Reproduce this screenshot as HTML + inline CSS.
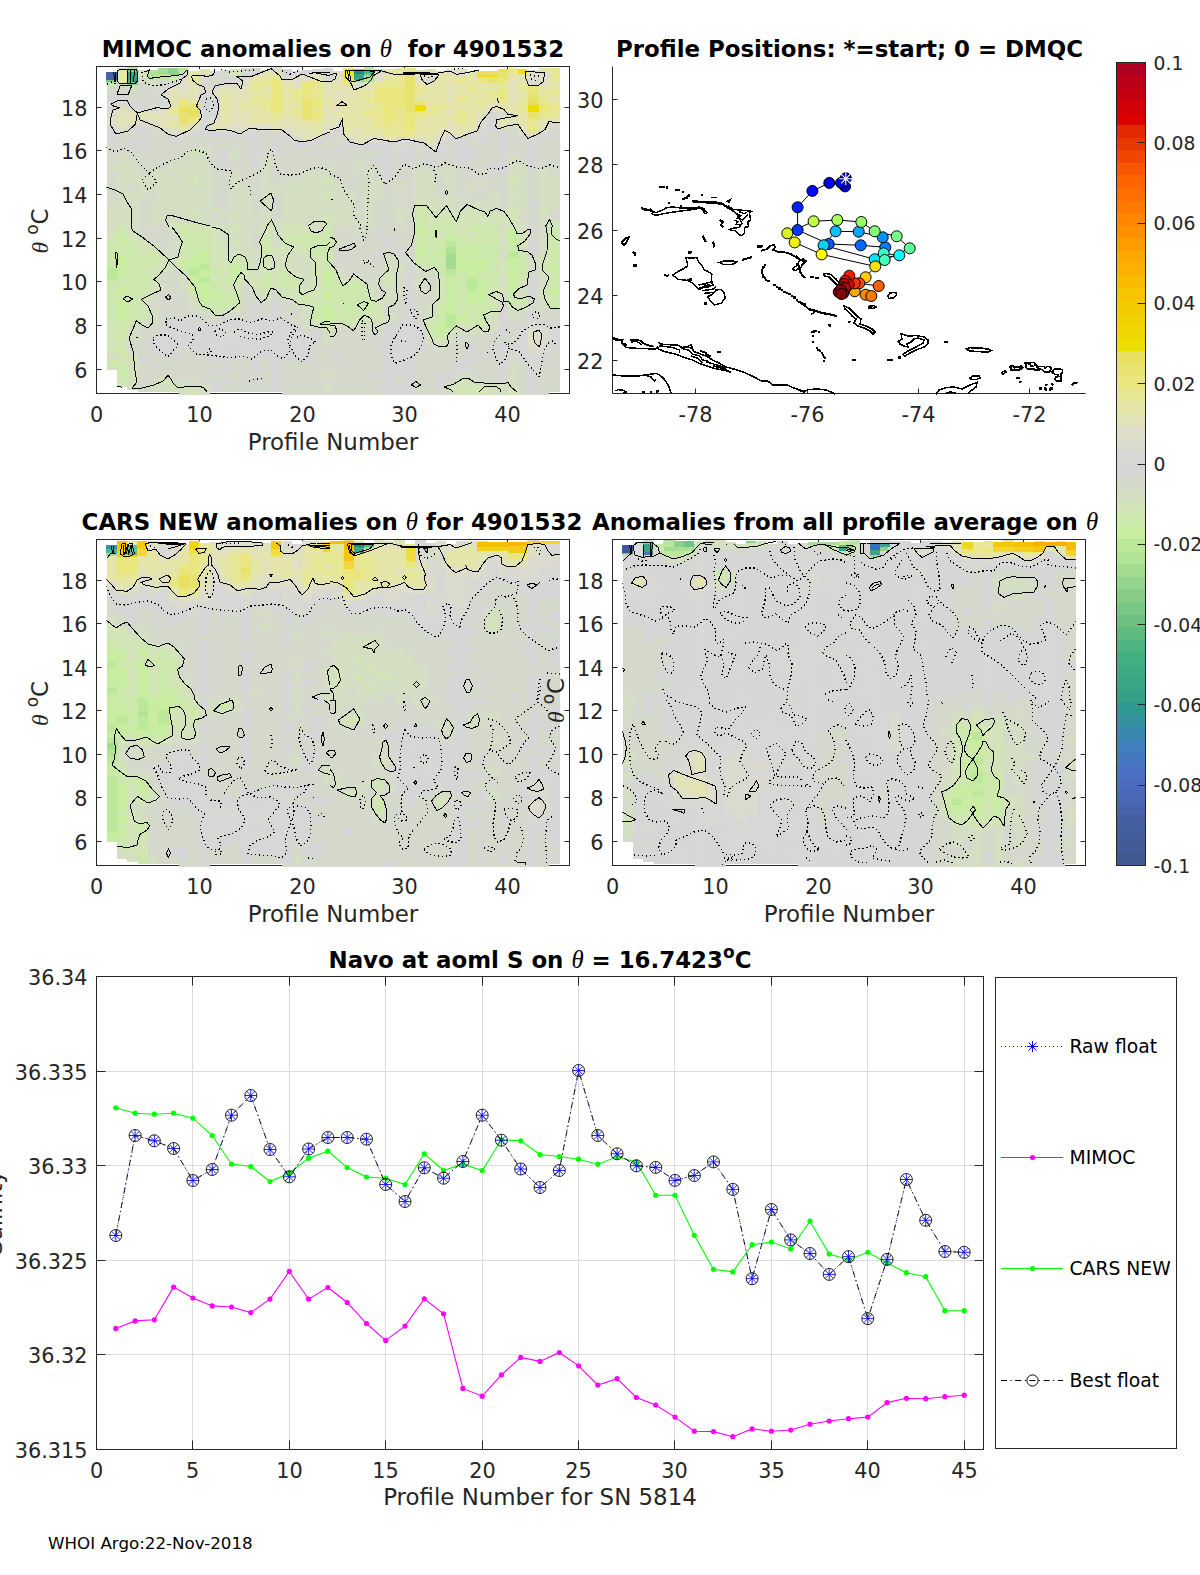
<!DOCTYPE html>
<html><head><meta charset="utf-8"><title>MIMOC anomalies 4901532</title>
<style>
html,body{margin:0;padding:0;background:#fff;}
body{width:1200px;height:1575px;overflow:hidden;}
svg{display:block;}
text{font-family:"DejaVu Sans","Liberation Sans",sans-serif;fill:#262626;}
.b{font-weight:bold;fill:#000;}
.th{font-family:"Liberation Serif","DejaVu Serif",serif;font-style:italic;font-weight:normal;}
</style></head><body>
<svg width="1200" height="1575" viewBox="0 0 1200 1575">
<rect width="1200" height="1575" fill="#fff"/>
<g shape-rendering="crispEdges">
<rect x="1116.5" y="62.500" width="29.0" height="13.147" fill="#ae0020"/>
<rect x="1116.5" y="75.047" width="29.0" height="13.147" fill="#b90018"/>
<rect x="1116.5" y="87.594" width="29.0" height="13.147" fill="#c40010"/>
<rect x="1116.5" y="100.141" width="29.0" height="13.147" fill="#cf0008"/>
<rect x="1116.5" y="112.688" width="29.0" height="13.147" fill="#da0000"/>
<rect x="1116.5" y="125.234" width="29.0" height="13.147" fill="#e22a00"/>
<rect x="1116.5" y="137.781" width="29.0" height="13.147" fill="#e93800"/>
<rect x="1116.5" y="150.328" width="29.0" height="13.147" fill="#f04700"/>
<rect x="1116.5" y="162.875" width="29.0" height="13.147" fill="#f85600"/>
<rect x="1116.5" y="175.422" width="29.0" height="13.147" fill="#ff6400"/>
<rect x="1116.5" y="187.969" width="29.0" height="13.147" fill="#ff6f00"/>
<rect x="1116.5" y="200.516" width="29.0" height="13.147" fill="#ff7b00"/>
<rect x="1116.5" y="213.062" width="29.0" height="13.147" fill="#ff8600"/>
<rect x="1116.5" y="225.609" width="29.0" height="13.147" fill="#ff9100"/>
<rect x="1116.5" y="238.156" width="29.0" height="13.147" fill="#ff9d00"/>
<rect x="1116.5" y="250.703" width="29.0" height="13.147" fill="#ffa800"/>
<rect x="1116.5" y="263.250" width="29.0" height="13.147" fill="#fcb100"/>
<rect x="1116.5" y="275.797" width="29.0" height="13.147" fill="#f9bb00"/>
<rect x="1116.5" y="288.344" width="29.0" height="13.147" fill="#f6c400"/>
<rect x="1116.5" y="300.891" width="29.0" height="13.147" fill="#f4cb00"/>
<rect x="1116.5" y="313.438" width="29.0" height="13.147" fill="#f1d200"/>
<rect x="1116.5" y="325.984" width="29.0" height="13.147" fill="#eed800"/>
<rect x="1116.5" y="338.531" width="29.0" height="13.147" fill="#ecdf00"/>
<rect x="1116.5" y="351.078" width="29.0" height="13.147" fill="#e8e060"/>
<rect x="1116.5" y="363.625" width="29.0" height="13.147" fill="#e8e36e"/>
<rect x="1116.5" y="376.172" width="29.0" height="13.147" fill="#e8e67c"/>
<rect x="1116.5" y="388.719" width="29.0" height="13.147" fill="#e6e693"/>
<rect x="1116.5" y="401.266" width="29.0" height="13.147" fill="#e5e5aa"/>
<rect x="1116.5" y="413.812" width="29.0" height="13.147" fill="#e2e2b9"/>
<rect x="1116.5" y="426.359" width="29.0" height="13.147" fill="#dfdec8"/>
<rect x="1116.5" y="438.906" width="29.0" height="13.147" fill="#dbdace"/>
<rect x="1116.5" y="451.453" width="29.0" height="13.147" fill="#d7d7d5"/>
<rect x="1116.5" y="464.000" width="29.0" height="13.147" fill="#d6d6d6"/>
<rect x="1116.5" y="476.547" width="29.0" height="13.147" fill="#d4d9cc"/>
<rect x="1116.5" y="489.094" width="29.0" height="13.147" fill="#d3dec2"/>
<rect x="1116.5" y="501.641" width="29.0" height="13.147" fill="#d2e4b8"/>
<rect x="1116.5" y="514.188" width="29.0" height="13.147" fill="#cde8ac"/>
<rect x="1116.5" y="526.734" width="29.0" height="13.147" fill="#c8eca0"/>
<rect x="1116.5" y="539.281" width="29.0" height="13.147" fill="#bce89a"/>
<rect x="1116.5" y="551.828" width="29.0" height="13.147" fill="#b0e494"/>
<rect x="1116.5" y="564.375" width="29.0" height="13.147" fill="#a3dc90"/>
<rect x="1116.5" y="576.922" width="29.0" height="13.147" fill="#95d48c"/>
<rect x="1116.5" y="589.469" width="29.0" height="13.147" fill="#88cc88"/>
<rect x="1116.5" y="602.016" width="29.0" height="13.147" fill="#7ac684"/>
<rect x="1116.5" y="614.562" width="29.0" height="13.147" fill="#6cc080"/>
<rect x="1116.5" y="627.109" width="29.0" height="13.147" fill="#5dbb80"/>
<rect x="1116.5" y="639.656" width="29.0" height="13.147" fill="#4fb580"/>
<rect x="1116.5" y="652.203" width="29.0" height="13.147" fill="#40b080"/>
<rect x="1116.5" y="664.750" width="29.0" height="13.147" fill="#3cab83"/>
<rect x="1116.5" y="677.297" width="29.0" height="13.147" fill="#38a585"/>
<rect x="1116.5" y="689.844" width="29.0" height="13.147" fill="#34a088"/>
<rect x="1116.5" y="702.391" width="29.0" height="13.147" fill="#2f9890"/>
<rect x="1116.5" y="714.938" width="29.0" height="13.147" fill="#35909f"/>
<rect x="1116.5" y="727.484" width="29.0" height="13.147" fill="#3a88ad"/>
<rect x="1116.5" y="740.031" width="29.0" height="13.147" fill="#4080bc"/>
<rect x="1116.5" y="752.578" width="29.0" height="13.147" fill="#4678c0"/>
<rect x="1116.5" y="765.125" width="29.0" height="13.147" fill="#4c70c4"/>
<rect x="1116.5" y="777.672" width="29.0" height="13.147" fill="#4c6cc0"/>
<rect x="1116.5" y="790.219" width="29.0" height="13.147" fill="#4968b6"/>
<rect x="1116.5" y="802.766" width="29.0" height="13.147" fill="#4764ac"/>
<rect x="1116.5" y="815.312" width="29.0" height="13.147" fill="#4460a2"/>
<rect x="1116.5" y="827.859" width="29.0" height="13.147" fill="#435e9c"/>
<rect x="1116.5" y="840.406" width="29.0" height="13.147" fill="#415c96"/>
<rect x="1116.5" y="852.953" width="29.0" height="13.147" fill="#405a90"/>
</g>
<rect x="1116.5" y="62.5" width="29.0" height="803.0" fill="none" stroke="#262626" stroke-width="1"/>
<text x="1153.60" y="69.50" font-size="18.75" text-anchor="start">0.1</text>
<line x1="1137.50" y1="142.50" x2="1145.50" y2="142.50" stroke="#262626" stroke-width="1"/>
<text x="1153.60" y="149.80" font-size="18.75" text-anchor="start">0.08</text>
<line x1="1137.50" y1="223.50" x2="1145.50" y2="223.50" stroke="#262626" stroke-width="1"/>
<text x="1153.60" y="230.10" font-size="18.75" text-anchor="start">0.06</text>
<line x1="1137.50" y1="303.50" x2="1145.50" y2="303.50" stroke="#262626" stroke-width="1"/>
<text x="1153.60" y="310.40" font-size="18.75" text-anchor="start">0.04</text>
<line x1="1137.50" y1="383.50" x2="1145.50" y2="383.50" stroke="#262626" stroke-width="1"/>
<text x="1153.60" y="390.70" font-size="18.75" text-anchor="start">0.02</text>
<line x1="1137.50" y1="464.50" x2="1145.50" y2="464.50" stroke="#262626" stroke-width="1"/>
<text x="1153.60" y="471.00" font-size="18.75" text-anchor="start">0</text>
<line x1="1137.50" y1="544.50" x2="1145.50" y2="544.50" stroke="#262626" stroke-width="1"/>
<text x="1153.60" y="551.30" font-size="18.75" text-anchor="start">-0.02</text>
<line x1="1137.50" y1="624.50" x2="1145.50" y2="624.50" stroke="#262626" stroke-width="1"/>
<text x="1153.60" y="631.60" font-size="18.75" text-anchor="start">-0.04</text>
<line x1="1137.50" y1="704.50" x2="1145.50" y2="704.50" stroke="#262626" stroke-width="1"/>
<text x="1153.60" y="711.90" font-size="18.75" text-anchor="start">-0.06</text>
<line x1="1137.50" y1="785.50" x2="1145.50" y2="785.50" stroke="#262626" stroke-width="1"/>
<text x="1153.60" y="792.20" font-size="18.75" text-anchor="start">-0.08</text>
<text x="1153.60" y="872.50" font-size="18.75" text-anchor="start">-0.1</text>
<rect x="96.5" y="66.5" width="473.0" height="327.0" fill="none" stroke="#262626" stroke-width="1"/>
<text x="96.50" y="421.50" font-size="20.8" text-anchor="middle">0</text>
<line x1="199.50" y1="393.50" x2="199.50" y2="388.50" stroke="#262626" stroke-width="1"/>
<line x1="199.50" y1="66.50" x2="199.50" y2="71.50" stroke="#262626" stroke-width="1"/>
<text x="199.50" y="421.50" font-size="20.8" text-anchor="middle">10</text>
<line x1="302.50" y1="393.50" x2="302.50" y2="388.50" stroke="#262626" stroke-width="1"/>
<line x1="302.50" y1="66.50" x2="302.50" y2="71.50" stroke="#262626" stroke-width="1"/>
<text x="302.50" y="421.50" font-size="20.8" text-anchor="middle">20</text>
<line x1="404.50" y1="393.50" x2="404.50" y2="388.50" stroke="#262626" stroke-width="1"/>
<line x1="404.50" y1="66.50" x2="404.50" y2="71.50" stroke="#262626" stroke-width="1"/>
<text x="404.50" y="421.50" font-size="20.8" text-anchor="middle">30</text>
<line x1="507.50" y1="393.50" x2="507.50" y2="388.50" stroke="#262626" stroke-width="1"/>
<line x1="507.50" y1="66.50" x2="507.50" y2="71.50" stroke="#262626" stroke-width="1"/>
<text x="507.50" y="421.50" font-size="20.8" text-anchor="middle">40</text>
<line x1="96.50" y1="369.50" x2="101.50" y2="369.50" stroke="#262626" stroke-width="1"/>
<line x1="569.50" y1="369.50" x2="564.50" y2="369.50" stroke="#262626" stroke-width="1"/>
<text x="87.50" y="377.70" font-size="20.8" text-anchor="end">6</text>
<line x1="96.50" y1="325.50" x2="101.50" y2="325.50" stroke="#262626" stroke-width="1"/>
<line x1="569.50" y1="325.50" x2="564.50" y2="325.50" stroke="#262626" stroke-width="1"/>
<text x="87.50" y="333.70" font-size="20.8" text-anchor="end">8</text>
<line x1="96.50" y1="281.50" x2="101.50" y2="281.50" stroke="#262626" stroke-width="1"/>
<line x1="569.50" y1="281.50" x2="564.50" y2="281.50" stroke="#262626" stroke-width="1"/>
<text x="87.50" y="289.70" font-size="20.8" text-anchor="end">10</text>
<line x1="96.50" y1="238.50" x2="101.50" y2="238.50" stroke="#262626" stroke-width="1"/>
<line x1="569.50" y1="238.50" x2="564.50" y2="238.50" stroke="#262626" stroke-width="1"/>
<text x="87.50" y="246.70" font-size="20.8" text-anchor="end">12</text>
<line x1="96.50" y1="194.50" x2="101.50" y2="194.50" stroke="#262626" stroke-width="1"/>
<line x1="569.50" y1="194.50" x2="564.50" y2="194.50" stroke="#262626" stroke-width="1"/>
<text x="87.50" y="202.70" font-size="20.8" text-anchor="end">14</text>
<line x1="96.50" y1="150.50" x2="101.50" y2="150.50" stroke="#262626" stroke-width="1"/>
<line x1="569.50" y1="150.50" x2="564.50" y2="150.50" stroke="#262626" stroke-width="1"/>
<text x="87.50" y="158.70" font-size="20.8" text-anchor="end">16</text>
<line x1="96.50" y1="107.50" x2="101.50" y2="107.50" stroke="#262626" stroke-width="1"/>
<line x1="569.50" y1="107.50" x2="564.50" y2="107.50" stroke="#262626" stroke-width="1"/>
<text x="87.50" y="115.70" font-size="20.8" text-anchor="end">18</text>
<text x="333.00" y="450.30" font-size="22.9" text-anchor="middle">Profile Number</text>
<rect x="96.5" y="539.5" width="473.0" height="326.0" fill="none" stroke="#262626" stroke-width="1"/>
<text x="96.50" y="893.50" font-size="20.8" text-anchor="middle">0</text>
<line x1="199.50" y1="865.50" x2="199.50" y2="860.50" stroke="#262626" stroke-width="1"/>
<line x1="199.50" y1="539.50" x2="199.50" y2="544.50" stroke="#262626" stroke-width="1"/>
<text x="199.50" y="893.50" font-size="20.8" text-anchor="middle">10</text>
<line x1="302.50" y1="865.50" x2="302.50" y2="860.50" stroke="#262626" stroke-width="1"/>
<line x1="302.50" y1="539.50" x2="302.50" y2="544.50" stroke="#262626" stroke-width="1"/>
<text x="302.50" y="893.50" font-size="20.8" text-anchor="middle">20</text>
<line x1="404.50" y1="865.50" x2="404.50" y2="860.50" stroke="#262626" stroke-width="1"/>
<line x1="404.50" y1="539.50" x2="404.50" y2="544.50" stroke="#262626" stroke-width="1"/>
<text x="404.50" y="893.50" font-size="20.8" text-anchor="middle">30</text>
<line x1="507.50" y1="865.50" x2="507.50" y2="860.50" stroke="#262626" stroke-width="1"/>
<line x1="507.50" y1="539.50" x2="507.50" y2="544.50" stroke="#262626" stroke-width="1"/>
<text x="507.50" y="893.50" font-size="20.8" text-anchor="middle">40</text>
<line x1="96.50" y1="841.50" x2="101.50" y2="841.50" stroke="#262626" stroke-width="1"/>
<line x1="569.50" y1="841.50" x2="564.50" y2="841.50" stroke="#262626" stroke-width="1"/>
<text x="87.50" y="849.70" font-size="20.8" text-anchor="end">6</text>
<line x1="96.50" y1="797.50" x2="101.50" y2="797.50" stroke="#262626" stroke-width="1"/>
<line x1="569.50" y1="797.50" x2="564.50" y2="797.50" stroke="#262626" stroke-width="1"/>
<text x="87.50" y="805.70" font-size="20.8" text-anchor="end">8</text>
<line x1="96.50" y1="754.50" x2="101.50" y2="754.50" stroke="#262626" stroke-width="1"/>
<line x1="569.50" y1="754.50" x2="564.50" y2="754.50" stroke="#262626" stroke-width="1"/>
<text x="87.50" y="762.70" font-size="20.8" text-anchor="end">10</text>
<line x1="96.50" y1="710.50" x2="101.50" y2="710.50" stroke="#262626" stroke-width="1"/>
<line x1="569.50" y1="710.50" x2="564.50" y2="710.50" stroke="#262626" stroke-width="1"/>
<text x="87.50" y="718.70" font-size="20.8" text-anchor="end">12</text>
<line x1="96.50" y1="667.50" x2="101.50" y2="667.50" stroke="#262626" stroke-width="1"/>
<line x1="569.50" y1="667.50" x2="564.50" y2="667.50" stroke="#262626" stroke-width="1"/>
<text x="87.50" y="675.70" font-size="20.8" text-anchor="end">14</text>
<line x1="96.50" y1="623.50" x2="101.50" y2="623.50" stroke="#262626" stroke-width="1"/>
<line x1="569.50" y1="623.50" x2="564.50" y2="623.50" stroke="#262626" stroke-width="1"/>
<text x="87.50" y="631.70" font-size="20.8" text-anchor="end">16</text>
<line x1="96.50" y1="580.50" x2="101.50" y2="580.50" stroke="#262626" stroke-width="1"/>
<line x1="569.50" y1="580.50" x2="564.50" y2="580.50" stroke="#262626" stroke-width="1"/>
<text x="87.50" y="588.70" font-size="20.8" text-anchor="end">18</text>
<text x="333.00" y="922.30" font-size="22.9" text-anchor="middle">Profile Number</text>
<rect x="612.5" y="539.5" width="473.0" height="326.0" fill="none" stroke="#262626" stroke-width="1"/>
<text x="612.50" y="893.50" font-size="20.8" text-anchor="middle">0</text>
<line x1="715.50" y1="865.50" x2="715.50" y2="860.50" stroke="#262626" stroke-width="1"/>
<line x1="715.50" y1="539.50" x2="715.50" y2="544.50" stroke="#262626" stroke-width="1"/>
<text x="715.50" y="893.50" font-size="20.8" text-anchor="middle">10</text>
<line x1="818.50" y1="865.50" x2="818.50" y2="860.50" stroke="#262626" stroke-width="1"/>
<line x1="818.50" y1="539.50" x2="818.50" y2="544.50" stroke="#262626" stroke-width="1"/>
<text x="818.50" y="893.50" font-size="20.8" text-anchor="middle">20</text>
<line x1="920.50" y1="865.50" x2="920.50" y2="860.50" stroke="#262626" stroke-width="1"/>
<line x1="920.50" y1="539.50" x2="920.50" y2="544.50" stroke="#262626" stroke-width="1"/>
<text x="920.50" y="893.50" font-size="20.8" text-anchor="middle">30</text>
<line x1="1023.50" y1="865.50" x2="1023.50" y2="860.50" stroke="#262626" stroke-width="1"/>
<line x1="1023.50" y1="539.50" x2="1023.50" y2="544.50" stroke="#262626" stroke-width="1"/>
<text x="1023.50" y="893.50" font-size="20.8" text-anchor="middle">40</text>
<line x1="612.50" y1="841.50" x2="617.50" y2="841.50" stroke="#262626" stroke-width="1"/>
<line x1="1085.50" y1="841.50" x2="1080.50" y2="841.50" stroke="#262626" stroke-width="1"/>
<text x="603.50" y="849.70" font-size="20.8" text-anchor="end">6</text>
<line x1="612.50" y1="797.50" x2="617.50" y2="797.50" stroke="#262626" stroke-width="1"/>
<line x1="1085.50" y1="797.50" x2="1080.50" y2="797.50" stroke="#262626" stroke-width="1"/>
<text x="603.50" y="805.70" font-size="20.8" text-anchor="end">8</text>
<line x1="612.50" y1="754.50" x2="617.50" y2="754.50" stroke="#262626" stroke-width="1"/>
<line x1="1085.50" y1="754.50" x2="1080.50" y2="754.50" stroke="#262626" stroke-width="1"/>
<text x="603.50" y="762.70" font-size="20.8" text-anchor="end">10</text>
<line x1="612.50" y1="710.50" x2="617.50" y2="710.50" stroke="#262626" stroke-width="1"/>
<line x1="1085.50" y1="710.50" x2="1080.50" y2="710.50" stroke="#262626" stroke-width="1"/>
<text x="603.50" y="718.70" font-size="20.8" text-anchor="end">12</text>
<line x1="612.50" y1="667.50" x2="617.50" y2="667.50" stroke="#262626" stroke-width="1"/>
<line x1="1085.50" y1="667.50" x2="1080.50" y2="667.50" stroke="#262626" stroke-width="1"/>
<text x="603.50" y="675.70" font-size="20.8" text-anchor="end">14</text>
<line x1="612.50" y1="623.50" x2="617.50" y2="623.50" stroke="#262626" stroke-width="1"/>
<line x1="1085.50" y1="623.50" x2="1080.50" y2="623.50" stroke="#262626" stroke-width="1"/>
<text x="603.50" y="631.70" font-size="20.8" text-anchor="end">16</text>
<line x1="612.50" y1="580.50" x2="617.50" y2="580.50" stroke="#262626" stroke-width="1"/>
<line x1="1085.50" y1="580.50" x2="1080.50" y2="580.50" stroke="#262626" stroke-width="1"/>
<text x="603.50" y="588.70" font-size="20.8" text-anchor="end">18</text>
<text x="849.00" y="922.30" font-size="22.9" text-anchor="middle">Profile Number</text>
<text x="333" y="56.7" font-size="22.9" text-anchor="middle" class="b" xml:space="preserve">MIMOC anomalies on <tspan class="th" font-size="24.8">θ</tspan>  for 4901532</text>
<text x="849.5" y="56.7" font-size="22.9" text-anchor="middle" class="b">Profile Positions: *=start; 0 = DMQC</text>
<text x="332" y="529.7" font-size="22.9" text-anchor="middle" class="b">CARS NEW anomalies on <tspan class="th" font-size="24.8">θ</tspan> for 4901532</text>
<text x="845" y="529.7" font-size="22.9" text-anchor="middle" class="b">Anomalies from all profile average on <tspan class="th" font-size="24.8">θ</tspan></text>
<text x="540" y="967.5" font-size="22.9" text-anchor="middle" class="b">Navo at aoml S on <tspan class="th" font-size="24.8">θ</tspan> = 16.7423<tspan font-size="17" dy="-10">o</tspan><tspan dy="10">C</tspan></text>
<line x1="612.50" y1="66.50" x2="612.50" y2="393.50" stroke="#262626" stroke-width="1"/>
<line x1="612.50" y1="393.50" x2="1085.50" y2="393.50" stroke="#262626" stroke-width="1"/>
<line x1="695.50" y1="393.50" x2="695.50" y2="388.50" stroke="#262626" stroke-width="1"/>
<text x="695.50" y="421.50" font-size="20.8" text-anchor="middle">-78</text>
<line x1="807.50" y1="393.50" x2="807.50" y2="388.50" stroke="#262626" stroke-width="1"/>
<text x="807.50" y="421.50" font-size="20.8" text-anchor="middle">-76</text>
<line x1="918.50" y1="393.50" x2="918.50" y2="388.50" stroke="#262626" stroke-width="1"/>
<text x="918.50" y="421.50" font-size="20.8" text-anchor="middle">-74</text>
<line x1="1029.50" y1="393.50" x2="1029.50" y2="388.50" stroke="#262626" stroke-width="1"/>
<text x="1029.50" y="421.50" font-size="20.8" text-anchor="middle">-72</text>
<line x1="612.50" y1="360.50" x2="617.50" y2="360.50" stroke="#262626" stroke-width="1"/>
<text x="603.50" y="368.70" font-size="20.8" text-anchor="end">22</text>
<line x1="612.50" y1="295.50" x2="617.50" y2="295.50" stroke="#262626" stroke-width="1"/>
<text x="603.50" y="303.70" font-size="20.8" text-anchor="end">24</text>
<line x1="612.50" y1="230.50" x2="617.50" y2="230.50" stroke="#262626" stroke-width="1"/>
<text x="603.50" y="238.70" font-size="20.8" text-anchor="end">26</text>
<line x1="612.50" y1="164.50" x2="617.50" y2="164.50" stroke="#262626" stroke-width="1"/>
<text x="603.50" y="172.70" font-size="20.8" text-anchor="end">28</text>
<line x1="612.50" y1="99.50" x2="617.50" y2="99.50" stroke="#262626" stroke-width="1"/>
<text x="603.50" y="107.70" font-size="20.8" text-anchor="end">30</text>
<line x1="192.50" y1="976.50" x2="192.50" y2="1449.50" stroke="#dcdcdc" stroke-width="1"/>
<line x1="289.50" y1="976.50" x2="289.50" y2="1449.50" stroke="#dcdcdc" stroke-width="1"/>
<line x1="385.50" y1="976.50" x2="385.50" y2="1449.50" stroke="#dcdcdc" stroke-width="1"/>
<line x1="482.50" y1="976.50" x2="482.50" y2="1449.50" stroke="#dcdcdc" stroke-width="1"/>
<line x1="578.50" y1="976.50" x2="578.50" y2="1449.50" stroke="#dcdcdc" stroke-width="1"/>
<line x1="674.50" y1="976.50" x2="674.50" y2="1449.50" stroke="#dcdcdc" stroke-width="1"/>
<line x1="771.50" y1="976.50" x2="771.50" y2="1449.50" stroke="#dcdcdc" stroke-width="1"/>
<line x1="867.50" y1="976.50" x2="867.50" y2="1449.50" stroke="#dcdcdc" stroke-width="1"/>
<line x1="964.50" y1="976.50" x2="964.50" y2="1449.50" stroke="#dcdcdc" stroke-width="1"/>
<line x1="96.50" y1="1354.50" x2="983.50" y2="1354.50" stroke="#dcdcdc" stroke-width="1"/>
<line x1="96.50" y1="1260.50" x2="983.50" y2="1260.50" stroke="#dcdcdc" stroke-width="1"/>
<line x1="96.50" y1="1165.50" x2="983.50" y2="1165.50" stroke="#dcdcdc" stroke-width="1"/>
<line x1="96.50" y1="1071.50" x2="983.50" y2="1071.50" stroke="#dcdcdc" stroke-width="1"/>
<rect x="96.5" y="976.5" width="887.0" height="473.0" fill="none" stroke="#262626" stroke-width="1"/>
<text x="96.50" y="1477.50" font-size="20.8" text-anchor="middle">0</text>
<line x1="192.50" y1="1449.50" x2="192.50" y2="1440.50" stroke="#262626" stroke-width="1"/>
<line x1="192.50" y1="976.50" x2="192.50" y2="985.50" stroke="#262626" stroke-width="1"/>
<text x="192.50" y="1477.50" font-size="20.8" text-anchor="middle">5</text>
<line x1="289.50" y1="1449.50" x2="289.50" y2="1440.50" stroke="#262626" stroke-width="1"/>
<line x1="289.50" y1="976.50" x2="289.50" y2="985.50" stroke="#262626" stroke-width="1"/>
<text x="289.50" y="1477.50" font-size="20.8" text-anchor="middle">10</text>
<line x1="385.50" y1="1449.50" x2="385.50" y2="1440.50" stroke="#262626" stroke-width="1"/>
<line x1="385.50" y1="976.50" x2="385.50" y2="985.50" stroke="#262626" stroke-width="1"/>
<text x="385.50" y="1477.50" font-size="20.8" text-anchor="middle">15</text>
<line x1="482.50" y1="1449.50" x2="482.50" y2="1440.50" stroke="#262626" stroke-width="1"/>
<line x1="482.50" y1="976.50" x2="482.50" y2="985.50" stroke="#262626" stroke-width="1"/>
<text x="482.50" y="1477.50" font-size="20.8" text-anchor="middle">20</text>
<line x1="578.50" y1="1449.50" x2="578.50" y2="1440.50" stroke="#262626" stroke-width="1"/>
<line x1="578.50" y1="976.50" x2="578.50" y2="985.50" stroke="#262626" stroke-width="1"/>
<text x="578.50" y="1477.50" font-size="20.8" text-anchor="middle">25</text>
<line x1="674.50" y1="1449.50" x2="674.50" y2="1440.50" stroke="#262626" stroke-width="1"/>
<line x1="674.50" y1="976.50" x2="674.50" y2="985.50" stroke="#262626" stroke-width="1"/>
<text x="674.50" y="1477.50" font-size="20.8" text-anchor="middle">30</text>
<line x1="771.50" y1="1449.50" x2="771.50" y2="1440.50" stroke="#262626" stroke-width="1"/>
<line x1="771.50" y1="976.50" x2="771.50" y2="985.50" stroke="#262626" stroke-width="1"/>
<text x="771.50" y="1477.50" font-size="20.8" text-anchor="middle">35</text>
<line x1="867.50" y1="1449.50" x2="867.50" y2="1440.50" stroke="#262626" stroke-width="1"/>
<line x1="867.50" y1="976.50" x2="867.50" y2="985.50" stroke="#262626" stroke-width="1"/>
<text x="867.50" y="1477.50" font-size="20.8" text-anchor="middle">40</text>
<line x1="964.50" y1="1449.50" x2="964.50" y2="1440.50" stroke="#262626" stroke-width="1"/>
<line x1="964.50" y1="976.50" x2="964.50" y2="985.50" stroke="#262626" stroke-width="1"/>
<text x="964.50" y="1477.50" font-size="20.8" text-anchor="middle">45</text>
<text x="87.50" y="1457.50" font-size="20.8" text-anchor="end">36.315</text>
<line x1="96.50" y1="1354.50" x2="105.50" y2="1354.50" stroke="#262626" stroke-width="1"/>
<line x1="983.50" y1="1354.50" x2="974.50" y2="1354.50" stroke="#262626" stroke-width="1"/>
<text x="87.50" y="1362.50" font-size="20.8" text-anchor="end">36.32</text>
<line x1="96.50" y1="1260.50" x2="105.50" y2="1260.50" stroke="#262626" stroke-width="1"/>
<line x1="983.50" y1="1260.50" x2="974.50" y2="1260.50" stroke="#262626" stroke-width="1"/>
<text x="87.50" y="1268.50" font-size="20.8" text-anchor="end">36.325</text>
<line x1="96.50" y1="1165.50" x2="105.50" y2="1165.50" stroke="#262626" stroke-width="1"/>
<line x1="983.50" y1="1165.50" x2="974.50" y2="1165.50" stroke="#262626" stroke-width="1"/>
<text x="87.50" y="1173.50" font-size="20.8" text-anchor="end">36.33</text>
<line x1="96.50" y1="1071.50" x2="105.50" y2="1071.50" stroke="#262626" stroke-width="1"/>
<line x1="983.50" y1="1071.50" x2="974.50" y2="1071.50" stroke="#262626" stroke-width="1"/>
<text x="87.50" y="1079.50" font-size="20.8" text-anchor="end">36.335</text>
<text x="87.50" y="984.50" font-size="20.8" text-anchor="end">36.34</text>
<text x="540.00" y="1505.30" font-size="22.9" text-anchor="middle">Profile Number for SN 5814</text>
<g transform="translate(2,1212.5) rotate(-90)"><text x="0" y="0" font-size="22.9" text-anchor="middle">Salinity</text></g>
<text x="48.00" y="1549.00" font-size="16.7" text-anchor="start" style="fill:#000">WHOI Argo:22-Nov-2018</text>
<polyline fill="none" stroke="#ff00ff" stroke-width="1.1" points="115.8,1328.4 135.1,1320.9 154.3,1319.8 173.6,1287.1 192.9,1298.0 212.2,1305.9 231.5,1307.0 250.8,1312.6 270.0,1299.1 289.3,1271.4 308.6,1299.1 327.9,1287.5 347.2,1302.5 366.5,1323.5 385.7,1340.4 405.0,1326.1 424.3,1298.8 443.6,1313.8 462.9,1388.4 482.2,1396.2 501.4,1374.9 520.7,1357.4 540.0,1361.4 559.3,1352.5 578.6,1365.8 597.8,1385.0 617.1,1378.7 636.4,1397.5 655.7,1405.0 675.0,1417.1 694.3,1431.2 713.5,1431.6 732.8,1436.7 752.1,1428.9 771.4,1431.2 790.7,1430.0 810.0,1424.2 829.2,1421.0 848.5,1418.7 867.8,1417.1 887.1,1402.6 906.4,1398.3 925.7,1398.7 944.9,1396.7 964.2,1395.2"/>
<g fill="#ff00ff"><circle cx="115.8" cy="1328.4" r="2.6"/><circle cx="135.1" cy="1320.9" r="2.6"/><circle cx="154.3" cy="1319.8" r="2.6"/><circle cx="173.6" cy="1287.1" r="2.6"/><circle cx="192.9" cy="1298.0" r="2.6"/><circle cx="212.2" cy="1305.9" r="2.6"/><circle cx="231.5" cy="1307.0" r="2.6"/><circle cx="250.8" cy="1312.6" r="2.6"/><circle cx="270.0" cy="1299.1" r="2.6"/><circle cx="289.3" cy="1271.4" r="2.6"/><circle cx="308.6" cy="1299.1" r="2.6"/><circle cx="327.9" cy="1287.5" r="2.6"/><circle cx="347.2" cy="1302.5" r="2.6"/><circle cx="366.5" cy="1323.5" r="2.6"/><circle cx="385.7" cy="1340.4" r="2.6"/><circle cx="405.0" cy="1326.1" r="2.6"/><circle cx="424.3" cy="1298.8" r="2.6"/><circle cx="443.6" cy="1313.8" r="2.6"/><circle cx="462.9" cy="1388.4" r="2.6"/><circle cx="482.2" cy="1396.2" r="2.6"/><circle cx="501.4" cy="1374.9" r="2.6"/><circle cx="520.7" cy="1357.4" r="2.6"/><circle cx="540.0" cy="1361.4" r="2.6"/><circle cx="559.3" cy="1352.5" r="2.6"/><circle cx="578.6" cy="1365.8" r="2.6"/><circle cx="597.8" cy="1385.0" r="2.6"/><circle cx="617.1" cy="1378.7" r="2.6"/><circle cx="636.4" cy="1397.5" r="2.6"/><circle cx="655.7" cy="1405.0" r="2.6"/><circle cx="675.0" cy="1417.1" r="2.6"/><circle cx="694.3" cy="1431.2" r="2.6"/><circle cx="713.5" cy="1431.6" r="2.6"/><circle cx="732.8" cy="1436.7" r="2.6"/><circle cx="752.1" cy="1428.9" r="2.6"/><circle cx="771.4" cy="1431.2" r="2.6"/><circle cx="790.7" cy="1430.0" r="2.6"/><circle cx="810.0" cy="1424.2" r="2.6"/><circle cx="829.2" cy="1421.0" r="2.6"/><circle cx="848.5" cy="1418.7" r="2.6"/><circle cx="867.8" cy="1417.1" r="2.6"/><circle cx="887.1" cy="1402.6" r="2.6"/><circle cx="906.4" cy="1398.3" r="2.6"/><circle cx="925.7" cy="1398.7" r="2.6"/><circle cx="944.9" cy="1396.7" r="2.6"/><circle cx="964.2" cy="1395.2" r="2.6"/></g>
<polyline fill="none" stroke="#00ff00" stroke-width="1.1" points="115.8,1107.8 135.1,1113.2 154.3,1114.2 173.6,1113.2 192.9,1118.2 212.2,1135.5 231.5,1164.0 250.8,1166.5 270.0,1181.5 289.3,1173.2 308.6,1158.2 327.9,1151.2 347.2,1167.5 366.5,1177.0 385.7,1178.2 405.0,1184.5 424.3,1153.8 443.6,1170.5 462.9,1164.2 482.2,1170.5 501.4,1139.8 520.7,1140.8 540.0,1154.5 559.3,1156.5 578.6,1159.2 597.8,1164.2 617.1,1156.8 636.4,1162.0 655.7,1195.3 675.0,1195.3 694.3,1235.3 713.5,1269.3 732.8,1271.9 752.1,1244.7 771.4,1242.1 790.7,1248.9 810.0,1221.2 829.2,1254.0 848.5,1259.7 867.8,1252.3 887.1,1263.1 906.4,1272.7 925.7,1276.7 944.9,1310.7 964.2,1310.7"/>
<g fill="#00ff00"><circle cx="115.8" cy="1107.8" r="2.6"/><circle cx="135.1" cy="1113.2" r="2.6"/><circle cx="154.3" cy="1114.2" r="2.6"/><circle cx="173.6" cy="1113.2" r="2.6"/><circle cx="192.9" cy="1118.2" r="2.6"/><circle cx="212.2" cy="1135.5" r="2.6"/><circle cx="231.5" cy="1164.0" r="2.6"/><circle cx="250.8" cy="1166.5" r="2.6"/><circle cx="270.0" cy="1181.5" r="2.6"/><circle cx="289.3" cy="1173.2" r="2.6"/><circle cx="308.6" cy="1158.2" r="2.6"/><circle cx="327.9" cy="1151.2" r="2.6"/><circle cx="347.2" cy="1167.5" r="2.6"/><circle cx="366.5" cy="1177.0" r="2.6"/><circle cx="385.7" cy="1178.2" r="2.6"/><circle cx="405.0" cy="1184.5" r="2.6"/><circle cx="424.3" cy="1153.8" r="2.6"/><circle cx="443.6" cy="1170.5" r="2.6"/><circle cx="462.9" cy="1164.2" r="2.6"/><circle cx="482.2" cy="1170.5" r="2.6"/><circle cx="501.4" cy="1139.8" r="2.6"/><circle cx="520.7" cy="1140.8" r="2.6"/><circle cx="540.0" cy="1154.5" r="2.6"/><circle cx="559.3" cy="1156.5" r="2.6"/><circle cx="578.6" cy="1159.2" r="2.6"/><circle cx="597.8" cy="1164.2" r="2.6"/><circle cx="617.1" cy="1156.8" r="2.6"/><circle cx="636.4" cy="1162.0" r="2.6"/><circle cx="655.7" cy="1195.3" r="2.6"/><circle cx="675.0" cy="1195.3" r="2.6"/><circle cx="694.3" cy="1235.3" r="2.6"/><circle cx="713.5" cy="1269.3" r="2.6"/><circle cx="732.8" cy="1271.9" r="2.6"/><circle cx="752.1" cy="1244.7" r="2.6"/><circle cx="771.4" cy="1242.1" r="2.6"/><circle cx="790.7" cy="1248.9" r="2.6"/><circle cx="810.0" cy="1221.2" r="2.6"/><circle cx="829.2" cy="1254.0" r="2.6"/><circle cx="848.5" cy="1259.7" r="2.6"/><circle cx="867.8" cy="1252.3" r="2.6"/><circle cx="887.1" cy="1263.1" r="2.6"/><circle cx="906.4" cy="1272.7" r="2.6"/><circle cx="925.7" cy="1276.7" r="2.6"/><circle cx="944.9" cy="1310.7" r="2.6"/><circle cx="964.2" cy="1310.7" r="2.6"/></g>
<polyline fill="none" stroke="#0000ff" stroke-width="0.9" points="115.8,1235.5 135.1,1135.5 154.3,1140.8 173.6,1148.5 192.9,1180.5 212.2,1169.5 231.5,1115.2 250.8,1095.5 270.0,1149.5 289.3,1176.8 308.6,1149.0 327.9,1137.5 347.2,1137.5 366.5,1139.2 385.7,1184.5 405.0,1201.5 424.3,1167.8 443.6,1178.2 462.9,1161.5 482.2,1115.2 501.4,1140.2 520.7,1169.0 540.0,1187.5 559.3,1170.5 578.6,1070.5 597.8,1135.5 617.1,1153.8 636.4,1165.8 655.7,1167.4 675.0,1180.4 694.3,1175.5 713.5,1161.9 732.8,1189.4 752.1,1278.7 771.4,1209.5 790.7,1239.9 810.0,1253.5 829.2,1274.4 848.5,1256.6 867.8,1318.6 887.1,1259.4 906.4,1179.5 925.7,1220.3 944.9,1251.5 964.2,1252.3" stroke-dasharray="1 3"/>
<polyline fill="none" stroke="#000" stroke-width="0.9" points="115.8,1235.5 135.1,1135.5 154.3,1140.8 173.6,1148.5 192.9,1180.5 212.2,1169.5 231.5,1115.2 250.8,1095.5 270.0,1149.5 289.3,1176.8 308.6,1149.0 327.9,1137.5 347.2,1137.5 366.5,1139.2 385.7,1184.5 405.0,1201.5 424.3,1167.8 443.6,1178.2 462.9,1161.5 482.2,1115.2 501.4,1140.2 520.7,1169.0 540.0,1187.5 559.3,1170.5 578.6,1070.5 597.8,1135.5 617.1,1153.8 636.4,1165.8 655.7,1167.4 675.0,1180.4 694.3,1175.5 713.5,1161.9 732.8,1189.4 752.1,1278.7 771.4,1209.5 790.7,1239.9 810.0,1253.5 829.2,1274.4 848.5,1256.6 867.8,1318.6 887.1,1259.4 906.4,1179.5 925.7,1220.3 944.9,1251.5 964.2,1252.3" stroke-dasharray="6 3.5 1.2 3.5"/>
<path d="M109.78 1235.50L121.78 1235.50M111.54 1231.26L120.03 1239.74M115.78 1229.50L115.78 1241.50M120.03 1231.26L111.54 1239.74" stroke="#0000ff" stroke-width="0.85" fill="none"/>
<circle cx="115.8" cy="1235.5" r="6.0" fill="none" stroke="#000" stroke-width="0.85"/>
<path d="M129.07 1135.50L141.07 1135.50M130.82 1131.26L139.31 1139.74M135.07 1129.50L135.07 1141.50M139.31 1131.26L130.82 1139.74" stroke="#0000ff" stroke-width="0.85" fill="none"/>
<circle cx="135.1" cy="1135.5" r="6.0" fill="none" stroke="#000" stroke-width="0.85"/>
<path d="M148.35 1140.75L160.35 1140.75M150.11 1136.51L158.59 1144.99M154.35 1134.75L154.35 1146.75M158.59 1136.51L150.11 1144.99" stroke="#0000ff" stroke-width="0.85" fill="none"/>
<circle cx="154.3" cy="1140.8" r="6.0" fill="none" stroke="#000" stroke-width="0.85"/>
<path d="M167.63 1148.50L179.63 1148.50M169.39 1144.26L177.87 1152.74M173.63 1142.50L173.63 1154.50M177.87 1144.26L169.39 1152.74" stroke="#0000ff" stroke-width="0.85" fill="none"/>
<circle cx="173.6" cy="1148.5" r="6.0" fill="none" stroke="#000" stroke-width="0.85"/>
<path d="M186.91 1180.50L198.91 1180.50M188.67 1176.26L197.16 1184.74M192.91 1174.50L192.91 1186.50M197.16 1176.26L188.67 1184.74" stroke="#0000ff" stroke-width="0.85" fill="none"/>
<circle cx="192.9" cy="1180.5" r="6.0" fill="none" stroke="#000" stroke-width="0.85"/>
<path d="M206.20 1169.50L218.20 1169.50M207.95 1165.26L216.44 1173.74M212.20 1163.50L212.20 1175.50M216.44 1165.26L207.95 1173.74" stroke="#0000ff" stroke-width="0.85" fill="none"/>
<circle cx="212.2" cy="1169.5" r="6.0" fill="none" stroke="#000" stroke-width="0.85"/>
<path d="M225.48 1115.25L237.48 1115.25M227.24 1111.01L235.72 1119.49M231.48 1109.25L231.48 1121.25M235.72 1111.01L227.24 1119.49" stroke="#0000ff" stroke-width="0.85" fill="none"/>
<circle cx="231.5" cy="1115.2" r="6.0" fill="none" stroke="#000" stroke-width="0.85"/>
<path d="M244.76 1095.50L256.76 1095.50M246.52 1091.26L255.00 1099.74M250.76 1089.50L250.76 1101.50M255.00 1091.26L246.52 1099.74" stroke="#0000ff" stroke-width="0.85" fill="none"/>
<circle cx="250.8" cy="1095.5" r="6.0" fill="none" stroke="#000" stroke-width="0.85"/>
<path d="M264.04 1149.50L276.04 1149.50M265.80 1145.26L274.29 1153.74M270.04 1143.50L270.04 1155.50M274.29 1145.26L265.80 1153.74" stroke="#0000ff" stroke-width="0.85" fill="none"/>
<circle cx="270.0" cy="1149.5" r="6.0" fill="none" stroke="#000" stroke-width="0.85"/>
<path d="M283.33 1176.75L295.33 1176.75M285.08 1172.51L293.57 1180.99M289.33 1170.75L289.33 1182.75M293.57 1172.51L285.08 1180.99" stroke="#0000ff" stroke-width="0.85" fill="none"/>
<circle cx="289.3" cy="1176.8" r="6.0" fill="none" stroke="#000" stroke-width="0.85"/>
<path d="M302.61 1149.00L314.61 1149.00M304.37 1144.76L312.85 1153.24M308.61 1143.00L308.61 1155.00M312.85 1144.76L304.37 1153.24" stroke="#0000ff" stroke-width="0.85" fill="none"/>
<circle cx="308.6" cy="1149.0" r="6.0" fill="none" stroke="#000" stroke-width="0.85"/>
<path d="M321.89 1137.50L333.89 1137.50M323.65 1133.26L332.13 1141.74M327.89 1131.50L327.89 1143.50M332.13 1133.26L323.65 1141.74" stroke="#0000ff" stroke-width="0.85" fill="none"/>
<circle cx="327.9" cy="1137.5" r="6.0" fill="none" stroke="#000" stroke-width="0.85"/>
<path d="M341.17 1137.50L353.17 1137.50M342.93 1133.26L351.42 1141.74M347.17 1131.50L347.17 1143.50M351.42 1133.26L342.93 1141.74" stroke="#0000ff" stroke-width="0.85" fill="none"/>
<circle cx="347.2" cy="1137.5" r="6.0" fill="none" stroke="#000" stroke-width="0.85"/>
<path d="M360.46 1139.25L372.46 1139.25M362.21 1135.01L370.70 1143.49M366.46 1133.25L366.46 1145.25M370.70 1135.01L362.21 1143.49" stroke="#0000ff" stroke-width="0.85" fill="none"/>
<circle cx="366.5" cy="1139.2" r="6.0" fill="none" stroke="#000" stroke-width="0.85"/>
<path d="M379.74 1184.50L391.74 1184.50M381.50 1180.26L389.98 1188.74M385.74 1178.50L385.74 1190.50M389.98 1180.26L381.50 1188.74" stroke="#0000ff" stroke-width="0.85" fill="none"/>
<circle cx="385.7" cy="1184.5" r="6.0" fill="none" stroke="#000" stroke-width="0.85"/>
<path d="M399.02 1201.50L411.02 1201.50M400.78 1197.26L409.26 1205.74M405.02 1195.50L405.02 1207.50M409.26 1197.26L400.78 1205.74" stroke="#0000ff" stroke-width="0.85" fill="none"/>
<circle cx="405.0" cy="1201.5" r="6.0" fill="none" stroke="#000" stroke-width="0.85"/>
<path d="M418.30 1167.75L430.30 1167.75M420.06 1163.51L428.55 1171.99M424.30 1161.75L424.30 1173.75M428.55 1163.51L420.06 1171.99" stroke="#0000ff" stroke-width="0.85" fill="none"/>
<circle cx="424.3" cy="1167.8" r="6.0" fill="none" stroke="#000" stroke-width="0.85"/>
<path d="M437.59 1178.25L449.59 1178.25M439.34 1174.01L447.83 1182.49M443.59 1172.25L443.59 1184.25M447.83 1174.01L439.34 1182.49" stroke="#0000ff" stroke-width="0.85" fill="none"/>
<circle cx="443.6" cy="1178.2" r="6.0" fill="none" stroke="#000" stroke-width="0.85"/>
<path d="M456.87 1161.50L468.87 1161.50M458.63 1157.26L467.11 1165.74M462.87 1155.50L462.87 1167.50M467.11 1157.26L458.63 1165.74" stroke="#0000ff" stroke-width="0.85" fill="none"/>
<circle cx="462.9" cy="1161.5" r="6.0" fill="none" stroke="#000" stroke-width="0.85"/>
<path d="M476.15 1115.25L488.15 1115.25M477.91 1111.01L486.39 1119.49M482.15 1109.25L482.15 1121.25M486.39 1111.01L477.91 1119.49" stroke="#0000ff" stroke-width="0.85" fill="none"/>
<circle cx="482.2" cy="1115.2" r="6.0" fill="none" stroke="#000" stroke-width="0.85"/>
<path d="M495.43 1140.25L507.43 1140.25M497.19 1136.01L505.68 1144.49M501.43 1134.25L501.43 1146.25M505.68 1136.01L497.19 1144.49" stroke="#0000ff" stroke-width="0.85" fill="none"/>
<circle cx="501.4" cy="1140.2" r="6.0" fill="none" stroke="#000" stroke-width="0.85"/>
<path d="M514.72 1169.00L526.72 1169.00M516.47 1164.76L524.96 1173.24M520.72 1163.00L520.72 1175.00M524.96 1164.76L516.47 1173.24" stroke="#0000ff" stroke-width="0.85" fill="none"/>
<circle cx="520.7" cy="1169.0" r="6.0" fill="none" stroke="#000" stroke-width="0.85"/>
<path d="M534.00 1187.50L546.00 1187.50M535.76 1183.26L544.24 1191.74M540.00 1181.50L540.00 1193.50M544.24 1183.26L535.76 1191.74" stroke="#0000ff" stroke-width="0.85" fill="none"/>
<circle cx="540.0" cy="1187.5" r="6.0" fill="none" stroke="#000" stroke-width="0.85"/>
<path d="M553.28 1170.50L565.28 1170.50M555.04 1166.26L563.53 1174.74M559.28 1164.50L559.28 1176.50M563.53 1166.26L555.04 1174.74" stroke="#0000ff" stroke-width="0.85" fill="none"/>
<circle cx="559.3" cy="1170.5" r="6.0" fill="none" stroke="#000" stroke-width="0.85"/>
<path d="M572.57 1070.50L584.57 1070.50M574.32 1066.26L582.81 1074.74M578.57 1064.50L578.57 1076.50M582.81 1066.26L574.32 1074.74" stroke="#0000ff" stroke-width="0.85" fill="none"/>
<circle cx="578.6" cy="1070.5" r="6.0" fill="none" stroke="#000" stroke-width="0.85"/>
<path d="M591.85 1135.50L603.85 1135.50M593.61 1131.26L602.09 1139.74M597.85 1129.50L597.85 1141.50M602.09 1131.26L593.61 1139.74" stroke="#0000ff" stroke-width="0.85" fill="none"/>
<circle cx="597.8" cy="1135.5" r="6.0" fill="none" stroke="#000" stroke-width="0.85"/>
<path d="M611.13 1153.75L623.13 1153.75M612.89 1149.51L621.37 1157.99M617.13 1147.75L617.13 1159.75M621.37 1149.51L612.89 1157.99" stroke="#0000ff" stroke-width="0.85" fill="none"/>
<circle cx="617.1" cy="1153.8" r="6.0" fill="none" stroke="#000" stroke-width="0.85"/>
<path d="M630.41 1165.75L642.41 1165.75M632.17 1161.51L640.66 1169.99M636.41 1159.75L636.41 1171.75M640.66 1161.51L632.17 1169.99" stroke="#0000ff" stroke-width="0.85" fill="none"/>
<circle cx="636.4" cy="1165.8" r="6.0" fill="none" stroke="#000" stroke-width="0.85"/>
<path d="M649.70 1167.40L661.70 1167.40M651.45 1163.16L659.94 1171.64M655.70 1161.40L655.70 1173.40M659.94 1163.16L651.45 1171.64" stroke="#0000ff" stroke-width="0.85" fill="none"/>
<circle cx="655.7" cy="1167.4" r="6.0" fill="none" stroke="#000" stroke-width="0.85"/>
<path d="M668.98 1180.40L680.98 1180.40M670.74 1176.16L679.22 1184.64M674.98 1174.40L674.98 1186.40M679.22 1176.16L670.74 1184.64" stroke="#0000ff" stroke-width="0.85" fill="none"/>
<circle cx="675.0" cy="1180.4" r="6.0" fill="none" stroke="#000" stroke-width="0.85"/>
<path d="M688.26 1175.50L700.26 1175.50M690.02 1171.26L698.50 1179.74M694.26 1169.50L694.26 1181.50M698.50 1171.26L690.02 1179.74" stroke="#0000ff" stroke-width="0.85" fill="none"/>
<circle cx="694.3" cy="1175.5" r="6.0" fill="none" stroke="#000" stroke-width="0.85"/>
<path d="M707.54 1161.90L719.54 1161.90M709.30 1157.66L717.79 1166.14M713.54 1155.90L713.54 1167.90M717.79 1157.66L709.30 1166.14" stroke="#0000ff" stroke-width="0.85" fill="none"/>
<circle cx="713.5" cy="1161.9" r="6.0" fill="none" stroke="#000" stroke-width="0.85"/>
<path d="M726.83 1189.40L738.83 1189.40M728.58 1185.16L737.07 1193.64M732.83 1183.40L732.83 1195.40M737.07 1185.16L728.58 1193.64" stroke="#0000ff" stroke-width="0.85" fill="none"/>
<circle cx="732.8" cy="1189.4" r="6.0" fill="none" stroke="#000" stroke-width="0.85"/>
<path d="M746.11 1278.70L758.11 1278.70M747.87 1274.46L756.35 1282.94M752.11 1272.70L752.11 1284.70M756.35 1274.46L747.87 1282.94" stroke="#0000ff" stroke-width="0.85" fill="none"/>
<circle cx="752.1" cy="1278.7" r="6.0" fill="none" stroke="#000" stroke-width="0.85"/>
<path d="M765.39 1209.50L777.39 1209.50M767.15 1205.26L775.63 1213.74M771.39 1203.50L771.39 1215.50M775.63 1205.26L767.15 1213.74" stroke="#0000ff" stroke-width="0.85" fill="none"/>
<circle cx="771.4" cy="1209.5" r="6.0" fill="none" stroke="#000" stroke-width="0.85"/>
<path d="M784.67 1239.90L796.67 1239.90M786.43 1235.66L794.92 1244.14M790.67 1233.90L790.67 1245.90M794.92 1235.66L786.43 1244.14" stroke="#0000ff" stroke-width="0.85" fill="none"/>
<circle cx="790.7" cy="1239.9" r="6.0" fill="none" stroke="#000" stroke-width="0.85"/>
<path d="M803.96 1253.50L815.96 1253.50M805.71 1249.26L814.20 1257.74M809.96 1247.50L809.96 1259.50M814.20 1249.26L805.71 1257.74" stroke="#0000ff" stroke-width="0.85" fill="none"/>
<circle cx="810.0" cy="1253.5" r="6.0" fill="none" stroke="#000" stroke-width="0.85"/>
<path d="M823.24 1274.40L835.24 1274.40M825.00 1270.16L833.48 1278.64M829.24 1268.40L829.24 1280.40M833.48 1270.16L825.00 1278.64" stroke="#0000ff" stroke-width="0.85" fill="none"/>
<circle cx="829.2" cy="1274.4" r="6.0" fill="none" stroke="#000" stroke-width="0.85"/>
<path d="M842.52 1256.60L854.52 1256.60M844.28 1252.36L852.76 1260.84M848.52 1250.60L848.52 1262.60M852.76 1252.36L844.28 1260.84" stroke="#0000ff" stroke-width="0.85" fill="none"/>
<circle cx="848.5" cy="1256.6" r="6.0" fill="none" stroke="#000" stroke-width="0.85"/>
<path d="M861.80 1318.60L873.80 1318.60M863.56 1314.36L872.05 1322.84M867.80 1312.60L867.80 1324.60M872.05 1314.36L863.56 1322.84" stroke="#0000ff" stroke-width="0.85" fill="none"/>
<circle cx="867.8" cy="1318.6" r="6.0" fill="none" stroke="#000" stroke-width="0.85"/>
<path d="M881.09 1259.40L893.09 1259.40M882.84 1255.16L891.33 1263.64M887.09 1253.40L887.09 1265.40M891.33 1255.16L882.84 1263.64" stroke="#0000ff" stroke-width="0.85" fill="none"/>
<circle cx="887.1" cy="1259.4" r="6.0" fill="none" stroke="#000" stroke-width="0.85"/>
<path d="M900.37 1179.50L912.37 1179.50M902.13 1175.26L910.61 1183.74M906.37 1173.50L906.37 1185.50M910.61 1175.26L902.13 1183.74" stroke="#0000ff" stroke-width="0.85" fill="none"/>
<circle cx="906.4" cy="1179.5" r="6.0" fill="none" stroke="#000" stroke-width="0.85"/>
<path d="M919.65 1220.30L931.65 1220.30M921.41 1216.06L929.89 1224.54M925.65 1214.30L925.65 1226.30M929.89 1216.06L921.41 1224.54" stroke="#0000ff" stroke-width="0.85" fill="none"/>
<circle cx="925.7" cy="1220.3" r="6.0" fill="none" stroke="#000" stroke-width="0.85"/>
<path d="M938.93 1251.50L950.93 1251.50M940.69 1247.26L949.18 1255.74M944.93 1245.50L944.93 1257.50M949.18 1247.26L940.69 1255.74" stroke="#0000ff" stroke-width="0.85" fill="none"/>
<circle cx="944.9" cy="1251.5" r="6.0" fill="none" stroke="#000" stroke-width="0.85"/>
<path d="M958.22 1252.30L970.22 1252.30M959.97 1248.06L968.46 1256.54M964.22 1246.30L964.22 1258.30M968.46 1248.06L959.97 1256.54" stroke="#0000ff" stroke-width="0.85" fill="none"/>
<circle cx="964.2" cy="1252.3" r="6.0" fill="none" stroke="#000" stroke-width="0.85"/>
<rect x="995.5" y="977.5" width="181" height="471" fill="#fff" stroke="#262626" stroke-width="1"/>
<line x1="1001.00" y1="1046.50" x2="1063.00" y2="1046.50" stroke="#0000ff" stroke-width="1" stroke-dasharray="1 3"/>
<path d="M1026.90 1046.50L1038.10 1046.50M1028.54 1042.54L1036.46 1050.46M1032.50 1040.90L1032.50 1052.10M1036.46 1042.54L1028.54 1050.46" stroke="#0000ff" stroke-width="1" fill="none"/>
<line x1="1001.00" y1="1157.50" x2="1063.00" y2="1157.50" stroke="#ff00ff" stroke-width="1.1"/>
<circle cx="1032.5" cy="1157.5" r="2.6" fill="#ff00ff"/>
<line x1="1001.00" y1="1268.50" x2="1063.00" y2="1268.50" stroke="#00ff00" stroke-width="1.1"/>
<circle cx="1032.5" cy="1268.5" r="2.6" fill="#00ff00"/>
<line x1="1001.00" y1="1380.50" x2="1063.00" y2="1380.50" stroke="#000" stroke-width="1.1" stroke-dasharray="6 3.5 1.2 3.5"/>
<circle cx="1032.5" cy="1380.5" r="5.6" fill="none" stroke="#000"/>
<text x="1069.50" y="1053.30" font-size="18.75" text-anchor="start" style="fill:#000">Raw float</text>
<text x="1069.50" y="1164.30" font-size="18.75" text-anchor="start" style="fill:#000">MIMOC</text>
<text x="1069.50" y="1275.30" font-size="18.75" text-anchor="start" style="fill:#000">CARS NEW</text>
<text x="1069.50" y="1387.30" font-size="18.75" text-anchor="start" style="fill:#000">Best float</text>
<g shape-rendering="crispEdges">
<rect x="106.8" y="71.7" width="10.6" height="9.8" fill="#3cab83"/>
<rect x="106.8" y="81.2" width="10.6" height="5.9" fill="#d2e4b8"/>
<rect x="106.8" y="86.8" width="10.6" height="7.9" fill="#d4d9cc"/>
<rect x="106.8" y="94.4" width="10.6" height="7.9" fill="#d6d6d6"/>
<rect x="106.8" y="102.0" width="10.6" height="7.9" fill="#d7d7d5"/>
<rect x="106.8" y="109.6" width="10.6" height="7.9" fill="#dbdace"/>
<rect x="106.8" y="117.2" width="10.6" height="6.9" fill="#dfdec8"/>
<rect x="106.8" y="123.8" width="10.6" height="5.9" fill="#dbdace"/>
<rect x="106.8" y="129.4" width="10.6" height="13.5" fill="#d6d6d6"/>
<rect x="106.8" y="142.6" width="10.6" height="21.1" fill="#d4d9cc"/>
<rect x="106.8" y="163.4" width="10.6" height="7.9" fill="#d3dec2"/>
<rect x="106.8" y="170.9" width="10.6" height="31.3" fill="#d4d9cc"/>
<rect x="106.8" y="202.0" width="10.6" height="31.3" fill="#d3dec2"/>
<rect x="106.8" y="233.0" width="10.6" height="7.9" fill="#d2e4b8"/>
<rect x="106.8" y="240.6" width="10.6" height="27.7" fill="#cde8ac"/>
<rect x="106.8" y="268.0" width="10.6" height="13.5" fill="#bce89a"/>
<rect x="106.8" y="281.2" width="10.6" height="27.7" fill="#cde8ac"/>
<rect x="106.8" y="308.6" width="10.6" height="5.9" fill="#d2e4b8"/>
<rect x="106.8" y="314.2" width="10.6" height="7.9" fill="#cde8ac"/>
<rect x="106.8" y="321.8" width="10.6" height="31.3" fill="#d2e4b8"/>
<rect x="106.8" y="352.8" width="10.6" height="7.9" fill="#d3dec2"/>
<rect x="106.8" y="360.4" width="10.6" height="6.9" fill="#cde8ac"/>
<rect x="106.8" y="367.0" width="10.6" height="2.9" fill="#d3dec2"/>
<rect x="117.1" y="67.5" width="10.6" height="19.9" fill="#d6d6d6"/>
<rect x="117.1" y="87.1" width="10.6" height="5.9" fill="#d4d9cc"/>
<rect x="117.1" y="92.7" width="10.6" height="7.9" fill="#d6d6d6"/>
<rect x="117.1" y="100.3" width="10.6" height="6.9" fill="#dbdace"/>
<rect x="117.1" y="106.9" width="10.6" height="22.1" fill="#e2e2b9"/>
<rect x="117.1" y="128.7" width="10.6" height="6.9" fill="#dbdace"/>
<rect x="117.1" y="135.3" width="10.6" height="20.1" fill="#d4d9cc"/>
<rect x="117.1" y="155.1" width="10.6" height="68.9" fill="#d3dec2"/>
<rect x="117.1" y="223.7" width="10.6" height="5.9" fill="#d2e4b8"/>
<rect x="117.1" y="229.3" width="10.6" height="7.9" fill="#cde8ac"/>
<rect x="117.1" y="236.9" width="10.6" height="5.9" fill="#c8eca0"/>
<rect x="117.1" y="242.5" width="10.6" height="13.5" fill="#cde8ac"/>
<rect x="117.1" y="255.7" width="10.6" height="19.1" fill="#c8eca0"/>
<rect x="117.1" y="274.6" width="10.6" height="13.5" fill="#cde8ac"/>
<rect x="117.1" y="287.8" width="10.6" height="5.9" fill="#c8eca0"/>
<rect x="117.1" y="293.4" width="10.6" height="6.9" fill="#cde8ac"/>
<rect x="117.1" y="300.0" width="10.6" height="20.1" fill="#c8eca0"/>
<rect x="117.1" y="319.8" width="10.6" height="21.1" fill="#cde8ac"/>
<rect x="117.1" y="340.6" width="10.6" height="6.9" fill="#d2e4b8"/>
<rect x="117.1" y="347.2" width="10.6" height="7.9" fill="#cde8ac"/>
<rect x="117.1" y="354.7" width="10.6" height="7.9" fill="#d2e4b8"/>
<rect x="117.1" y="362.3" width="10.6" height="18.1" fill="#cde8ac"/>
<rect x="117.1" y="380.2" width="10.6" height="6.8" fill="#d2e4b8"/>
<rect x="127.3" y="67.3" width="10.6" height="3.7" fill="#bce89a"/>
<rect x="127.3" y="70.7" width="10.6" height="7.9" fill="#6cc080"/>
<rect x="127.3" y="78.2" width="10.6" height="6.9" fill="#88cc88"/>
<rect x="127.3" y="84.8" width="10.6" height="7.9" fill="#d3dec2"/>
<rect x="127.3" y="92.4" width="10.6" height="5.9" fill="#d4d9cc"/>
<rect x="127.3" y="98.0" width="10.6" height="7.9" fill="#d6d6d6"/>
<rect x="127.3" y="105.6" width="10.6" height="6.9" fill="#dbdace"/>
<rect x="127.3" y="112.2" width="10.6" height="13.5" fill="#e2e2b9"/>
<rect x="127.3" y="125.4" width="10.6" height="6.9" fill="#d7d7d5"/>
<rect x="127.3" y="132.0" width="10.6" height="7.9" fill="#d4d9cc"/>
<rect x="127.3" y="139.6" width="10.6" height="6.9" fill="#d6d6d6"/>
<rect x="127.3" y="146.2" width="10.6" height="12.5" fill="#d4d9cc"/>
<rect x="127.3" y="158.4" width="10.6" height="26.7" fill="#d3dec2"/>
<rect x="127.3" y="184.8" width="10.6" height="7.9" fill="#d4d9cc"/>
<rect x="127.3" y="192.4" width="10.6" height="40.9" fill="#d3dec2"/>
<rect x="127.3" y="233.0" width="10.6" height="6.9" fill="#d2e4b8"/>
<rect x="127.3" y="239.6" width="10.6" height="83.1" fill="#cde8ac"/>
<rect x="127.3" y="322.4" width="10.6" height="5.9" fill="#d2e4b8"/>
<rect x="127.3" y="328.1" width="10.6" height="13.5" fill="#d3dec2"/>
<rect x="127.3" y="341.3" width="10.6" height="7.9" fill="#d4d9cc"/>
<rect x="127.3" y="348.8" width="10.6" height="6.9" fill="#d3dec2"/>
<rect x="127.3" y="355.4" width="10.6" height="5.9" fill="#d2e4b8"/>
<rect x="127.3" y="361.1" width="10.6" height="6.9" fill="#d3dec2"/>
<rect x="127.3" y="367.7" width="10.6" height="13.5" fill="#d2e4b8"/>
<rect x="127.3" y="380.9" width="10.6" height="9.0" fill="#d3dec2"/>
<rect x="137.6" y="70.0" width="10.6" height="8.7" fill="#d2e4b8"/>
<rect x="137.6" y="78.4" width="10.6" height="27.7" fill="#d4d9cc"/>
<rect x="137.6" y="105.8" width="10.6" height="6.9" fill="#d6d6d6"/>
<rect x="137.6" y="112.4" width="10.6" height="6.9" fill="#e2e2b9"/>
<rect x="137.6" y="119.0" width="10.6" height="6.9" fill="#dbdace"/>
<rect x="137.6" y="125.6" width="10.6" height="25.7" fill="#d6d6d6"/>
<rect x="137.6" y="151.0" width="10.6" height="25.7" fill="#d4d9cc"/>
<rect x="137.6" y="176.4" width="10.6" height="21.1" fill="#d3dec2"/>
<rect x="137.6" y="197.2" width="10.6" height="38.9" fill="#d4d9cc"/>
<rect x="137.6" y="235.8" width="10.6" height="6.9" fill="#d3dec2"/>
<rect x="137.6" y="242.4" width="10.6" height="11.5" fill="#d2e4b8"/>
<rect x="137.6" y="253.6" width="10.6" height="38.9" fill="#cde8ac"/>
<rect x="137.6" y="292.2" width="10.6" height="18.1" fill="#d2e4b8"/>
<rect x="137.6" y="310.1" width="10.6" height="5.9" fill="#cde8ac"/>
<rect x="137.6" y="315.7" width="10.6" height="5.9" fill="#d2e4b8"/>
<rect x="137.6" y="321.3" width="10.6" height="6.9" fill="#d3dec2"/>
<rect x="137.6" y="327.9" width="10.6" height="28.7" fill="#d4d9cc"/>
<rect x="137.6" y="356.3" width="10.6" height="5.9" fill="#d6d6d6"/>
<rect x="137.6" y="361.9" width="10.6" height="25.7" fill="#d4d9cc"/>
<rect x="137.6" y="387.3" width="10.6" height="4.9" fill="#d3dec2"/>
<rect x="147.9" y="70.0" width="10.6" height="8.2" fill="#b0e494"/>
<rect x="147.9" y="77.9" width="10.6" height="7.9" fill="#d3dec2"/>
<rect x="147.9" y="85.5" width="10.6" height="6.9" fill="#d4d9cc"/>
<rect x="147.9" y="92.1" width="10.6" height="6.9" fill="#d6d6d6"/>
<rect x="147.9" y="98.7" width="10.6" height="6.9" fill="#d4d9cc"/>
<rect x="147.9" y="105.3" width="10.6" height="7.9" fill="#dbdace"/>
<rect x="147.9" y="112.9" width="10.6" height="7.9" fill="#e2e2b9"/>
<rect x="147.9" y="120.5" width="10.6" height="6.9" fill="#dfdec8"/>
<rect x="147.9" y="127.1" width="10.6" height="38.9" fill="#d4d9cc"/>
<rect x="147.9" y="165.7" width="10.6" height="26.7" fill="#d3dec2"/>
<rect x="147.9" y="192.1" width="10.6" height="6.9" fill="#d4d9cc"/>
<rect x="147.9" y="198.7" width="10.6" height="27.7" fill="#d3dec2"/>
<rect x="147.9" y="226.1" width="10.6" height="19.1" fill="#d4d9cc"/>
<rect x="147.9" y="244.9" width="10.6" height="6.9" fill="#d2e4b8"/>
<rect x="147.9" y="251.5" width="10.6" height="13.5" fill="#cde8ac"/>
<rect x="147.9" y="264.7" width="10.6" height="27.7" fill="#d2e4b8"/>
<rect x="147.9" y="292.1" width="10.6" height="7.9" fill="#d3dec2"/>
<rect x="147.9" y="299.7" width="10.6" height="6.9" fill="#d4d9cc"/>
<rect x="147.9" y="306.3" width="10.6" height="20.1" fill="#d3dec2"/>
<rect x="147.9" y="326.1" width="10.6" height="12.5" fill="#d4d9cc"/>
<rect x="147.9" y="338.3" width="10.6" height="12.5" fill="#d6d6d6"/>
<rect x="147.9" y="350.5" width="10.6" height="32.3" fill="#d4d9cc"/>
<rect x="147.9" y="382.5" width="10.6" height="9.7" fill="#d3dec2"/>
<rect x="158.2" y="68.0" width="10.6" height="6.1" fill="#95d48c"/>
<rect x="158.2" y="73.8" width="10.6" height="6.9" fill="#bce89a"/>
<rect x="158.2" y="80.4" width="10.6" height="6.9" fill="#d4d9cc"/>
<rect x="158.2" y="87.0" width="10.6" height="5.9" fill="#d6d6d6"/>
<rect x="158.2" y="92.6" width="10.6" height="5.9" fill="#dbdace"/>
<rect x="158.2" y="98.2" width="10.6" height="7.9" fill="#d6d6d6"/>
<rect x="158.2" y="105.8" width="10.6" height="7.9" fill="#dfdec8"/>
<rect x="158.2" y="113.4" width="10.6" height="13.5" fill="#e2e2b9"/>
<rect x="158.2" y="126.6" width="10.6" height="7.9" fill="#dbdace"/>
<rect x="158.2" y="134.2" width="10.6" height="35.3" fill="#d4d9cc"/>
<rect x="158.2" y="169.1" width="10.6" height="54.1" fill="#d3dec2"/>
<rect x="158.2" y="222.9" width="10.6" height="26.7" fill="#d4d9cc"/>
<rect x="158.2" y="249.3" width="10.6" height="7.9" fill="#d3dec2"/>
<rect x="158.2" y="256.9" width="10.6" height="15.5" fill="#d2e4b8"/>
<rect x="158.2" y="272.1" width="10.6" height="6.9" fill="#d3dec2"/>
<rect x="158.2" y="278.7" width="10.6" height="5.9" fill="#d4d9cc"/>
<rect x="158.2" y="284.3" width="10.6" height="7.9" fill="#d3dec2"/>
<rect x="158.2" y="291.9" width="10.6" height="33.3" fill="#d4d9cc"/>
<rect x="158.2" y="324.9" width="10.6" height="14.5" fill="#d6d6d6"/>
<rect x="158.2" y="339.1" width="10.6" height="6.9" fill="#d7d7d5"/>
<rect x="158.2" y="345.7" width="10.6" height="11.5" fill="#d6d6d6"/>
<rect x="158.2" y="356.9" width="10.6" height="21.1" fill="#d4d9cc"/>
<rect x="158.2" y="377.7" width="10.6" height="6.9" fill="#d2e4b8"/>
<rect x="158.2" y="384.3" width="10.6" height="7.9" fill="#d3dec2"/>
<rect x="168.5" y="67.5" width="10.6" height="7.5" fill="#88cc88"/>
<rect x="168.5" y="74.7" width="10.6" height="6.9" fill="#cde8ac"/>
<rect x="168.5" y="81.3" width="10.6" height="5.9" fill="#d7d7d5"/>
<rect x="168.5" y="86.9" width="10.6" height="21.1" fill="#e2e2b9"/>
<rect x="168.5" y="107.7" width="10.6" height="6.9" fill="#e6e693"/>
<rect x="168.5" y="114.3" width="10.6" height="7.9" fill="#e2e2b9"/>
<rect x="168.5" y="121.9" width="10.6" height="6.9" fill="#e5e5aa"/>
<rect x="168.5" y="128.5" width="10.6" height="6.9" fill="#dfdec8"/>
<rect x="168.5" y="135.1" width="10.6" height="6.9" fill="#d6d6d6"/>
<rect x="168.5" y="141.7" width="10.6" height="21.1" fill="#d4d9cc"/>
<rect x="168.5" y="162.5" width="10.6" height="58.7" fill="#d3dec2"/>
<rect x="168.5" y="220.9" width="10.6" height="6.9" fill="#d2e4b8"/>
<rect x="168.5" y="227.5" width="10.6" height="7.9" fill="#d3dec2"/>
<rect x="168.5" y="235.1" width="10.6" height="5.9" fill="#d4d9cc"/>
<rect x="168.5" y="240.7" width="10.6" height="6.9" fill="#d3dec2"/>
<rect x="168.5" y="247.3" width="10.6" height="5.9" fill="#d4d9cc"/>
<rect x="168.5" y="252.9" width="10.6" height="5.9" fill="#d3dec2"/>
<rect x="168.5" y="258.5" width="10.6" height="5.9" fill="#d2e4b8"/>
<rect x="168.5" y="264.1" width="10.6" height="6.9" fill="#d3dec2"/>
<rect x="168.5" y="270.7" width="10.6" height="46.5" fill="#d4d9cc"/>
<rect x="168.5" y="316.9" width="10.6" height="41.9" fill="#d6d6d6"/>
<rect x="168.5" y="358.5" width="10.6" height="21.1" fill="#d4d9cc"/>
<rect x="168.5" y="379.3" width="10.6" height="6.9" fill="#d3dec2"/>
<rect x="168.5" y="385.9" width="10.6" height="6.3" fill="#d2e4b8"/>
<rect x="178.8" y="68.0" width="10.6" height="5.1" fill="#cde8ac"/>
<rect x="178.8" y="72.8" width="10.6" height="5.9" fill="#d6d6d6"/>
<rect x="178.8" y="78.4" width="10.6" height="14.5" fill="#dfdec8"/>
<rect x="178.8" y="92.6" width="10.6" height="6.9" fill="#e2e2b9"/>
<rect x="178.8" y="99.2" width="10.6" height="7.9" fill="#e8e67c"/>
<rect x="178.8" y="106.8" width="10.6" height="5.9" fill="#e8e060"/>
<rect x="178.8" y="112.4" width="10.6" height="12.5" fill="#e8e36e"/>
<rect x="178.8" y="124.6" width="10.6" height="6.9" fill="#e5e5aa"/>
<rect x="178.8" y="131.2" width="10.6" height="6.9" fill="#dbdace"/>
<rect x="178.8" y="137.8" width="10.6" height="18.1" fill="#d4d9cc"/>
<rect x="178.8" y="155.7" width="10.6" height="69.9" fill="#d3dec2"/>
<rect x="178.8" y="225.3" width="10.6" height="13.5" fill="#cde8ac"/>
<rect x="178.8" y="238.5" width="10.6" height="6.9" fill="#d2e4b8"/>
<rect x="178.8" y="245.1" width="10.6" height="7.9" fill="#cde8ac"/>
<rect x="178.8" y="252.7" width="10.6" height="7.9" fill="#d2e4b8"/>
<rect x="178.8" y="260.3" width="10.6" height="5.9" fill="#c8eca0"/>
<rect x="178.8" y="265.9" width="10.6" height="6.9" fill="#cde8ac"/>
<rect x="178.8" y="272.5" width="10.6" height="19.1" fill="#d3dec2"/>
<rect x="178.8" y="291.3" width="10.6" height="25.7" fill="#d4d9cc"/>
<rect x="178.8" y="316.7" width="10.6" height="5.9" fill="#d6d6d6"/>
<rect x="178.8" y="322.3" width="10.6" height="20.1" fill="#d7d7d5"/>
<rect x="178.8" y="342.1" width="10.6" height="6.9" fill="#d6d6d6"/>
<rect x="178.8" y="348.7" width="10.6" height="33.3" fill="#d4d9cc"/>
<rect x="178.8" y="381.7" width="10.6" height="12.9" fill="#d3dec2"/>
<rect x="189.0" y="71.0" width="10.6" height="4.5" fill="#e5e5aa"/>
<rect x="189.0" y="75.2" width="10.6" height="6.9" fill="#e6e693"/>
<rect x="189.0" y="81.8" width="10.6" height="22.1" fill="#e2e2b9"/>
<rect x="189.0" y="103.6" width="10.6" height="6.9" fill="#e8e36e"/>
<rect x="189.0" y="110.2" width="10.6" height="6.9" fill="#e8e060"/>
<rect x="189.0" y="116.8" width="10.6" height="5.9" fill="#e8e67c"/>
<rect x="189.0" y="122.4" width="10.6" height="6.9" fill="#e2e2b9"/>
<rect x="189.0" y="129.0" width="10.6" height="6.9" fill="#d7d7d5"/>
<rect x="189.0" y="135.6" width="10.6" height="13.5" fill="#d4d9cc"/>
<rect x="189.0" y="148.8" width="10.6" height="5.9" fill="#d2e4b8"/>
<rect x="189.0" y="154.4" width="10.6" height="20.1" fill="#d3dec2"/>
<rect x="189.0" y="174.2" width="10.6" height="12.5" fill="#d2e4b8"/>
<rect x="189.0" y="186.4" width="10.6" height="24.7" fill="#d3dec2"/>
<rect x="189.0" y="210.9" width="10.6" height="5.9" fill="#d2e4b8"/>
<rect x="189.0" y="216.5" width="10.6" height="5.9" fill="#d3dec2"/>
<rect x="189.0" y="222.1" width="10.6" height="6.9" fill="#d2e4b8"/>
<rect x="189.0" y="228.7" width="10.6" height="26.7" fill="#cde8ac"/>
<rect x="189.0" y="255.1" width="10.6" height="14.5" fill="#c8eca0"/>
<rect x="189.0" y="269.3" width="10.6" height="6.9" fill="#bce89a"/>
<rect x="189.0" y="275.9" width="10.6" height="14.5" fill="#c8eca0"/>
<rect x="189.0" y="290.1" width="10.6" height="6.9" fill="#cde8ac"/>
<rect x="189.0" y="296.7" width="10.6" height="15.5" fill="#d3dec2"/>
<rect x="189.0" y="311.8" width="10.6" height="21.1" fill="#d6d6d6"/>
<rect x="189.0" y="332.6" width="10.6" height="5.9" fill="#d7d7d5"/>
<rect x="189.0" y="338.2" width="10.6" height="14.5" fill="#d6d6d6"/>
<rect x="189.0" y="352.4" width="10.6" height="27.7" fill="#d4d9cc"/>
<rect x="189.0" y="379.8" width="10.6" height="5.9" fill="#d3dec2"/>
<rect x="189.0" y="385.4" width="10.6" height="9.2" fill="#d2e4b8"/>
<rect x="199.3" y="69.0" width="10.6" height="5.3" fill="#e2e2b9"/>
<rect x="199.3" y="74.0" width="10.6" height="20.1" fill="#dbdace"/>
<rect x="199.3" y="93.8" width="10.6" height="14.5" fill="#d6d6d6"/>
<rect x="199.3" y="108.0" width="10.6" height="25.7" fill="#d7d7d5"/>
<rect x="199.3" y="133.4" width="10.6" height="13.5" fill="#d4d9cc"/>
<rect x="199.3" y="146.6" width="10.6" height="77.8" fill="#d3dec2"/>
<rect x="199.3" y="224.2" width="10.6" height="7.9" fill="#d2e4b8"/>
<rect x="199.3" y="231.8" width="10.6" height="19.1" fill="#cde8ac"/>
<rect x="199.3" y="250.6" width="10.6" height="13.5" fill="#c8eca0"/>
<rect x="199.3" y="263.8" width="10.6" height="6.9" fill="#bce89a"/>
<rect x="199.3" y="270.4" width="10.6" height="6.9" fill="#c8eca0"/>
<rect x="199.3" y="277.0" width="10.6" height="5.9" fill="#bce89a"/>
<rect x="199.3" y="282.6" width="10.6" height="19.1" fill="#c8eca0"/>
<rect x="199.3" y="301.4" width="10.6" height="7.9" fill="#cde8ac"/>
<rect x="199.3" y="309.0" width="10.6" height="5.9" fill="#d3dec2"/>
<rect x="199.3" y="314.6" width="10.6" height="7.9" fill="#d4d9cc"/>
<rect x="199.3" y="322.2" width="10.6" height="31.3" fill="#d6d6d6"/>
<rect x="199.3" y="353.2" width="10.6" height="32.3" fill="#d4d9cc"/>
<rect x="199.3" y="385.2" width="10.6" height="9.4" fill="#d3dec2"/>
<rect x="209.6" y="71.0" width="10.6" height="6.3" fill="#d7d7d5"/>
<rect x="209.6" y="77.0" width="10.6" height="5.9" fill="#d4d9cc"/>
<rect x="209.6" y="82.6" width="10.6" height="6.9" fill="#d7d7d5"/>
<rect x="209.6" y="89.2" width="10.6" height="7.9" fill="#dfdec8"/>
<rect x="209.6" y="96.8" width="10.6" height="6.9" fill="#d7d7d5"/>
<rect x="209.6" y="103.4" width="10.6" height="6.9" fill="#d6d6d6"/>
<rect x="209.6" y="110.0" width="10.6" height="7.9" fill="#d7d7d5"/>
<rect x="209.6" y="117.5" width="10.6" height="6.9" fill="#dfdec8"/>
<rect x="209.6" y="124.1" width="10.6" height="6.9" fill="#e2e2b9"/>
<rect x="209.6" y="130.7" width="10.6" height="7.9" fill="#d6d6d6"/>
<rect x="209.6" y="138.3" width="10.6" height="14.5" fill="#d4d9cc"/>
<rect x="209.6" y="152.5" width="10.6" height="6.9" fill="#d6d6d6"/>
<rect x="209.6" y="159.1" width="10.6" height="48.5" fill="#d4d9cc"/>
<rect x="209.6" y="207.3" width="10.6" height="5.9" fill="#d3dec2"/>
<rect x="209.6" y="212.9" width="10.6" height="6.9" fill="#d4d9cc"/>
<rect x="209.6" y="219.5" width="10.6" height="6.9" fill="#d3dec2"/>
<rect x="209.6" y="226.1" width="10.6" height="40.9" fill="#d2e4b8"/>
<rect x="209.6" y="266.7" width="10.6" height="6.9" fill="#cde8ac"/>
<rect x="209.6" y="273.3" width="10.6" height="6.9" fill="#d2e4b8"/>
<rect x="209.6" y="279.9" width="10.6" height="13.5" fill="#cde8ac"/>
<rect x="209.6" y="293.1" width="10.6" height="5.9" fill="#c8eca0"/>
<rect x="209.6" y="298.7" width="10.6" height="12.5" fill="#cde8ac"/>
<rect x="209.6" y="310.9" width="10.6" height="5.9" fill="#d2e4b8"/>
<rect x="209.6" y="316.5" width="10.6" height="6.9" fill="#d4d9cc"/>
<rect x="209.6" y="323.1" width="10.6" height="6.9" fill="#d6d6d6"/>
<rect x="209.6" y="329.7" width="10.6" height="26.7" fill="#d7d7d5"/>
<rect x="209.6" y="356.1" width="10.6" height="5.9" fill="#d6d6d6"/>
<rect x="209.6" y="361.7" width="10.6" height="6.9" fill="#d4d9cc"/>
<rect x="209.6" y="368.3" width="10.6" height="6.9" fill="#d6d6d6"/>
<rect x="209.6" y="374.9" width="10.6" height="5.9" fill="#d4d9cc"/>
<rect x="209.6" y="380.6" width="10.6" height="11.6" fill="#d6d6d6"/>
<rect x="219.9" y="70.0" width="10.6" height="9.0" fill="#d4d9cc"/>
<rect x="219.9" y="78.7" width="10.6" height="6.9" fill="#d7d7d5"/>
<rect x="219.9" y="85.3" width="10.6" height="7.9" fill="#e2e2b9"/>
<rect x="219.9" y="92.9" width="10.6" height="32.3" fill="#e5e5aa"/>
<rect x="219.9" y="124.9" width="10.6" height="6.9" fill="#dfdec8"/>
<rect x="219.9" y="131.5" width="10.6" height="5.9" fill="#d6d6d6"/>
<rect x="219.9" y="137.1" width="10.6" height="14.5" fill="#d4d9cc"/>
<rect x="219.9" y="151.3" width="10.6" height="13.5" fill="#d6d6d6"/>
<rect x="219.9" y="164.5" width="10.6" height="46.5" fill="#d4d9cc"/>
<rect x="219.9" y="210.7" width="10.6" height="6.9" fill="#d3dec2"/>
<rect x="219.9" y="217.3" width="10.6" height="6.9" fill="#d4d9cc"/>
<rect x="219.9" y="223.9" width="10.6" height="23.1" fill="#d3dec2"/>
<rect x="219.9" y="246.7" width="10.6" height="31.3" fill="#d2e4b8"/>
<rect x="219.9" y="277.7" width="10.6" height="5.9" fill="#cde8ac"/>
<rect x="219.9" y="283.3" width="10.6" height="6.9" fill="#d2e4b8"/>
<rect x="219.9" y="289.9" width="10.6" height="21.1" fill="#cde8ac"/>
<rect x="219.9" y="310.7" width="10.6" height="5.9" fill="#d3dec2"/>
<rect x="219.9" y="316.3" width="10.6" height="7.9" fill="#d6d6d6"/>
<rect x="219.9" y="323.9" width="10.6" height="28.7" fill="#d7d7d5"/>
<rect x="219.9" y="352.3" width="10.6" height="21.1" fill="#d6d6d6"/>
<rect x="219.9" y="373.1" width="10.6" height="5.9" fill="#d4d9cc"/>
<rect x="219.9" y="378.7" width="10.6" height="7.9" fill="#d6d6d6"/>
<rect x="219.9" y="386.3" width="10.6" height="5.9" fill="#d4d9cc"/>
<rect x="230.2" y="69.0" width="10.6" height="7.0" fill="#d2e4b8"/>
<rect x="230.2" y="75.7" width="10.6" height="5.9" fill="#d6d6d6"/>
<rect x="230.2" y="81.3" width="10.6" height="6.9" fill="#dbdace"/>
<rect x="230.2" y="87.9" width="10.6" height="35.3" fill="#e2e2b9"/>
<rect x="230.2" y="122.9" width="10.6" height="6.9" fill="#dfdec8"/>
<rect x="230.2" y="129.5" width="10.6" height="7.9" fill="#d6d6d6"/>
<rect x="230.2" y="137.1" width="10.6" height="14.5" fill="#d4d9cc"/>
<rect x="230.2" y="151.3" width="10.6" height="7.9" fill="#d3dec2"/>
<rect x="230.2" y="158.9" width="10.6" height="13.5" fill="#d4d9cc"/>
<rect x="230.2" y="172.1" width="10.6" height="54.1" fill="#d3dec2"/>
<rect x="230.2" y="225.9" width="10.6" height="5.9" fill="#d2e4b8"/>
<rect x="230.2" y="231.5" width="10.6" height="5.9" fill="#d3dec2"/>
<rect x="230.2" y="237.1" width="10.6" height="6.9" fill="#d2e4b8"/>
<rect x="230.2" y="243.7" width="10.6" height="7.9" fill="#d3dec2"/>
<rect x="230.2" y="251.3" width="10.6" height="7.9" fill="#d2e4b8"/>
<rect x="230.2" y="258.9" width="10.6" height="6.9" fill="#cde8ac"/>
<rect x="230.2" y="265.5" width="10.6" height="13.5" fill="#c8eca0"/>
<rect x="230.2" y="278.7" width="10.6" height="5.9" fill="#cde8ac"/>
<rect x="230.2" y="284.3" width="10.6" height="6.9" fill="#d2e4b8"/>
<rect x="230.2" y="290.9" width="10.6" height="13.5" fill="#cde8ac"/>
<rect x="230.2" y="304.1" width="10.6" height="7.9" fill="#d2e4b8"/>
<rect x="230.2" y="311.7" width="10.6" height="6.9" fill="#d4d9cc"/>
<rect x="230.2" y="318.3" width="10.6" height="13.5" fill="#d6d6d6"/>
<rect x="230.2" y="331.5" width="10.6" height="6.9" fill="#d7d7d5"/>
<rect x="230.2" y="338.1" width="10.6" height="21.1" fill="#d6d6d6"/>
<rect x="230.2" y="358.9" width="10.6" height="33.3" fill="#d4d9cc"/>
<rect x="240.5" y="68.0" width="10.6" height="4.6" fill="#d4d9cc"/>
<rect x="240.5" y="72.3" width="10.6" height="6.9" fill="#d7d7d5"/>
<rect x="240.5" y="78.9" width="10.6" height="6.9" fill="#dfdec8"/>
<rect x="240.5" y="85.5" width="10.6" height="13.5" fill="#e2e2b9"/>
<rect x="240.5" y="98.7" width="10.6" height="12.5" fill="#e5e5aa"/>
<rect x="240.5" y="110.9" width="10.6" height="14.5" fill="#e2e2b9"/>
<rect x="240.5" y="125.1" width="10.6" height="6.9" fill="#dfdec8"/>
<rect x="240.5" y="131.7" width="10.6" height="6.9" fill="#d6d6d6"/>
<rect x="240.5" y="138.3" width="10.6" height="45.5" fill="#d4d9cc"/>
<rect x="240.5" y="183.5" width="10.6" height="74.9" fill="#d3dec2"/>
<rect x="240.5" y="258.1" width="10.6" height="21.1" fill="#d2e4b8"/>
<rect x="240.5" y="278.9" width="10.6" height="6.9" fill="#d3dec2"/>
<rect x="240.5" y="285.5" width="10.6" height="34.3" fill="#d4d9cc"/>
<rect x="240.5" y="319.5" width="10.6" height="6.9" fill="#d6d6d6"/>
<rect x="240.5" y="326.1" width="10.6" height="32.3" fill="#d7d7d5"/>
<rect x="240.5" y="358.1" width="10.6" height="34.1" fill="#d4d9cc"/>
<rect x="250.7" y="68.0" width="10.6" height="8.3" fill="#d7d7d5"/>
<rect x="250.7" y="76.0" width="10.6" height="5.9" fill="#e5e5aa"/>
<rect x="250.7" y="81.6" width="10.6" height="7.9" fill="#e6e693"/>
<rect x="250.7" y="89.2" width="10.6" height="7.9" fill="#e5e5aa"/>
<rect x="250.7" y="96.8" width="10.6" height="6.9" fill="#e6e693"/>
<rect x="250.7" y="103.4" width="10.6" height="21.1" fill="#e5e5aa"/>
<rect x="250.7" y="124.2" width="10.6" height="6.9" fill="#dfdec8"/>
<rect x="250.7" y="130.8" width="10.6" height="37.9" fill="#d6d6d6"/>
<rect x="250.7" y="168.4" width="10.6" height="46.5" fill="#d4d9cc"/>
<rect x="250.7" y="214.6" width="10.6" height="5.9" fill="#d3dec2"/>
<rect x="250.7" y="220.2" width="10.6" height="7.9" fill="#d4d9cc"/>
<rect x="250.7" y="227.8" width="10.6" height="5.9" fill="#d3dec2"/>
<rect x="250.7" y="233.4" width="10.6" height="14.5" fill="#d4d9cc"/>
<rect x="250.7" y="247.6" width="10.6" height="28.7" fill="#d3dec2"/>
<rect x="250.7" y="276.0" width="10.6" height="13.5" fill="#d2e4b8"/>
<rect x="250.7" y="289.2" width="10.6" height="5.9" fill="#d3dec2"/>
<rect x="250.7" y="294.8" width="10.6" height="7.9" fill="#d4d9cc"/>
<rect x="250.7" y="302.4" width="10.6" height="20.1" fill="#d6d6d6"/>
<rect x="250.7" y="322.2" width="10.6" height="34.3" fill="#d7d7d5"/>
<rect x="250.7" y="356.2" width="10.6" height="17.1" fill="#d6d6d6"/>
<rect x="250.7" y="373.0" width="10.6" height="5.9" fill="#d4d9cc"/>
<rect x="250.7" y="378.6" width="10.6" height="5.9" fill="#d6d6d6"/>
<rect x="250.7" y="384.2" width="10.6" height="8.0" fill="#d4d9cc"/>
<rect x="261.0" y="70.0" width="10.6" height="2.8" fill="#e2e2b9"/>
<rect x="261.0" y="72.5" width="10.6" height="6.9" fill="#e5e5aa"/>
<rect x="261.0" y="79.1" width="10.6" height="5.9" fill="#e6e693"/>
<rect x="261.0" y="84.7" width="10.6" height="14.5" fill="#e5e5aa"/>
<rect x="261.0" y="98.9" width="10.6" height="11.5" fill="#e6e693"/>
<rect x="261.0" y="110.1" width="10.6" height="14.5" fill="#e5e5aa"/>
<rect x="261.0" y="124.3" width="10.6" height="6.9" fill="#dfdec8"/>
<rect x="261.0" y="130.9" width="10.6" height="26.7" fill="#d4d9cc"/>
<rect x="261.0" y="157.3" width="10.6" height="65.3" fill="#d3dec2"/>
<rect x="261.0" y="222.3" width="10.6" height="13.5" fill="#d2e4b8"/>
<rect x="261.0" y="235.5" width="10.6" height="18.1" fill="#cde8ac"/>
<rect x="261.0" y="253.3" width="10.6" height="20.1" fill="#d2e4b8"/>
<rect x="261.0" y="273.1" width="10.6" height="18.1" fill="#cde8ac"/>
<rect x="261.0" y="291.0" width="10.6" height="6.9" fill="#d2e4b8"/>
<rect x="261.0" y="297.6" width="10.6" height="5.9" fill="#d3dec2"/>
<rect x="261.0" y="303.2" width="10.6" height="12.5" fill="#d4d9cc"/>
<rect x="261.0" y="315.4" width="10.6" height="13.5" fill="#d6d6d6"/>
<rect x="261.0" y="328.6" width="10.6" height="7.9" fill="#d7d7d5"/>
<rect x="261.0" y="336.2" width="10.6" height="21.1" fill="#d6d6d6"/>
<rect x="261.0" y="357.0" width="10.6" height="35.2" fill="#d4d9cc"/>
<rect x="271.3" y="67.3" width="10.6" height="6.5" fill="#dfdec8"/>
<rect x="271.3" y="73.5" width="10.6" height="6.9" fill="#e6e693"/>
<rect x="271.3" y="80.1" width="10.6" height="32.3" fill="#e8e67c"/>
<rect x="271.3" y="112.1" width="10.6" height="5.9" fill="#e6e693"/>
<rect x="271.3" y="117.8" width="10.6" height="6.9" fill="#e5e5aa"/>
<rect x="271.3" y="124.4" width="10.6" height="6.9" fill="#e2e2b9"/>
<rect x="271.3" y="131.0" width="10.6" height="24.7" fill="#d6d6d6"/>
<rect x="271.3" y="155.4" width="10.6" height="31.3" fill="#d4d9cc"/>
<rect x="271.3" y="186.4" width="10.6" height="7.9" fill="#d3dec2"/>
<rect x="271.3" y="194.0" width="10.6" height="25.7" fill="#d4d9cc"/>
<rect x="271.3" y="219.4" width="10.6" height="27.7" fill="#d3dec2"/>
<rect x="271.3" y="246.8" width="10.6" height="7.9" fill="#d2e4b8"/>
<rect x="271.3" y="254.4" width="10.6" height="13.5" fill="#d3dec2"/>
<rect x="271.3" y="267.6" width="10.6" height="21.1" fill="#d2e4b8"/>
<rect x="271.3" y="288.4" width="10.6" height="5.9" fill="#d3dec2"/>
<rect x="271.3" y="294.0" width="10.6" height="6.9" fill="#d4d9cc"/>
<rect x="271.3" y="300.6" width="10.6" height="21.1" fill="#d6d6d6"/>
<rect x="271.3" y="321.4" width="10.6" height="34.3" fill="#d7d7d5"/>
<rect x="271.3" y="355.4" width="10.6" height="36.8" fill="#d6d6d6"/>
<rect x="281.6" y="69.0" width="10.6" height="9.1" fill="#d6d6d6"/>
<rect x="281.6" y="77.8" width="10.6" height="5.9" fill="#dfdec8"/>
<rect x="281.6" y="83.4" width="10.6" height="33.3" fill="#e5e5aa"/>
<rect x="281.6" y="116.4" width="10.6" height="11.5" fill="#e2e2b9"/>
<rect x="281.6" y="127.7" width="10.6" height="6.9" fill="#dfdec8"/>
<rect x="281.6" y="134.3" width="10.6" height="6.9" fill="#d6d6d6"/>
<rect x="281.6" y="140.9" width="10.6" height="38.9" fill="#d4d9cc"/>
<rect x="281.6" y="179.5" width="10.6" height="45.5" fill="#d3dec2"/>
<rect x="281.6" y="224.7" width="10.6" height="11.5" fill="#d2e4b8"/>
<rect x="281.6" y="235.9" width="10.6" height="6.9" fill="#cde8ac"/>
<rect x="281.6" y="242.5" width="10.6" height="11.5" fill="#d2e4b8"/>
<rect x="281.6" y="253.7" width="10.6" height="5.9" fill="#d3dec2"/>
<rect x="281.6" y="259.3" width="10.6" height="13.5" fill="#d2e4b8"/>
<rect x="281.6" y="272.5" width="10.6" height="14.5" fill="#cde8ac"/>
<rect x="281.6" y="286.7" width="10.6" height="12.5" fill="#d2e4b8"/>
<rect x="281.6" y="298.9" width="10.6" height="20.1" fill="#d4d9cc"/>
<rect x="281.6" y="318.7" width="10.6" height="6.9" fill="#d6d6d6"/>
<rect x="281.6" y="325.3" width="10.6" height="29.7" fill="#d7d7d5"/>
<rect x="281.6" y="354.7" width="10.6" height="5.9" fill="#d6d6d6"/>
<rect x="281.6" y="360.3" width="10.6" height="34.3" fill="#d4d9cc"/>
<rect x="291.9" y="71.0" width="10.6" height="4.8" fill="#d6d6d6"/>
<rect x="291.9" y="75.5" width="10.6" height="7.9" fill="#dfdec8"/>
<rect x="291.9" y="83.1" width="10.6" height="5.9" fill="#e2e2b9"/>
<rect x="291.9" y="88.7" width="10.6" height="13.5" fill="#e6e693"/>
<rect x="291.9" y="101.9" width="10.6" height="5.9" fill="#e5e5aa"/>
<rect x="291.9" y="107.5" width="10.6" height="6.9" fill="#e6e693"/>
<rect x="291.9" y="114.1" width="10.6" height="6.9" fill="#e5e5aa"/>
<rect x="291.9" y="120.7" width="10.6" height="14.5" fill="#e2e2b9"/>
<rect x="291.9" y="134.9" width="10.6" height="6.9" fill="#dbdace"/>
<rect x="291.9" y="141.5" width="10.6" height="6.9" fill="#d6d6d6"/>
<rect x="291.9" y="148.1" width="10.6" height="31.3" fill="#d4d9cc"/>
<rect x="291.9" y="179.1" width="10.6" height="45.5" fill="#d3dec2"/>
<rect x="291.9" y="224.3" width="10.6" height="12.5" fill="#d2e4b8"/>
<rect x="291.9" y="236.5" width="10.6" height="6.9" fill="#cde8ac"/>
<rect x="291.9" y="243.1" width="10.6" height="7.9" fill="#d2e4b8"/>
<rect x="291.9" y="250.7" width="10.6" height="22.1" fill="#d3dec2"/>
<rect x="291.9" y="272.5" width="10.6" height="6.9" fill="#d2e4b8"/>
<rect x="291.9" y="279.1" width="10.6" height="6.9" fill="#cde8ac"/>
<rect x="291.9" y="285.7" width="10.6" height="20.1" fill="#d2e4b8"/>
<rect x="291.9" y="305.5" width="10.6" height="20.1" fill="#d4d9cc"/>
<rect x="291.9" y="325.3" width="10.6" height="6.9" fill="#d6d6d6"/>
<rect x="291.9" y="331.9" width="10.6" height="19.1" fill="#d7d7d5"/>
<rect x="291.9" y="350.7" width="10.6" height="7.9" fill="#d6d6d6"/>
<rect x="291.9" y="358.3" width="10.6" height="36.3" fill="#d4d9cc"/>
<rect x="302.2" y="70.0" width="10.6" height="4.2" fill="#d6d6d6"/>
<rect x="302.2" y="73.9" width="10.6" height="6.9" fill="#dfdec8"/>
<rect x="302.2" y="80.5" width="10.6" height="20.1" fill="#e8e67c"/>
<rect x="302.2" y="100.3" width="10.6" height="20.1" fill="#e8e36e"/>
<rect x="302.2" y="120.1" width="10.6" height="6.9" fill="#e5e5aa"/>
<rect x="302.2" y="126.7" width="10.6" height="14.5" fill="#e2e2b9"/>
<rect x="302.2" y="140.8" width="10.6" height="7.9" fill="#d6d6d6"/>
<rect x="302.2" y="148.4" width="10.6" height="21.1" fill="#d4d9cc"/>
<rect x="302.2" y="169.2" width="10.6" height="57.7" fill="#d3dec2"/>
<rect x="302.2" y="226.6" width="10.6" height="7.9" fill="#d2e4b8"/>
<rect x="302.2" y="234.2" width="10.6" height="13.5" fill="#cde8ac"/>
<rect x="302.2" y="247.4" width="10.6" height="7.9" fill="#d2e4b8"/>
<rect x="302.2" y="255.0" width="10.6" height="33.3" fill="#d3dec2"/>
<rect x="302.2" y="288.0" width="10.6" height="6.9" fill="#d2e4b8"/>
<rect x="302.2" y="294.6" width="10.6" height="7.9" fill="#cde8ac"/>
<rect x="302.2" y="302.2" width="10.6" height="6.9" fill="#d2e4b8"/>
<rect x="302.2" y="308.8" width="10.6" height="20.1" fill="#d3dec2"/>
<rect x="302.2" y="328.6" width="10.6" height="6.9" fill="#d4d9cc"/>
<rect x="302.2" y="335.2" width="10.6" height="27.7" fill="#d6d6d6"/>
<rect x="302.2" y="362.6" width="10.6" height="32.0" fill="#d4d9cc"/>
<rect x="312.4" y="69.0" width="10.6" height="4.9" fill="#d7d7d5"/>
<rect x="312.4" y="73.6" width="10.6" height="6.9" fill="#e2e2b9"/>
<rect x="312.4" y="80.2" width="10.6" height="20.1" fill="#e6e693"/>
<rect x="312.4" y="100.0" width="10.6" height="5.9" fill="#e8e67c"/>
<rect x="312.4" y="105.6" width="10.6" height="5.9" fill="#e6e693"/>
<rect x="312.4" y="111.2" width="10.6" height="5.9" fill="#e8e67c"/>
<rect x="312.4" y="116.8" width="10.6" height="6.9" fill="#e6e693"/>
<rect x="312.4" y="123.4" width="10.6" height="7.9" fill="#e5e5aa"/>
<rect x="312.4" y="131.0" width="10.6" height="6.9" fill="#e2e2b9"/>
<rect x="312.4" y="137.6" width="10.6" height="7.9" fill="#d6d6d6"/>
<rect x="312.4" y="145.2" width="10.6" height="6.9" fill="#d4d9cc"/>
<rect x="312.4" y="151.8" width="10.6" height="5.9" fill="#d6d6d6"/>
<rect x="312.4" y="157.4" width="10.6" height="13.5" fill="#d4d9cc"/>
<rect x="312.4" y="170.6" width="10.6" height="63.7" fill="#d3dec2"/>
<rect x="312.4" y="234.0" width="10.6" height="21.1" fill="#cde8ac"/>
<rect x="312.4" y="254.7" width="10.6" height="47.5" fill="#d2e4b8"/>
<rect x="312.4" y="301.9" width="10.6" height="18.1" fill="#cde8ac"/>
<rect x="312.4" y="319.8" width="10.6" height="7.9" fill="#d2e4b8"/>
<rect x="312.4" y="327.3" width="10.6" height="5.9" fill="#d4d9cc"/>
<rect x="312.4" y="333.0" width="10.6" height="7.9" fill="#d6d6d6"/>
<rect x="312.4" y="340.5" width="10.6" height="54.1" fill="#d4d9cc"/>
<rect x="322.7" y="68.0" width="10.6" height="6.3" fill="#d6d6d6"/>
<rect x="322.7" y="74.0" width="10.6" height="6.9" fill="#d7d7d5"/>
<rect x="322.7" y="80.6" width="10.6" height="12.5" fill="#e2e2b9"/>
<rect x="322.7" y="92.8" width="10.6" height="14.5" fill="#e5e5aa"/>
<rect x="322.7" y="107.0" width="10.6" height="19.1" fill="#e2e2b9"/>
<rect x="322.7" y="125.8" width="10.6" height="7.9" fill="#dfdec8"/>
<rect x="322.7" y="133.4" width="10.6" height="5.9" fill="#d6d6d6"/>
<rect x="322.7" y="139.0" width="10.6" height="26.7" fill="#d4d9cc"/>
<rect x="322.7" y="165.4" width="10.6" height="12.5" fill="#d3dec2"/>
<rect x="322.7" y="177.6" width="10.6" height="6.9" fill="#d2e4b8"/>
<rect x="322.7" y="184.2" width="10.6" height="6.9" fill="#d3dec2"/>
<rect x="322.7" y="190.8" width="10.6" height="7.9" fill="#d2e4b8"/>
<rect x="322.7" y="198.4" width="10.6" height="14.5" fill="#d3dec2"/>
<rect x="322.7" y="212.6" width="10.6" height="13.5" fill="#d2e4b8"/>
<rect x="322.7" y="225.8" width="10.6" height="46.5" fill="#cde8ac"/>
<rect x="322.7" y="272.0" width="10.6" height="14.5" fill="#c8eca0"/>
<rect x="322.7" y="286.2" width="10.6" height="6.9" fill="#cde8ac"/>
<rect x="322.7" y="292.8" width="10.6" height="6.9" fill="#c8eca0"/>
<rect x="322.7" y="299.4" width="10.6" height="6.9" fill="#cde8ac"/>
<rect x="322.7" y="306.0" width="10.6" height="19.1" fill="#c8eca0"/>
<rect x="322.7" y="324.8" width="10.6" height="6.9" fill="#d2e4b8"/>
<rect x="322.7" y="331.4" width="10.6" height="13.5" fill="#d3dec2"/>
<rect x="322.7" y="344.6" width="10.6" height="26.7" fill="#d4d9cc"/>
<rect x="322.7" y="371.0" width="10.6" height="6.9" fill="#d3dec2"/>
<rect x="322.7" y="377.6" width="10.6" height="7.9" fill="#d4d9cc"/>
<rect x="322.7" y="385.2" width="10.6" height="6.9" fill="#d3dec2"/>
<rect x="322.7" y="391.8" width="10.6" height="2.8" fill="#d4d9cc"/>
<rect x="333.0" y="71.0" width="10.6" height="7.4" fill="#dfdec8"/>
<rect x="333.0" y="78.1" width="10.6" height="6.9" fill="#e2e2b9"/>
<rect x="333.0" y="84.7" width="10.6" height="5.9" fill="#e5e5aa"/>
<rect x="333.0" y="90.3" width="10.6" height="21.1" fill="#e2e2b9"/>
<rect x="333.0" y="111.1" width="10.6" height="5.9" fill="#e5e5aa"/>
<rect x="333.0" y="116.7" width="10.6" height="6.9" fill="#e2e2b9"/>
<rect x="333.0" y="123.3" width="10.6" height="5.9" fill="#dfdec8"/>
<rect x="333.0" y="128.9" width="10.6" height="6.9" fill="#d6d6d6"/>
<rect x="333.0" y="135.5" width="10.6" height="13.5" fill="#d4d9cc"/>
<rect x="333.0" y="148.7" width="10.6" height="6.9" fill="#d6d6d6"/>
<rect x="333.0" y="155.3" width="10.6" height="25.7" fill="#d4d9cc"/>
<rect x="333.0" y="180.7" width="10.6" height="46.5" fill="#d3dec2"/>
<rect x="333.0" y="226.9" width="10.6" height="13.5" fill="#d4d9cc"/>
<rect x="333.0" y="240.1" width="10.6" height="5.9" fill="#d3dec2"/>
<rect x="333.0" y="245.7" width="10.6" height="22.1" fill="#d4d9cc"/>
<rect x="333.0" y="267.5" width="10.6" height="6.9" fill="#d3dec2"/>
<rect x="333.0" y="274.1" width="10.6" height="7.9" fill="#d2e4b8"/>
<rect x="333.0" y="281.7" width="10.6" height="22.1" fill="#cde8ac"/>
<rect x="333.0" y="303.5" width="10.6" height="5.9" fill="#d2e4b8"/>
<rect x="333.0" y="309.1" width="10.6" height="12.5" fill="#cde8ac"/>
<rect x="333.0" y="321.3" width="10.6" height="6.9" fill="#d3dec2"/>
<rect x="333.0" y="327.9" width="10.6" height="23.7" fill="#d4d9cc"/>
<rect x="333.0" y="351.3" width="10.6" height="6.9" fill="#d6d6d6"/>
<rect x="333.0" y="357.9" width="10.6" height="36.7" fill="#d4d9cc"/>
<rect x="343.3" y="67.5" width="10.6" height="19.2" fill="#e6e693"/>
<rect x="343.3" y="86.4" width="10.6" height="12.5" fill="#e2e2b9"/>
<rect x="343.3" y="98.6" width="10.6" height="32.3" fill="#e5e5aa"/>
<rect x="343.3" y="130.6" width="10.6" height="7.9" fill="#e2e2b9"/>
<rect x="343.3" y="138.2" width="10.6" height="5.9" fill="#d7d7d5"/>
<rect x="343.3" y="143.8" width="10.6" height="5.9" fill="#d6d6d6"/>
<rect x="343.3" y="149.4" width="10.6" height="39.9" fill="#d4d9cc"/>
<rect x="343.3" y="189.0" width="10.6" height="35.9" fill="#d3dec2"/>
<rect x="343.3" y="224.7" width="10.6" height="52.1" fill="#d4d9cc"/>
<rect x="343.3" y="276.5" width="10.6" height="7.9" fill="#d2e4b8"/>
<rect x="343.3" y="284.1" width="10.6" height="38.9" fill="#cde8ac"/>
<rect x="343.3" y="322.7" width="10.6" height="5.9" fill="#d2e4b8"/>
<rect x="343.3" y="328.3" width="10.6" height="66.3" fill="#d4d9cc"/>
<rect x="353.6" y="69.0" width="10.6" height="13.5" fill="#88cc88"/>
<rect x="353.6" y="82.2" width="10.6" height="5.9" fill="#dbdace"/>
<rect x="353.6" y="87.9" width="10.6" height="40.9" fill="#e5e5aa"/>
<rect x="353.6" y="128.4" width="10.6" height="15.5" fill="#e2e2b9"/>
<rect x="353.6" y="143.6" width="10.6" height="5.9" fill="#d6d6d6"/>
<rect x="353.6" y="149.2" width="10.6" height="13.5" fill="#d4d9cc"/>
<rect x="353.6" y="162.4" width="10.6" height="7.9" fill="#d3dec2"/>
<rect x="353.6" y="170.0" width="10.6" height="39.9" fill="#d4d9cc"/>
<rect x="353.6" y="209.6" width="10.6" height="5.9" fill="#d3dec2"/>
<rect x="353.6" y="215.2" width="10.6" height="5.9" fill="#d4d9cc"/>
<rect x="353.6" y="220.8" width="10.6" height="14.5" fill="#d3dec2"/>
<rect x="353.6" y="235.0" width="10.6" height="38.9" fill="#d4d9cc"/>
<rect x="353.6" y="273.6" width="10.6" height="7.9" fill="#d3dec2"/>
<rect x="353.6" y="281.2" width="10.6" height="35.3" fill="#cde8ac"/>
<rect x="353.6" y="316.2" width="10.6" height="6.9" fill="#d2e4b8"/>
<rect x="353.6" y="322.8" width="10.6" height="5.9" fill="#d3dec2"/>
<rect x="353.6" y="328.4" width="10.6" height="66.2" fill="#d4d9cc"/>
<rect x="363.8" y="67.3" width="10.6" height="2.8" fill="#bce89a"/>
<rect x="363.8" y="69.8" width="10.6" height="6.9" fill="#7ac684"/>
<rect x="363.8" y="76.4" width="10.6" height="5.9" fill="#b0e494"/>
<rect x="363.8" y="82.0" width="10.6" height="7.9" fill="#e2e2b9"/>
<rect x="363.8" y="89.6" width="10.6" height="7.9" fill="#e5e5aa"/>
<rect x="363.8" y="97.1" width="10.6" height="5.9" fill="#e6e693"/>
<rect x="363.8" y="102.8" width="10.6" height="6.9" fill="#e5e5aa"/>
<rect x="363.8" y="109.4" width="10.6" height="7.9" fill="#e6e693"/>
<rect x="363.8" y="116.9" width="10.6" height="20.1" fill="#e5e5aa"/>
<rect x="363.8" y="136.7" width="10.6" height="5.9" fill="#dfdec8"/>
<rect x="363.8" y="142.4" width="10.6" height="6.9" fill="#d6d6d6"/>
<rect x="363.8" y="149.0" width="10.6" height="20.1" fill="#d4d9cc"/>
<rect x="363.8" y="168.8" width="10.6" height="57.7" fill="#d3dec2"/>
<rect x="363.8" y="226.2" width="10.6" height="56.7" fill="#d4d9cc"/>
<rect x="363.8" y="282.6" width="10.6" height="6.9" fill="#d3dec2"/>
<rect x="363.8" y="289.2" width="10.6" height="5.9" fill="#d2e4b8"/>
<rect x="363.8" y="294.8" width="10.6" height="19.1" fill="#cde8ac"/>
<rect x="363.8" y="313.6" width="10.6" height="7.9" fill="#d2e4b8"/>
<rect x="363.8" y="321.2" width="10.6" height="12.5" fill="#d3dec2"/>
<rect x="363.8" y="333.4" width="10.6" height="61.2" fill="#d4d9cc"/>
<rect x="374.1" y="69.0" width="10.6" height="5.4" fill="#d3dec2"/>
<rect x="374.1" y="74.1" width="10.6" height="7.9" fill="#dfdec8"/>
<rect x="374.1" y="81.7" width="10.6" height="5.9" fill="#e6e693"/>
<rect x="374.1" y="87.3" width="10.6" height="14.5" fill="#e8e67c"/>
<rect x="374.1" y="101.5" width="10.6" height="26.7" fill="#e6e693"/>
<rect x="374.1" y="127.9" width="10.6" height="7.9" fill="#e5e5aa"/>
<rect x="374.1" y="135.5" width="10.6" height="6.9" fill="#dfdec8"/>
<rect x="374.1" y="142.1" width="10.6" height="7.9" fill="#d6d6d6"/>
<rect x="374.1" y="149.7" width="10.6" height="6.9" fill="#d4d9cc"/>
<rect x="374.1" y="156.3" width="10.6" height="7.9" fill="#d6d6d6"/>
<rect x="374.1" y="163.9" width="10.6" height="14.5" fill="#d4d9cc"/>
<rect x="374.1" y="178.1" width="10.6" height="21.1" fill="#d3dec2"/>
<rect x="374.1" y="198.9" width="10.6" height="32.3" fill="#d4d9cc"/>
<rect x="374.1" y="230.9" width="10.6" height="5.9" fill="#d6d6d6"/>
<rect x="374.1" y="236.5" width="10.6" height="15.5" fill="#d4d9cc"/>
<rect x="374.1" y="251.7" width="10.6" height="5.9" fill="#d6d6d6"/>
<rect x="374.1" y="257.3" width="10.6" height="20.1" fill="#d4d9cc"/>
<rect x="374.1" y="277.1" width="10.6" height="7.9" fill="#d3dec2"/>
<rect x="374.1" y="284.7" width="10.6" height="12.5" fill="#d4d9cc"/>
<rect x="374.1" y="296.9" width="10.6" height="6.9" fill="#d3dec2"/>
<rect x="374.1" y="303.5" width="10.6" height="19.1" fill="#d2e4b8"/>
<rect x="374.1" y="322.3" width="10.6" height="6.9" fill="#d3dec2"/>
<rect x="374.1" y="328.9" width="10.6" height="14.5" fill="#d4d9cc"/>
<rect x="374.1" y="343.1" width="10.6" height="6.9" fill="#d6d6d6"/>
<rect x="374.1" y="349.7" width="10.6" height="22.1" fill="#d4d9cc"/>
<rect x="374.1" y="371.5" width="10.6" height="7.9" fill="#d6d6d6"/>
<rect x="374.1" y="379.1" width="10.6" height="5.9" fill="#d4d9cc"/>
<rect x="374.1" y="384.7" width="10.6" height="6.9" fill="#d6d6d6"/>
<rect x="374.1" y="391.3" width="10.6" height="3.3" fill="#d4d9cc"/>
<rect x="384.4" y="69.0" width="10.6" height="11.1" fill="#e5e5aa"/>
<rect x="384.4" y="79.8" width="10.6" height="7.9" fill="#e6e693"/>
<rect x="384.4" y="87.4" width="10.6" height="36.3" fill="#e8e67c"/>
<rect x="384.4" y="123.4" width="10.6" height="11.5" fill="#e6e693"/>
<rect x="384.4" y="134.6" width="10.6" height="7.9" fill="#e5e5aa"/>
<rect x="384.4" y="142.2" width="10.6" height="35.3" fill="#d6d6d6"/>
<rect x="384.4" y="177.2" width="10.6" height="58.0" fill="#d4d9cc"/>
<rect x="384.4" y="234.9" width="10.6" height="13.5" fill="#d6d6d6"/>
<rect x="384.4" y="248.1" width="10.6" height="6.9" fill="#d4d9cc"/>
<rect x="384.4" y="254.7" width="10.6" height="19.1" fill="#d3dec2"/>
<rect x="384.4" y="273.5" width="10.6" height="12.5" fill="#d2e4b8"/>
<rect x="384.4" y="285.8" width="10.6" height="21.1" fill="#d3dec2"/>
<rect x="384.4" y="306.5" width="10.6" height="6.9" fill="#d4d9cc"/>
<rect x="384.4" y="313.1" width="10.6" height="7.9" fill="#d3dec2"/>
<rect x="384.4" y="320.7" width="10.6" height="5.9" fill="#d4d9cc"/>
<rect x="384.4" y="326.3" width="10.6" height="68.3" fill="#d6d6d6"/>
<rect x="394.7" y="68.0" width="10.6" height="6.9" fill="#e5e5aa"/>
<rect x="394.7" y="74.6" width="10.6" height="13.5" fill="#e6e693"/>
<rect x="394.7" y="87.8" width="10.6" height="21.1" fill="#e8e67c"/>
<rect x="394.7" y="108.6" width="10.6" height="28.7" fill="#e6e693"/>
<rect x="394.7" y="137.0" width="10.6" height="7.9" fill="#dbdace"/>
<rect x="394.7" y="144.6" width="10.6" height="6.9" fill="#d4d9cc"/>
<rect x="394.7" y="151.2" width="10.6" height="5.9" fill="#d6d6d6"/>
<rect x="394.7" y="156.8" width="10.6" height="26.7" fill="#d4d9cc"/>
<rect x="394.7" y="183.2" width="10.6" height="5.9" fill="#d3dec2"/>
<rect x="394.7" y="188.8" width="10.6" height="5.9" fill="#d4d9cc"/>
<rect x="394.7" y="194.4" width="10.6" height="5.9" fill="#d3dec2"/>
<rect x="394.7" y="200.0" width="10.6" height="5.9" fill="#d4d9cc"/>
<rect x="394.7" y="205.7" width="10.6" height="20.1" fill="#d3dec2"/>
<rect x="394.7" y="225.5" width="10.6" height="22.1" fill="#d4d9cc"/>
<rect x="394.7" y="247.2" width="10.6" height="6.9" fill="#d6d6d6"/>
<rect x="394.7" y="253.8" width="10.6" height="7.9" fill="#d4d9cc"/>
<rect x="394.7" y="261.4" width="10.6" height="13.5" fill="#d3dec2"/>
<rect x="394.7" y="274.6" width="10.6" height="7.9" fill="#d4d9cc"/>
<rect x="394.7" y="282.2" width="10.6" height="12.5" fill="#d3dec2"/>
<rect x="394.7" y="294.4" width="10.6" height="26.7" fill="#d4d9cc"/>
<rect x="394.7" y="320.8" width="10.6" height="12.5" fill="#d6d6d6"/>
<rect x="394.7" y="333.0" width="10.6" height="26.7" fill="#d7d7d5"/>
<rect x="394.7" y="359.4" width="10.6" height="12.5" fill="#d6d6d6"/>
<rect x="394.7" y="371.6" width="10.6" height="13.5" fill="#d4d9cc"/>
<rect x="394.7" y="384.8" width="10.6" height="9.8" fill="#d6d6d6"/>
<rect x="405.0" y="68.0" width="10.6" height="4.9" fill="#e6e693"/>
<rect x="405.0" y="72.6" width="10.6" height="39.9" fill="#e8e36e"/>
<rect x="405.0" y="112.2" width="10.6" height="19.1" fill="#e8e67c"/>
<rect x="405.0" y="131.0" width="10.6" height="5.9" fill="#e6e693"/>
<rect x="405.0" y="136.6" width="10.6" height="5.9" fill="#dfdec8"/>
<rect x="405.0" y="142.2" width="10.6" height="22.7" fill="#d6d6d6"/>
<rect x="405.0" y="164.6" width="10.6" height="46.5" fill="#d4d9cc"/>
<rect x="405.0" y="210.8" width="10.6" height="6.9" fill="#d3dec2"/>
<rect x="405.0" y="217.4" width="10.6" height="48.5" fill="#d4d9cc"/>
<rect x="405.0" y="265.6" width="10.6" height="60.4" fill="#d6d6d6"/>
<rect x="405.0" y="325.7" width="10.6" height="34.3" fill="#d7d7d5"/>
<rect x="405.0" y="359.7" width="10.6" height="34.9" fill="#d6d6d6"/>
<rect x="415.3" y="70.0" width="10.6" height="5.8" fill="#e2e2b9"/>
<rect x="415.3" y="75.5" width="10.6" height="6.9" fill="#dfdec8"/>
<rect x="415.3" y="82.1" width="10.6" height="5.9" fill="#e5e5aa"/>
<rect x="415.3" y="87.7" width="10.6" height="6.9" fill="#e6e693"/>
<rect x="415.3" y="94.3" width="10.6" height="6.9" fill="#e5e5aa"/>
<rect x="415.3" y="100.9" width="10.6" height="13.5" fill="#e8e67c"/>
<rect x="415.3" y="114.1" width="10.6" height="5.9" fill="#e6e693"/>
<rect x="415.3" y="119.8" width="10.6" height="14.5" fill="#e5e5aa"/>
<rect x="415.3" y="133.9" width="10.6" height="6.9" fill="#e2e2b9"/>
<rect x="415.3" y="140.5" width="10.6" height="6.9" fill="#d7d7d5"/>
<rect x="415.3" y="147.1" width="10.6" height="19.1" fill="#d4d9cc"/>
<rect x="415.3" y="166.0" width="10.6" height="34.3" fill="#d3dec2"/>
<rect x="415.3" y="199.9" width="10.6" height="7.9" fill="#d2e4b8"/>
<rect x="415.3" y="207.5" width="10.6" height="19.1" fill="#cde8ac"/>
<rect x="415.3" y="226.3" width="10.6" height="7.9" fill="#c8eca0"/>
<rect x="415.3" y="233.9" width="10.6" height="14.5" fill="#cde8ac"/>
<rect x="415.3" y="248.1" width="10.6" height="6.9" fill="#c8eca0"/>
<rect x="415.3" y="254.7" width="10.6" height="12.5" fill="#cde8ac"/>
<rect x="415.3" y="266.9" width="10.6" height="5.9" fill="#d3dec2"/>
<rect x="415.3" y="272.5" width="10.6" height="5.9" fill="#d4d9cc"/>
<rect x="415.3" y="278.2" width="10.6" height="13.5" fill="#d3dec2"/>
<rect x="415.3" y="291.4" width="10.6" height="35.3" fill="#d4d9cc"/>
<rect x="415.3" y="326.3" width="10.6" height="26.7" fill="#d6d6d6"/>
<rect x="415.3" y="352.7" width="10.6" height="41.9" fill="#d4d9cc"/>
<rect x="425.5" y="69.0" width="10.6" height="2.5" fill="#e2e2b9"/>
<rect x="425.5" y="71.2" width="10.6" height="6.9" fill="#dfdec8"/>
<rect x="425.5" y="77.8" width="10.6" height="6.9" fill="#dbdace"/>
<rect x="425.5" y="84.4" width="10.6" height="21.1" fill="#e5e5aa"/>
<rect x="425.5" y="105.2" width="10.6" height="11.5" fill="#e6e693"/>
<rect x="425.5" y="116.4" width="10.6" height="21.1" fill="#e5e5aa"/>
<rect x="425.5" y="137.2" width="10.6" height="7.9" fill="#e2e2b9"/>
<rect x="425.5" y="144.8" width="10.6" height="6.9" fill="#dbdace"/>
<rect x="425.5" y="151.4" width="10.6" height="13.5" fill="#d6d6d6"/>
<rect x="425.5" y="164.6" width="10.6" height="6.9" fill="#d4d9cc"/>
<rect x="425.5" y="171.2" width="10.6" height="34.3" fill="#d3dec2"/>
<rect x="425.5" y="205.2" width="10.6" height="21.1" fill="#d2e4b8"/>
<rect x="425.5" y="225.9" width="10.6" height="41.9" fill="#cde8ac"/>
<rect x="425.5" y="267.5" width="10.6" height="6.9" fill="#d3dec2"/>
<rect x="425.5" y="274.1" width="10.6" height="30.3" fill="#d4d9cc"/>
<rect x="425.5" y="304.2" width="10.6" height="13.5" fill="#d3dec2"/>
<rect x="425.5" y="317.4" width="10.6" height="7.9" fill="#d2e4b8"/>
<rect x="425.5" y="324.9" width="10.6" height="7.9" fill="#cde8ac"/>
<rect x="425.5" y="332.5" width="10.6" height="6.9" fill="#d2e4b8"/>
<rect x="425.5" y="339.1" width="10.6" height="5.9" fill="#d3dec2"/>
<rect x="425.5" y="344.7" width="10.6" height="49.9" fill="#d4d9cc"/>
<rect x="435.8" y="71.0" width="10.6" height="31.8" fill="#e5e5aa"/>
<rect x="435.8" y="102.5" width="10.6" height="6.9" fill="#e6e693"/>
<rect x="435.8" y="109.1" width="10.6" height="20.1" fill="#e5e5aa"/>
<rect x="435.8" y="128.9" width="10.6" height="5.9" fill="#e2e2b9"/>
<rect x="435.8" y="134.5" width="10.6" height="6.9" fill="#dfdec8"/>
<rect x="435.8" y="141.1" width="10.6" height="7.9" fill="#d7d7d5"/>
<rect x="435.8" y="148.7" width="10.6" height="7.9" fill="#d6d6d6"/>
<rect x="435.8" y="156.3" width="10.6" height="13.5" fill="#d4d9cc"/>
<rect x="435.8" y="169.5" width="10.6" height="7.9" fill="#d3dec2"/>
<rect x="435.8" y="177.1" width="10.6" height="20.1" fill="#d4d9cc"/>
<rect x="435.8" y="196.9" width="10.6" height="13.5" fill="#d3dec2"/>
<rect x="435.8" y="210.1" width="10.6" height="7.9" fill="#d2e4b8"/>
<rect x="435.8" y="217.7" width="10.6" height="13.5" fill="#cde8ac"/>
<rect x="435.8" y="230.9" width="10.6" height="6.9" fill="#d2e4b8"/>
<rect x="435.8" y="237.5" width="10.6" height="13.5" fill="#cde8ac"/>
<rect x="435.8" y="250.7" width="10.6" height="5.9" fill="#c8eca0"/>
<rect x="435.8" y="256.3" width="10.6" height="20.1" fill="#cde8ac"/>
<rect x="435.8" y="276.1" width="10.6" height="26.7" fill="#d2e4b8"/>
<rect x="435.8" y="302.5" width="10.6" height="19.1" fill="#cde8ac"/>
<rect x="435.8" y="321.3" width="10.6" height="15.5" fill="#c8eca0"/>
<rect x="435.8" y="336.5" width="10.6" height="7.9" fill="#d2e4b8"/>
<rect x="435.8" y="344.1" width="10.6" height="7.9" fill="#d3dec2"/>
<rect x="435.8" y="351.7" width="10.6" height="21.1" fill="#d4d9cc"/>
<rect x="435.8" y="372.5" width="10.6" height="15.5" fill="#d6d6d6"/>
<rect x="435.8" y="387.6" width="10.6" height="7.0" fill="#d4d9cc"/>
<rect x="446.1" y="69.0" width="10.6" height="5.9" fill="#dfdec8"/>
<rect x="446.1" y="74.6" width="10.6" height="7.9" fill="#e5e5aa"/>
<rect x="446.1" y="82.2" width="10.6" height="20.1" fill="#e2e2b9"/>
<rect x="446.1" y="102.0" width="10.6" height="6.9" fill="#e5e5aa"/>
<rect x="446.1" y="108.6" width="10.6" height="6.9" fill="#e2e2b9"/>
<rect x="446.1" y="115.2" width="10.6" height="5.9" fill="#e5e5aa"/>
<rect x="446.1" y="120.8" width="10.6" height="13.5" fill="#e2e2b9"/>
<rect x="446.1" y="134.0" width="10.6" height="6.9" fill="#d7d7d5"/>
<rect x="446.1" y="140.6" width="10.6" height="25.7" fill="#d4d9cc"/>
<rect x="446.1" y="166.0" width="10.6" height="47.5" fill="#d3dec2"/>
<rect x="446.1" y="213.2" width="10.6" height="6.9" fill="#d2e4b8"/>
<rect x="446.1" y="219.8" width="10.6" height="13.5" fill="#cde8ac"/>
<rect x="446.1" y="233.0" width="10.6" height="7.9" fill="#c8eca0"/>
<rect x="446.1" y="240.6" width="10.6" height="6.9" fill="#bce89a"/>
<rect x="446.1" y="247.2" width="10.6" height="6.9" fill="#b0e494"/>
<rect x="446.1" y="253.8" width="10.6" height="15.5" fill="#a3dc90"/>
<rect x="446.1" y="268.9" width="10.6" height="6.9" fill="#bce89a"/>
<rect x="446.1" y="275.5" width="10.6" height="38.9" fill="#c8eca0"/>
<rect x="446.1" y="314.2" width="10.6" height="14.5" fill="#bce89a"/>
<rect x="446.1" y="328.3" width="10.6" height="6.9" fill="#d2e4b8"/>
<rect x="446.1" y="334.9" width="10.6" height="6.9" fill="#d3dec2"/>
<rect x="446.1" y="341.5" width="10.6" height="28.7" fill="#d4d9cc"/>
<rect x="446.1" y="369.9" width="10.6" height="6.9" fill="#d6d6d6"/>
<rect x="446.1" y="376.5" width="10.6" height="6.9" fill="#d4d9cc"/>
<rect x="446.1" y="383.1" width="10.6" height="6.9" fill="#d2e4b8"/>
<rect x="446.1" y="389.7" width="10.6" height="4.9" fill="#d3dec2"/>
<rect x="456.4" y="69.0" width="10.6" height="7.8" fill="#dfdec8"/>
<rect x="456.4" y="76.5" width="10.6" height="6.9" fill="#e6e693"/>
<rect x="456.4" y="83.1" width="10.6" height="12.5" fill="#e5e5aa"/>
<rect x="456.4" y="95.3" width="10.6" height="7.9" fill="#e6e693"/>
<rect x="456.4" y="102.9" width="10.6" height="6.9" fill="#e5e5aa"/>
<rect x="456.4" y="109.5" width="10.6" height="14.5" fill="#e6e693"/>
<rect x="456.4" y="123.7" width="10.6" height="6.9" fill="#e5e5aa"/>
<rect x="456.4" y="130.3" width="10.6" height="6.9" fill="#e2e2b9"/>
<rect x="456.4" y="136.9" width="10.6" height="27.7" fill="#d6d6d6"/>
<rect x="456.4" y="164.3" width="10.6" height="31.3" fill="#d4d9cc"/>
<rect x="456.4" y="195.3" width="10.6" height="5.9" fill="#d3dec2"/>
<rect x="456.4" y="200.9" width="10.6" height="6.9" fill="#d4d9cc"/>
<rect x="456.4" y="207.5" width="10.6" height="5.9" fill="#d3dec2"/>
<rect x="456.4" y="213.2" width="10.6" height="20.1" fill="#d2e4b8"/>
<rect x="456.4" y="233.0" width="10.6" height="20.1" fill="#cde8ac"/>
<rect x="456.4" y="252.8" width="10.6" height="20.1" fill="#c8eca0"/>
<rect x="456.4" y="272.6" width="10.6" height="42.9" fill="#cde8ac"/>
<rect x="456.4" y="315.1" width="10.6" height="6.9" fill="#c8eca0"/>
<rect x="456.4" y="321.7" width="10.6" height="5.9" fill="#d2e4b8"/>
<rect x="456.4" y="327.3" width="10.6" height="6.9" fill="#d3dec2"/>
<rect x="456.4" y="333.9" width="10.6" height="25.7" fill="#d4d9cc"/>
<rect x="456.4" y="359.3" width="10.6" height="13.5" fill="#d6d6d6"/>
<rect x="456.4" y="372.5" width="10.6" height="7.9" fill="#d3dec2"/>
<rect x="456.4" y="380.1" width="10.6" height="14.5" fill="#d2e4b8"/>
<rect x="466.7" y="71.0" width="10.6" height="15.2" fill="#e5e5aa"/>
<rect x="466.7" y="85.9" width="10.6" height="6.9" fill="#e6e693"/>
<rect x="466.7" y="92.5" width="10.6" height="37.9" fill="#e5e5aa"/>
<rect x="466.7" y="130.2" width="10.6" height="6.9" fill="#dbdace"/>
<rect x="466.7" y="136.8" width="10.6" height="12.5" fill="#d4d9cc"/>
<rect x="466.7" y="149.0" width="10.6" height="11.5" fill="#d6d6d6"/>
<rect x="466.7" y="160.2" width="10.6" height="23.1" fill="#d4d9cc"/>
<rect x="466.7" y="183.0" width="10.6" height="6.9" fill="#d3dec2"/>
<rect x="466.7" y="189.6" width="10.6" height="14.5" fill="#d4d9cc"/>
<rect x="466.7" y="203.7" width="10.6" height="22.1" fill="#d2e4b8"/>
<rect x="466.7" y="225.5" width="10.6" height="6.9" fill="#cde8ac"/>
<rect x="466.7" y="232.1" width="10.6" height="6.9" fill="#d2e4b8"/>
<rect x="466.7" y="238.7" width="10.6" height="7.9" fill="#cde8ac"/>
<rect x="466.7" y="246.3" width="10.6" height="6.9" fill="#c8eca0"/>
<rect x="466.7" y="252.9" width="10.6" height="6.9" fill="#cde8ac"/>
<rect x="466.7" y="259.5" width="10.6" height="19.1" fill="#c8eca0"/>
<rect x="466.7" y="278.3" width="10.6" height="13.5" fill="#bce89a"/>
<rect x="466.7" y="291.5" width="10.6" height="11.5" fill="#c8eca0"/>
<rect x="466.7" y="302.7" width="10.6" height="19.1" fill="#cde8ac"/>
<rect x="466.7" y="321.6" width="10.6" height="6.9" fill="#d2e4b8"/>
<rect x="466.7" y="328.2" width="10.6" height="6.9" fill="#d3dec2"/>
<rect x="466.7" y="334.8" width="10.6" height="7.9" fill="#d4d9cc"/>
<rect x="466.7" y="342.3" width="10.6" height="21.1" fill="#d6d6d6"/>
<rect x="466.7" y="363.1" width="10.6" height="6.9" fill="#d4d9cc"/>
<rect x="466.7" y="369.7" width="10.6" height="6.9" fill="#d6d6d6"/>
<rect x="466.7" y="376.3" width="10.6" height="6.9" fill="#d3dec2"/>
<rect x="466.7" y="382.9" width="10.6" height="11.7" fill="#d2e4b8"/>
<rect x="477.0" y="71.0" width="10.6" height="6.0" fill="#e8e060"/>
<rect x="477.0" y="76.7" width="10.6" height="6.9" fill="#e8e67c"/>
<rect x="477.0" y="83.3" width="10.6" height="15.5" fill="#e5e5aa"/>
<rect x="477.0" y="98.5" width="10.6" height="5.9" fill="#e6e693"/>
<rect x="477.0" y="104.1" width="10.6" height="6.9" fill="#e5e5aa"/>
<rect x="477.0" y="110.7" width="10.6" height="7.9" fill="#e2e2b9"/>
<rect x="477.0" y="118.3" width="10.6" height="6.9" fill="#dfdec8"/>
<rect x="477.0" y="124.9" width="10.6" height="6.9" fill="#d7d7d5"/>
<rect x="477.0" y="131.5" width="10.6" height="13.5" fill="#d6d6d6"/>
<rect x="477.0" y="144.7" width="10.6" height="36.3" fill="#d4d9cc"/>
<rect x="477.0" y="180.6" width="10.6" height="5.9" fill="#d3dec2"/>
<rect x="477.0" y="186.2" width="10.6" height="13.5" fill="#d4d9cc"/>
<rect x="477.0" y="199.4" width="10.6" height="12.5" fill="#d3dec2"/>
<rect x="477.0" y="211.7" width="10.6" height="12.5" fill="#d2e4b8"/>
<rect x="477.0" y="223.9" width="10.6" height="20.1" fill="#cde8ac"/>
<rect x="477.0" y="243.7" width="10.6" height="7.9" fill="#c8eca0"/>
<rect x="477.0" y="251.3" width="10.6" height="7.9" fill="#cde8ac"/>
<rect x="477.0" y="258.8" width="10.6" height="13.5" fill="#c8eca0"/>
<rect x="477.0" y="272.0" width="10.6" height="5.9" fill="#cde8ac"/>
<rect x="477.0" y="277.7" width="10.6" height="24.7" fill="#c8eca0"/>
<rect x="477.0" y="302.1" width="10.6" height="25.7" fill="#cde8ac"/>
<rect x="477.0" y="327.5" width="10.6" height="6.9" fill="#d3dec2"/>
<rect x="477.0" y="334.1" width="10.6" height="19.1" fill="#d4d9cc"/>
<rect x="477.0" y="352.9" width="10.6" height="6.9" fill="#d6d6d6"/>
<rect x="477.0" y="359.5" width="10.6" height="20.1" fill="#d4d9cc"/>
<rect x="477.0" y="379.3" width="10.6" height="5.9" fill="#d3dec2"/>
<rect x="477.0" y="384.9" width="10.6" height="9.7" fill="#d2e4b8"/>
<rect x="487.2" y="71.0" width="10.6" height="6.9" fill="#e8e060"/>
<rect x="487.2" y="77.6" width="10.6" height="5.9" fill="#e8e36e"/>
<rect x="487.2" y="83.2" width="10.6" height="6.9" fill="#e5e5aa"/>
<rect x="487.2" y="89.8" width="10.6" height="7.9" fill="#e6e693"/>
<rect x="487.2" y="97.4" width="10.6" height="7.9" fill="#e5e5aa"/>
<rect x="487.2" y="105.0" width="10.6" height="6.9" fill="#dfdec8"/>
<rect x="487.2" y="111.6" width="10.6" height="20.1" fill="#d6d6d6"/>
<rect x="487.2" y="131.4" width="10.6" height="34.3" fill="#d4d9cc"/>
<rect x="487.2" y="165.4" width="10.6" height="6.9" fill="#d6d6d6"/>
<rect x="487.2" y="172.0" width="10.6" height="20.1" fill="#d4d9cc"/>
<rect x="487.2" y="191.8" width="10.6" height="21.1" fill="#d3dec2"/>
<rect x="487.2" y="212.5" width="10.6" height="12.5" fill="#d2e4b8"/>
<rect x="487.2" y="224.8" width="10.6" height="63.7" fill="#cde8ac"/>
<rect x="487.2" y="288.1" width="10.6" height="14.5" fill="#d2e4b8"/>
<rect x="487.2" y="302.3" width="10.6" height="7.9" fill="#cde8ac"/>
<rect x="487.2" y="309.9" width="10.6" height="6.9" fill="#d2e4b8"/>
<rect x="487.2" y="316.5" width="10.6" height="14.5" fill="#d3dec2"/>
<rect x="487.2" y="330.7" width="10.6" height="18.1" fill="#d4d9cc"/>
<rect x="487.2" y="348.5" width="10.6" height="7.9" fill="#d6d6d6"/>
<rect x="487.2" y="356.1" width="10.6" height="26.7" fill="#d4d9cc"/>
<rect x="487.2" y="382.5" width="10.6" height="6.9" fill="#d2e4b8"/>
<rect x="487.2" y="389.1" width="10.6" height="5.5" fill="#d3dec2"/>
<rect x="497.5" y="69.0" width="10.6" height="3.4" fill="#e8e060"/>
<rect x="497.5" y="72.1" width="10.6" height="5.9" fill="#e8e36e"/>
<rect x="497.5" y="77.7" width="10.6" height="5.9" fill="#e8e67c"/>
<rect x="497.5" y="83.3" width="10.6" height="7.9" fill="#e6e693"/>
<rect x="497.5" y="90.9" width="10.6" height="7.9" fill="#e8e67c"/>
<rect x="497.5" y="98.5" width="10.6" height="5.9" fill="#e6e693"/>
<rect x="497.5" y="104.1" width="10.6" height="7.9" fill="#e5e5aa"/>
<rect x="497.5" y="111.7" width="10.6" height="5.9" fill="#dbdace"/>
<rect x="497.5" y="117.3" width="10.6" height="5.9" fill="#e2e2b9"/>
<rect x="497.5" y="122.9" width="10.6" height="5.9" fill="#e5e5aa"/>
<rect x="497.5" y="128.5" width="10.6" height="47.5" fill="#d6d6d6"/>
<rect x="497.5" y="175.7" width="10.6" height="7.9" fill="#d4d9cc"/>
<rect x="497.5" y="183.3" width="10.6" height="6.9" fill="#d6d6d6"/>
<rect x="497.5" y="189.9" width="10.6" height="19.1" fill="#d4d9cc"/>
<rect x="497.5" y="208.7" width="10.6" height="7.9" fill="#d3dec2"/>
<rect x="497.5" y="216.3" width="10.6" height="7.9" fill="#d2e4b8"/>
<rect x="497.5" y="223.9" width="10.6" height="6.9" fill="#d3dec2"/>
<rect x="497.5" y="230.5" width="10.6" height="7.9" fill="#d2e4b8"/>
<rect x="497.5" y="238.1" width="10.6" height="5.9" fill="#d3dec2"/>
<rect x="497.5" y="243.7" width="10.6" height="7.9" fill="#d2e4b8"/>
<rect x="497.5" y="251.3" width="10.6" height="7.9" fill="#d3dec2"/>
<rect x="497.5" y="258.9" width="10.6" height="18.1" fill="#d2e4b8"/>
<rect x="497.5" y="276.7" width="10.6" height="7.9" fill="#d3dec2"/>
<rect x="497.5" y="284.3" width="10.6" height="6.9" fill="#d2e4b8"/>
<rect x="497.5" y="290.9" width="10.6" height="6.9" fill="#d3dec2"/>
<rect x="497.5" y="297.5" width="10.6" height="12.5" fill="#d4d9cc"/>
<rect x="497.5" y="309.7" width="10.6" height="26.7" fill="#d6d6d6"/>
<rect x="497.5" y="336.1" width="10.6" height="5.9" fill="#d4d9cc"/>
<rect x="497.5" y="341.7" width="10.6" height="38.9" fill="#d6d6d6"/>
<rect x="497.5" y="380.3" width="10.6" height="14.3" fill="#d3dec2"/>
<rect x="507.8" y="67.5" width="10.6" height="7.6" fill="#e6e693"/>
<rect x="507.8" y="74.8" width="10.6" height="5.9" fill="#e5e5aa"/>
<rect x="507.8" y="80.4" width="10.6" height="24.7" fill="#e2e2b9"/>
<rect x="507.8" y="104.8" width="10.6" height="5.9" fill="#e5e5aa"/>
<rect x="507.8" y="110.4" width="10.6" height="11.5" fill="#e2e2b9"/>
<rect x="507.8" y="121.6" width="10.6" height="6.9" fill="#dbdace"/>
<rect x="507.8" y="128.2" width="10.6" height="26.7" fill="#d4d9cc"/>
<rect x="507.8" y="154.6" width="10.6" height="20.1" fill="#d3dec2"/>
<rect x="507.8" y="174.4" width="10.6" height="13.5" fill="#d2e4b8"/>
<rect x="507.8" y="187.6" width="10.6" height="7.9" fill="#d3dec2"/>
<rect x="507.8" y="195.2" width="10.6" height="5.9" fill="#d2e4b8"/>
<rect x="507.8" y="200.8" width="10.6" height="6.9" fill="#d3dec2"/>
<rect x="507.8" y="207.4" width="10.6" height="21.1" fill="#d2e4b8"/>
<rect x="507.8" y="228.2" width="10.6" height="18.1" fill="#c8eca0"/>
<rect x="507.8" y="246.0" width="10.6" height="5.9" fill="#cde8ac"/>
<rect x="507.8" y="251.7" width="10.6" height="6.9" fill="#bce89a"/>
<rect x="507.8" y="258.3" width="10.6" height="33.3" fill="#c8eca0"/>
<rect x="507.8" y="291.3" width="10.6" height="13.5" fill="#cde8ac"/>
<rect x="507.8" y="304.5" width="10.6" height="6.9" fill="#d2e4b8"/>
<rect x="507.8" y="311.1" width="10.6" height="6.9" fill="#d3dec2"/>
<rect x="507.8" y="317.7" width="10.6" height="26.7" fill="#d4d9cc"/>
<rect x="507.8" y="344.1" width="10.6" height="5.9" fill="#d6d6d6"/>
<rect x="507.8" y="349.7" width="10.6" height="13.5" fill="#d4d9cc"/>
<rect x="507.8" y="362.9" width="10.6" height="24.7" fill="#d3dec2"/>
<rect x="507.8" y="387.3" width="10.6" height="7.3" fill="#d2e4b8"/>
<rect x="518.1" y="71.0" width="10.6" height="14.8" fill="#e5e5aa"/>
<rect x="518.1" y="85.5" width="10.6" height="6.9" fill="#e6e693"/>
<rect x="518.1" y="92.1" width="10.6" height="7.9" fill="#e5e5aa"/>
<rect x="518.1" y="99.7" width="10.6" height="12.5" fill="#e6e693"/>
<rect x="518.1" y="111.9" width="10.6" height="12.5" fill="#e5e5aa"/>
<rect x="518.1" y="124.1" width="10.6" height="6.9" fill="#e2e2b9"/>
<rect x="518.1" y="130.7" width="10.6" height="5.9" fill="#dbdace"/>
<rect x="518.1" y="136.3" width="10.6" height="26.7" fill="#d4d9cc"/>
<rect x="518.1" y="162.7" width="10.6" height="50.5" fill="#d3dec2"/>
<rect x="518.1" y="212.9" width="10.6" height="6.9" fill="#d4d9cc"/>
<rect x="518.1" y="219.5" width="10.6" height="13.5" fill="#d3dec2"/>
<rect x="518.1" y="232.7" width="10.6" height="13.5" fill="#d2e4b8"/>
<rect x="518.1" y="245.9" width="10.6" height="6.9" fill="#d3dec2"/>
<rect x="518.1" y="252.5" width="10.6" height="24.7" fill="#cde8ac"/>
<rect x="518.1" y="276.9" width="10.6" height="6.9" fill="#d2e4b8"/>
<rect x="518.1" y="283.5" width="10.6" height="14.5" fill="#d3dec2"/>
<rect x="518.1" y="297.7" width="10.6" height="6.9" fill="#cde8ac"/>
<rect x="518.1" y="304.3" width="10.6" height="6.9" fill="#d2e4b8"/>
<rect x="518.1" y="310.9" width="10.6" height="13.5" fill="#d4d9cc"/>
<rect x="518.1" y="324.1" width="10.6" height="12.5" fill="#d6d6d6"/>
<rect x="518.1" y="336.3" width="10.6" height="20.1" fill="#d7d7d5"/>
<rect x="518.1" y="356.1" width="10.6" height="5.9" fill="#d6d6d6"/>
<rect x="518.1" y="361.7" width="10.6" height="32.9" fill="#d4d9cc"/>
<rect x="528.4" y="70.0" width="10.6" height="8.1" fill="#dfdec8"/>
<rect x="528.4" y="77.8" width="10.6" height="7.9" fill="#dbdace"/>
<rect x="528.4" y="85.4" width="10.6" height="7.9" fill="#e8e67c"/>
<rect x="528.4" y="93.0" width="10.6" height="5.9" fill="#e8e36e"/>
<rect x="528.4" y="98.6" width="10.6" height="6.9" fill="#e8e060"/>
<rect x="528.4" y="105.2" width="10.6" height="6.9" fill="#ecdf00"/>
<rect x="528.4" y="111.8" width="10.6" height="6.9" fill="#e8e36e"/>
<rect x="528.4" y="118.4" width="10.6" height="14.5" fill="#e6e693"/>
<rect x="528.4" y="132.6" width="10.6" height="5.9" fill="#dfdec8"/>
<rect x="528.4" y="138.2" width="10.6" height="28.7" fill="#d6d6d6"/>
<rect x="528.4" y="166.5" width="10.6" height="33.3" fill="#d4d9cc"/>
<rect x="528.4" y="199.5" width="10.6" height="7.9" fill="#d6d6d6"/>
<rect x="528.4" y="207.1" width="10.6" height="20.1" fill="#d4d9cc"/>
<rect x="528.4" y="226.9" width="10.6" height="5.9" fill="#d6d6d6"/>
<rect x="528.4" y="232.5" width="10.6" height="6.9" fill="#d4d9cc"/>
<rect x="528.4" y="239.1" width="10.6" height="13.5" fill="#d6d6d6"/>
<rect x="528.4" y="252.3" width="10.6" height="5.9" fill="#d4d9cc"/>
<rect x="528.4" y="258.0" width="10.6" height="6.9" fill="#d3dec2"/>
<rect x="528.4" y="264.6" width="10.6" height="12.5" fill="#d4d9cc"/>
<rect x="528.4" y="276.8" width="10.6" height="19.1" fill="#d6d6d6"/>
<rect x="528.4" y="295.6" width="10.6" height="14.5" fill="#d4d9cc"/>
<rect x="528.4" y="309.8" width="10.6" height="12.5" fill="#d6d6d6"/>
<rect x="528.4" y="322.0" width="10.6" height="7.9" fill="#dbdace"/>
<rect x="528.4" y="329.6" width="10.6" height="20.1" fill="#dfdec8"/>
<rect x="528.4" y="349.4" width="10.6" height="6.9" fill="#dbdace"/>
<rect x="528.4" y="356.0" width="10.6" height="15.5" fill="#d7d7d5"/>
<rect x="528.4" y="371.1" width="10.6" height="23.5" fill="#d6d6d6"/>
<rect x="538.7" y="68.0" width="10.6" height="4.1" fill="#e5e5aa"/>
<rect x="538.7" y="71.8" width="10.6" height="13.5" fill="#dfdec8"/>
<rect x="538.7" y="85.0" width="10.6" height="12.5" fill="#e5e5aa"/>
<rect x="538.7" y="97.2" width="10.6" height="6.9" fill="#e6e693"/>
<rect x="538.7" y="103.8" width="10.6" height="7.9" fill="#e8e67c"/>
<rect x="538.7" y="111.4" width="10.6" height="7.9" fill="#e6e693"/>
<rect x="538.7" y="119.0" width="10.6" height="7.9" fill="#e2e2b9"/>
<rect x="538.7" y="126.6" width="10.6" height="5.9" fill="#dfdec8"/>
<rect x="538.7" y="132.2" width="10.6" height="7.9" fill="#d6d6d6"/>
<rect x="538.7" y="139.8" width="10.6" height="27.7" fill="#d4d9cc"/>
<rect x="538.7" y="167.2" width="10.6" height="38.9" fill="#d3dec2"/>
<rect x="538.7" y="205.8" width="10.6" height="6.9" fill="#d2e4b8"/>
<rect x="538.7" y="212.4" width="10.6" height="41.9" fill="#d3dec2"/>
<rect x="538.7" y="253.9" width="10.6" height="21.1" fill="#d2e4b8"/>
<rect x="538.7" y="274.7" width="10.6" height="14.5" fill="#d3dec2"/>
<rect x="538.7" y="288.9" width="10.6" height="12.5" fill="#d2e4b8"/>
<rect x="538.7" y="301.1" width="10.6" height="7.9" fill="#d3dec2"/>
<rect x="538.7" y="308.7" width="10.6" height="12.5" fill="#d4d9cc"/>
<rect x="538.7" y="320.9" width="10.6" height="5.9" fill="#d6d6d6"/>
<rect x="538.7" y="326.5" width="10.6" height="21.1" fill="#dbdace"/>
<rect x="538.7" y="347.3" width="10.6" height="6.9" fill="#d7d7d5"/>
<rect x="538.7" y="353.9" width="10.6" height="6.9" fill="#d6d6d6"/>
<rect x="538.7" y="360.5" width="10.6" height="34.1" fill="#d4d9cc"/>
<rect x="548.9" y="68.0" width="10.6" height="13.2" fill="#e6e693"/>
<rect x="548.9" y="80.9" width="10.6" height="7.9" fill="#e5e5aa"/>
<rect x="548.9" y="88.5" width="10.6" height="6.9" fill="#e6e693"/>
<rect x="548.9" y="95.1" width="10.6" height="7.9" fill="#e5e5aa"/>
<rect x="548.9" y="102.6" width="10.6" height="13.5" fill="#e6e693"/>
<rect x="548.9" y="115.8" width="10.6" height="6.9" fill="#e5e5aa"/>
<rect x="548.9" y="122.4" width="10.6" height="5.9" fill="#d7d7d5"/>
<rect x="548.9" y="128.1" width="10.6" height="47.5" fill="#d4d9cc"/>
<rect x="548.9" y="175.2" width="10.6" height="35.9" fill="#d3dec2"/>
<rect x="548.9" y="210.9" width="10.6" height="6.9" fill="#d4d9cc"/>
<rect x="548.9" y="217.5" width="10.6" height="5.9" fill="#d3dec2"/>
<rect x="548.9" y="223.1" width="10.6" height="6.9" fill="#d2e4b8"/>
<rect x="548.9" y="229.7" width="10.6" height="36.3" fill="#cde8ac"/>
<rect x="548.9" y="265.7" width="10.6" height="6.9" fill="#c8eca0"/>
<rect x="548.9" y="272.3" width="10.6" height="15.5" fill="#cde8ac"/>
<rect x="548.9" y="287.4" width="10.6" height="7.9" fill="#c8eca0"/>
<rect x="548.9" y="295.0" width="10.6" height="14.5" fill="#cde8ac"/>
<rect x="548.9" y="309.2" width="10.6" height="15.5" fill="#d4d9cc"/>
<rect x="548.9" y="324.4" width="10.6" height="5.9" fill="#d6d6d6"/>
<rect x="548.9" y="330.0" width="10.6" height="13.5" fill="#d7d7d5"/>
<rect x="548.9" y="343.2" width="10.6" height="6.9" fill="#d6d6d6"/>
<rect x="548.9" y="349.8" width="10.6" height="42.4" fill="#d4d9cc"/>
<rect x="106.4" y="72.0" width="10.4" height="8.4" fill="#4461ab"/>
<rect x="106.4" y="80.4" width="10.4" height="1.6" fill="#7ccb86"/>
<rect x="106.4" y="82.0" width="10.4" height="1.6" fill="#b9e79a"/>
<rect x="343.6" y="69.2" width="10.0" height="6.8" fill="#f0e228"/>
<rect x="343.6" y="76.0" width="10.0" height="6.0" fill="#f0e650"/>
<rect x="354.0" y="70.0" width="9.6" height="4.4" fill="#1f8a7c"/>
<rect x="354.0" y="74.4" width="9.6" height="6.0" fill="#34a386"/>
<rect x="354.0" y="80.4" width="9.6" height="2.0" fill="#8fd38c"/>
<rect x="363.6" y="70.0" width="10.0" height="3.6" fill="#4ab482"/>
<rect x="363.6" y="73.6" width="8.8" height="2.8" fill="#86cf8a"/>
<rect x="415.4" y="105.2" width="10.4" height="6.0" fill="#eedc00"/>
<rect x="477.4" y="74.6" width="20.6" height="2.6" fill="#f1dd22"/>
<rect x="518.4" y="69.2" width="8.6" height="4.4" fill="#f0de18"/>
<rect x="117.2" y="69.2" width="10.0" height="13.6" fill="#e9e9a6"/>
<rect x="127.2" y="69.2" width="10.4" height="3.2" fill="#7fcc86"/>
<rect x="127.2" y="72.4" width="10.4" height="7.2" fill="#3aa686"/>
<rect x="132.4" y="74.0" width="5.2" height="8.0" fill="#2e9a8c"/>
<rect x="127.2" y="79.6" width="5.2" height="3.2" fill="#52b681"/>
<rect x="158.4" y="68.0" width="9.6" height="5.2" fill="#a9e097"/>
<rect x="168.0" y="68.0" width="10.0" height="6.0" fill="#8ed58b"/>
<rect x="178.0" y="68.0" width="8.8" height="4.4" fill="#b5e69a"/>
</g>
<clipPath id="c1"><rect x="106.3" y="67.0" width="453.4" height="327.0"/></clipPath>
<g clip-path="url(#c1)" fill="none" stroke="#000" stroke-width="1" stroke-linejoin="round" shape-rendering="crispEdges">
<path d="M117.0 71.0L120.0 69.6L136.0 69.6L138.0 73.0L137.6 81.0L135.0 83.6L120.0 83.6L117.0 81.0ZM127.0 70.0L127.6 83.0M130.0 70.0L131.0 83.0M134.4 70.4L133.6 82.0M113.6 72.0L115.0 81.6M116.0 72.4L115.6 82.0M120.0 86.0L132.0 85.0L128.0 95.0L117.0 94.4ZM111.0 104.0L117.0 101.0L127.0 100.0L130.0 106.0L137.4 113.0L135.6 124.0L128.0 131.0L116.0 134.0L111.0 126.0L110.0 120.0L113.0 110.0L120.0 107.6L114.0 106.4ZM137.4 113.0L148.0 110.0L157.0 107.6L168.0 109.0L171.0 106.4L168.0 99.0L161.0 95.0L168.0 89.0L180.0 83.0L182.0 79.0L187.0 75.0L188.0 70.0M137.4 113.0L140.0 120.0L153.0 125.0L160.0 128.0L168.0 134.0L176.0 136.4L190.0 130.0L198.0 122.0L202.0 117.0L200.0 110.0L196.4 106.0L199.0 100.0L201.0 95.0L206.0 92.4L204.0 87.0L197.0 84.0L192.4 80.0L191.6 76.0L198.0 75.0L207.0 76.4L212.0 75.6L215.0 72.0L214.0 69.0M144.0 72.0L149.6 70.0L147.0 76.0L149.6 78.4L160.0 77.0L176.0 75.6L183.0 74.0L187.0 70.0M212.0 92.0L215.0 86.0L228.0 83.0L237.0 83.6L241.0 89.0L243.0 81.0L236.0 76.0L250.0 77.0L260.0 73.0L271.0 68.6L280.0 76.0L282.0 80.0L292.0 79.6L302.0 74.0L310.0 77.0L320.0 81.0L330.0 82.0M212.0 92.0L217.0 99.0L219.0 107.0L217.0 115.0L214.0 123.0L207.0 126.0L205.6 129.0L210.0 131.0L222.0 129.0L232.0 131.0L240.0 134.0L250.0 128.0L259.0 129.4L270.0 129.0L282.0 130.0L290.0 136.0L294.0 140.0L302.0 142.0L312.0 140.0L322.0 135.0L330.0 132.0M309.0 74.0L316.0 72.0L330.0 72.0M316.0 73.0L323.0 74.4L330.0 75.6M106.0 187.0L115.0 190.0L123.0 194.0L127.0 202.0L131.0 208.0L132.0 220.0L131.0 227.0M260.0 201.0L271.0 193.0L273.6 200.0L271.6 211.0ZM169.0 227.0L165.6 220.0L167.0 216.0L170.0 215.0L184.0 219.0L198.0 223.0L210.0 226.0M266.0 227.0L271.6 220.0L275.0 227.0M308.0 226.0L314.0 221.6L324.0 221.6L327.0 224.0L324.0 227.0M330.0 130.0L339.0 127.0L342.4 119.0L343.6 134.0L350.0 142.0L362.0 145.0L374.0 138.4L394.0 142.0L405.0 139.0L424.0 143.0L436.0 152.0L441.0 138.0L445.0 130.4L450.0 133.0L456.0 139.0L468.0 134.0L477.0 131.0L481.0 122.0L488.0 114.0L492.0 108.0L497.0 106.4L504.0 109.6L508.0 114.4L518.0 115.6L497.0 119.6L495.6 126.0L498.0 129.0L508.0 125.6L518.0 124.4L523.0 132.0L528.0 138.4L538.0 134.0L545.0 129.6L549.0 121.6L559.6 123.0M336.4 106.0L342.0 101.6L347.0 105.0ZM345.0 71.0L350.0 70.0L382.0 70.4L373.0 76.0L371.0 80.0L365.0 85.6L354.0 90.0L350.0 82.0L345.6 77.0ZM349.0 71.0L354.0 70.4L375.0 71.2L370.0 77.0L356.0 81.0L351.0 81.0ZM347.6 71.0L349.0 80.0L352.4 85.6M382.0 71.0L394.0 74.4L416.0 74.0L438.0 73.0L450.0 71.0L457.0 74.4L470.0 72.0L479.0 70.0M403.0 72.8L430.0 72.8M403.0 73.4L430.0 73.4M420.0 74.4L439.0 75.0L434.0 81.0L427.0 84.4L422.4 80.4ZM525.0 71.6L545.0 72.4L543.0 82.0L538.0 85.6L529.0 86.0L526.0 79.0ZM497.6 98.0L498.4 103.0M415.0 227.0L412.4 214.0L415.0 205.0L426.0 205.0L436.0 217.6L446.4 205.6L456.4 222.0L460.4 211.0L467.0 204.4L478.0 209.6L485.0 212.0L488.0 216.4L490.0 211.0L497.0 208.4L504.0 211.6L509.0 218.0L514.0 227.0M446.4 190.0L447.6 192.4L446.4 195.0L445.4 192.4ZM545.0 227.0L549.6 219.6L553.0 227.0M330.0 74.4L337.0 73.6L335.0 79.0L330.0 82.0M131.0 227.0L133.0 231.0L142.0 237.0L154.0 246.0L168.0 259.0L169.0 260.0L165.0 268.0L159.0 275.0L154.0 279.4L159.0 284.0L161.0 290.0L150.0 295.0L141.6 299.4L148.0 306.0L152.0 315.0L152.4 323.0L148.0 328.0L142.0 325.0L136.4 320.6L133.0 329.0L129.0 338.0L133.0 351.0L135.0 371.0L137.0 382.0L132.0 388.0L140.0 388.6L154.0 385.0L163.0 381.0L168.0 375.4L171.0 379.0L173.0 383.0L178.0 388.0L190.0 386.0L199.0 386.0L204.0 388.0L207.0 392.0M172.0 227.0L178.0 235.0L182.4 242.0L180.0 249.0L178.0 257.0L169.0 260.0L176.0 267.0L186.0 276.0L195.0 287.0L199.0 301.0L202.0 306.0L210.0 309.0L215.0 315.0L222.0 316.0L230.0 311.0L240.0 302.6L237.0 294.0L233.6 285.0L237.6 277.0L241.0 272.6L244.0 275.0L245.0 279.4L252.0 287.0L256.0 296.0L261.0 302.6L266.0 299.0L271.0 288.0L276.0 290.0L282.0 297.0L292.0 299.4L298.0 304.0L308.0 305.4L314.0 307.4L311.6 315.0L310.0 325.0L318.0 327.0L327.0 328.0L330.0 333.0M330.0 321.4L324.0 322.0L320.0 324.0L330.0 325.0M212.0 227.0L220.0 229.0L229.0 235.0L228.0 249.0L229.0 261.0L231.0 262.6L234.0 257.0L239.0 254.0L245.0 257.0L248.0 264.0L247.0 269.0L252.0 270.0L258.0 269.0L260.0 263.0L262.0 253.0L261.6 246.0L259.6 242.0L264.0 233.0L267.0 227.0M263.0 259.0L267.0 255.4L272.0 256.0L275.0 263.0L274.0 268.0L269.0 270.0L264.0 267.0ZM275.0 227.0L278.0 235.0L285.0 243.0L293.6 247.0L288.0 255.0L285.0 265.0L288.0 271.0L296.0 277.0L304.0 279.4L300.0 285.0L299.0 291.0L302.0 295.0L308.0 292.0L314.0 290.0L317.0 284.0L315.6 273.0L316.0 263.0L310.0 257.0L310.0 249.0L318.0 245.4L327.0 245.0L330.0 242.0M309.0 227.0L311.0 231.0L316.0 233.0L322.0 230.6L324.0 227.0M330.0 247.0L327.6 253.0L328.0 261.0L330.0 263.0M115.6 252.0L117.0 253.0L117.6 262.0L116.4 268.0L116.0 259.0ZM123.0 299.0L127.0 296.0L132.4 299.0L128.0 302.0ZM165.6 297.0L168.4 294.6L171.0 297.4L168.4 300.0ZM198.0 329.0L199.6 327.4L201.0 329.4L199.4 331.0ZM117.0 386.0L122.0 387.4M330.0 237.0L334.0 238.6L336.4 242.0L334.0 246.0L330.0 248.0M330.0 263.0L336.0 270.0L340.0 280.0L343.0 286.0L349.0 281.0L353.6 274.0L360.0 279.0L367.0 284.0L369.0 293.0L371.0 300.0L376.0 301.4L382.4 298.0L386.0 292.6L381.6 290.0L378.4 284.0L380.0 278.0L389.0 269.4L386.0 261.0L383.6 254.0L388.0 252.0L394.0 254.0L398.0 260.0L398.4 266.0L396.0 277.0L397.0 293.0L398.0 299.0L394.0 305.0L389.0 307.0L388.0 313.0L390.0 318.0L388.0 322.0L380.0 325.4L375.6 328.0L378.0 332.0L375.0 335.0L372.4 331.4L373.0 325.0L371.0 319.0L368.0 316.6L364.0 315.4L360.0 319.4L357.0 325.0L353.6 331.0L348.0 326.6L342.0 323.4L330.0 323.4M339.0 249.0L349.0 245.4L354.0 243.0L355.6 246.0L352.0 249.0L346.0 251.0L340.0 250.6ZM357.6 305.0L364.0 301.4L368.4 303.4L363.6 310.6ZM330.0 325.0L335.0 326.0L337.0 331.0L334.4 336.0L330.0 336.0M415.0 227.0L414.0 235.0L411.6 245.0L405.6 252.6L414.0 263.0L425.6 271.4L434.4 267.4L438.0 272.0L439.6 283.0L439.6 298.0L433.0 304.0L432.0 317.0L423.0 320.0L427.0 329.0L431.0 337.0L434.0 344.0L439.0 346.6L446.0 347.0L449.0 343.0L447.0 336.0L451.0 331.0L456.4 326.0L467.0 332.0L478.0 325.0L483.0 331.0L488.0 332.0L490.0 327.0L486.0 321.0L483.6 315.0L490.0 312.0L501.0 311.0L503.6 306.0L502.0 302.0L496.0 299.0L489.0 294.6L496.0 291.4L502.4 294.0L504.0 301.4L509.0 302.0L512.4 307.0L518.0 310.6L526.0 307.0L533.0 303.0L534.4 299.0L529.0 296.0L520.0 299.0L514.4 297.0L513.6 294.0L519.0 288.6L527.0 285.0L529.0 272.0L535.0 270.0L536.0 265.0L532.0 255.0L527.0 251.4L519.0 250.6L517.6 246.0L525.0 241.0L530.0 234.0L531.0 229.0L527.0 230.0L522.0 234.0L517.0 233.4L514.0 227.0M425.0 278.0L430.0 285.0L430.4 290.0L426.0 294.0L421.0 291.0L419.6 286.0ZM546.0 227.0L547.6 237.0L547.0 251.0L543.0 263.0L542.0 270.0L549.0 277.0L546.0 285.0L543.0 291.0L545.0 299.0L550.0 308.0L559.6 308.6M551.0 227.0L552.0 235.0L556.0 239.0L559.6 240.6M436.0 230.0L436.8 234.0L436.2 238.0L435.4 234.0ZM466.0 342.0L469.0 345.0L467.0 348.6L465.0 346.0ZM534.0 332.0L539.0 330.0L542.0 335.0L539.6 347.0L535.0 343.0L533.0 337.0ZM453.0 392.0L450.0 389.4L444.0 387.0L454.0 384.0L462.0 379.0L468.0 378.0L474.0 382.0L488.0 383.4L500.0 384.0L508.0 382.6L511.0 387.0L517.0 392.0M479.0 392.0L484.0 387.0L496.0 386.6L500.0 389.0L500.0 392.0M411.6 385.0L415.6 381.4L420.4 385.0L416.0 387.4ZM343.6 302.6L344.0 304.2M394.4 228.0L394.6 231.0"/>
<path d="M106.0 147.0L115.0 152.0L125.0 148.4L132.0 153.0L138.0 162.0L144.0 168.0L149.0 173.0L160.0 166.0L169.0 161.0L180.0 158.0L188.0 151.0L197.0 150.0L206.0 153.0L210.0 163.0L217.0 169.0L232.0 171.0L229.0 182.0L231.0 189.0L237.0 182.0L250.0 177.0L261.0 171.0L266.0 164.0L268.0 154.0L271.0 149.0L273.6 154.0L275.0 164.0L280.0 174.0L290.0 175.0L300.0 174.0L310.0 169.0L320.0 167.0L330.0 172.0M149.0 173.0L142.0 180.0L148.0 190.0L157.0 182.0ZM206.0 99.0L211.0 98.0L213.6 105.0L210.0 112.0L204.4 107.0ZM142.0 72.0L143.0 82.0L152.0 85.6L162.0 85.0L173.0 82.0L183.0 79.0M221.0 69.6L230.0 72.0L242.0 71.0L256.0 69.6M282.0 71.0L290.0 74.0L298.0 71.0M249.0 186.0L251.0 192.0L250.0 198.0M107.0 84.0L112.0 82.0L116.0 83.6M330.0 174.0L340.0 178.0L342.0 186.0L349.0 198.0L355.0 206.0L353.0 214.0L360.0 224.0L362.0 227.0M367.0 227.0L368.0 202.0L369.0 182.0L367.0 173.0L374.0 165.0L379.0 174.0L385.0 184.4L394.0 178.0L404.0 164.4L414.0 169.0L424.0 163.6L436.0 167.6L445.0 163.0L456.0 167.0L470.0 168.0L478.0 174.0L486.0 174.0L488.0 168.0L500.0 169.0L510.0 164.4L518.0 160.4L528.0 166.0L540.0 169.0L550.0 165.0L559.6 167.6M434.0 170.0L436.4 176.0L435.0 182.0M424.0 76.0L430.0 78.0L433.0 76.4M530.0 75.0L536.0 76.4L541.0 75.6M531.0 79.0L538.0 81.0M454.0 69.0L466.0 68.0M332.0 200.0L333.0 198.0M166.0 319.0L174.0 318.0L180.0 321.0L188.0 316.0L199.0 316.0L204.0 321.0L210.0 326.0L220.0 325.0L230.0 319.4L240.0 319.0L250.0 322.6L262.0 319.0L272.0 321.0L281.0 318.0L288.0 323.0L294.0 326.0L298.0 327.0L292.0 331.0L288.0 339.0L290.0 351.0L283.0 359.0L276.0 355.0L271.0 350.0L262.0 351.0L252.0 359.0L242.0 356.0L230.0 358.0L218.0 356.0L207.0 355.0L196.0 354.0L188.0 346.0L193.0 340.0L192.0 334.0L184.0 332.0L174.0 329.0L166.0 325.0ZM153.0 338.0L158.0 335.0L167.0 335.0L173.0 339.0L178.0 345.0L173.0 351.0L168.0 357.0L160.0 351.0L154.0 344.0ZM234.0 332.0L240.0 328.6L248.0 333.0L258.0 334.6L268.0 332.0L273.0 332.0L270.0 336.0L260.0 339.0L248.0 338.6L238.0 336.0ZM215.0 331.0L220.0 328.6L226.0 332.0L222.0 337.0L216.4 335.0ZM298.0 327.0L292.0 336.0L290.0 345.0L294.0 355.0L302.0 362.0L308.0 355.0L310.0 345.0L316.0 342.0L308.0 337.0L302.0 335.0L296.0 338.0M249.0 381.0L256.0 379.0L262.0 378.6M207.0 353.0L210.0 348.6L212.0 353.4M291.0 313.4L292.0 314.6M137.0 337.0L138.0 339.0M360.0 228.0L362.4 235.0L364.0 240.6L366.4 235.0L367.0 228.0M363.0 260.0L368.0 263.0L374.0 266.0M364.0 263.0L369.0 261.0M404.0 288.0L407.0 289.0L406.0 305.0L404.0 297.0ZM410.0 310.0L416.4 309.0L418.0 315.0L415.6 319.0L412.0 314.0ZM402.0 325.0L412.0 325.0L420.0 329.0L423.6 336.0L421.0 347.0L414.0 356.0L404.0 360.0L395.0 363.4L391.0 355.0L391.0 345.0L395.0 337.0L399.0 331.0ZM401.0 341.0L407.0 341.4M395.0 336.6L398.0 338.2M362.0 321.0L365.0 322.0L364.4 341.0L362.0 339.0ZM456.4 333.0L457.0 347.0L456.6 363.0M559.6 327.0L550.0 328.0L542.0 324.0L534.0 325.0L523.0 330.0L518.0 339.0L510.0 345.0L504.0 342.0L511.0 349.0L520.0 352.0L527.0 363.0L534.0 371.0L539.0 377.0L541.0 367.0L544.0 351.0L548.0 343.0L553.0 341.0L557.0 346.0M500.0 335.0L495.0 340.0L493.0 349.0L496.0 359.0L500.0 364.6L505.6 359.0L508.0 351.0L510.0 345.0M532.0 315.0L536.0 311.4L540.4 314.0L539.0 318.6L534.0 318.0ZM506.0 330.0L510.0 332.0M487.0 352.6L487.4 353.4" stroke-dasharray="1.35 2.65" stroke-width="1.35"/>
</g>
<g shape-rendering="crispEdges">
<rect x="106.8" y="544.5" width="10.6" height="36.9" fill="#e5e5aa"/>
<rect x="106.8" y="581.1" width="10.6" height="6.9" fill="#dfdec8"/>
<rect x="106.8" y="587.7" width="10.6" height="6.9" fill="#d7d7d5"/>
<rect x="106.8" y="594.3" width="10.6" height="7.9" fill="#d6d6d6"/>
<rect x="106.8" y="601.9" width="10.6" height="15.5" fill="#d4d9cc"/>
<rect x="106.8" y="617.0" width="10.6" height="6.9" fill="#d3dec2"/>
<rect x="106.8" y="623.6" width="10.6" height="13.5" fill="#d2e4b8"/>
<rect x="106.8" y="636.8" width="10.6" height="13.5" fill="#cde8ac"/>
<rect x="106.8" y="650.0" width="10.6" height="12.5" fill="#c8eca0"/>
<rect x="106.8" y="662.3" width="10.6" height="5.9" fill="#bce89a"/>
<rect x="106.8" y="667.9" width="10.6" height="19.1" fill="#c8eca0"/>
<rect x="106.8" y="686.7" width="10.6" height="7.9" fill="#bce89a"/>
<rect x="106.8" y="694.3" width="10.6" height="30.7" fill="#c8eca0"/>
<rect x="106.8" y="724.6" width="10.6" height="6.9" fill="#bce89a"/>
<rect x="106.8" y="731.2" width="10.6" height="6.9" fill="#c8eca0"/>
<rect x="106.8" y="737.8" width="10.6" height="5.9" fill="#bce89a"/>
<rect x="106.8" y="743.4" width="10.6" height="5.9" fill="#a3dc90"/>
<rect x="106.8" y="749.0" width="10.6" height="6.9" fill="#b0e494"/>
<rect x="106.8" y="755.6" width="10.6" height="7.9" fill="#bce89a"/>
<rect x="106.8" y="763.2" width="10.6" height="13.5" fill="#c8eca0"/>
<rect x="106.8" y="776.4" width="10.6" height="57.1" fill="#bce89a"/>
<rect x="106.8" y="833.2" width="10.6" height="8.7" fill="#c8eca0"/>
<rect x="117.1" y="542.0" width="10.6" height="4.8" fill="#e8e67c"/>
<rect x="117.1" y="546.5" width="10.6" height="12.5" fill="#e8e36e"/>
<rect x="117.1" y="558.7" width="10.6" height="14.5" fill="#e8e67c"/>
<rect x="117.1" y="572.9" width="10.6" height="6.9" fill="#e6e693"/>
<rect x="117.1" y="579.5" width="10.6" height="7.9" fill="#e5e5aa"/>
<rect x="117.1" y="587.1" width="10.6" height="6.9" fill="#e2e2b9"/>
<rect x="117.1" y="593.7" width="10.6" height="13.5" fill="#d7d7d5"/>
<rect x="117.1" y="606.9" width="10.6" height="5.9" fill="#d6d6d6"/>
<rect x="117.1" y="612.5" width="10.6" height="14.5" fill="#d4d9cc"/>
<rect x="117.1" y="626.7" width="10.6" height="20.1" fill="#d2e4b8"/>
<rect x="117.1" y="646.5" width="10.6" height="5.9" fill="#cde8ac"/>
<rect x="117.1" y="652.1" width="10.6" height="6.9" fill="#c8eca0"/>
<rect x="117.1" y="658.7" width="10.6" height="7.9" fill="#cde8ac"/>
<rect x="117.1" y="666.3" width="10.6" height="20.1" fill="#c8eca0"/>
<rect x="117.1" y="686.1" width="10.6" height="19.1" fill="#cde8ac"/>
<rect x="117.1" y="704.9" width="10.6" height="12.5" fill="#c8eca0"/>
<rect x="117.1" y="717.1" width="10.6" height="6.9" fill="#bce89a"/>
<rect x="117.1" y="723.7" width="10.6" height="14.5" fill="#c8eca0"/>
<rect x="117.1" y="737.9" width="10.6" height="6.9" fill="#d2e4b8"/>
<rect x="117.1" y="744.5" width="10.6" height="20.1" fill="#d3dec2"/>
<rect x="117.1" y="764.3" width="10.6" height="6.9" fill="#d2e4b8"/>
<rect x="117.1" y="770.9" width="10.6" height="13.5" fill="#cde8ac"/>
<rect x="117.1" y="784.1" width="10.6" height="25.7" fill="#c8eca0"/>
<rect x="117.1" y="809.5" width="10.6" height="6.9" fill="#cde8ac"/>
<rect x="117.1" y="816.1" width="10.6" height="6.9" fill="#c8eca0"/>
<rect x="117.1" y="822.7" width="10.6" height="6.9" fill="#cde8ac"/>
<rect x="117.1" y="829.3" width="10.6" height="6.9" fill="#c8eca0"/>
<rect x="117.1" y="835.9" width="10.6" height="13.5" fill="#cde8ac"/>
<rect x="117.1" y="849.1" width="10.6" height="9.9" fill="#d3dec2"/>
<rect x="127.3" y="540.5" width="10.6" height="8.0" fill="#e5e5aa"/>
<rect x="127.3" y="548.2" width="10.6" height="5.9" fill="#e8e36e"/>
<rect x="127.3" y="553.8" width="10.6" height="18.1" fill="#e8e67c"/>
<rect x="127.3" y="571.6" width="10.6" height="6.9" fill="#e6e693"/>
<rect x="127.3" y="578.2" width="10.6" height="7.9" fill="#e5e5aa"/>
<rect x="127.3" y="585.8" width="10.6" height="5.9" fill="#dfdec8"/>
<rect x="127.3" y="591.4" width="10.6" height="5.9" fill="#dbdace"/>
<rect x="127.3" y="597.0" width="10.6" height="7.9" fill="#d7d7d5"/>
<rect x="127.3" y="604.6" width="10.6" height="19.1" fill="#d6d6d6"/>
<rect x="127.3" y="623.4" width="10.6" height="6.9" fill="#d4d9cc"/>
<rect x="127.3" y="630.0" width="10.6" height="5.9" fill="#d3dec2"/>
<rect x="127.3" y="635.6" width="10.6" height="25.7" fill="#d2e4b8"/>
<rect x="127.3" y="661.0" width="10.6" height="6.9" fill="#cde8ac"/>
<rect x="127.3" y="667.6" width="10.6" height="14.5" fill="#d2e4b8"/>
<rect x="127.3" y="681.8" width="10.6" height="5.9" fill="#cde8ac"/>
<rect x="127.3" y="687.4" width="10.6" height="6.9" fill="#d2e4b8"/>
<rect x="127.3" y="694.0" width="10.6" height="19.1" fill="#cde8ac"/>
<rect x="127.3" y="712.9" width="10.6" height="5.9" fill="#c8eca0"/>
<rect x="127.3" y="718.5" width="10.6" height="6.9" fill="#cde8ac"/>
<rect x="127.3" y="725.1" width="10.6" height="6.9" fill="#c8eca0"/>
<rect x="127.3" y="731.7" width="10.6" height="6.9" fill="#cde8ac"/>
<rect x="127.3" y="738.3" width="10.6" height="6.9" fill="#d3dec2"/>
<rect x="127.3" y="744.9" width="10.6" height="26.7" fill="#d4d9cc"/>
<rect x="127.3" y="771.3" width="10.6" height="6.9" fill="#d3dec2"/>
<rect x="127.3" y="777.9" width="10.6" height="6.9" fill="#cde8ac"/>
<rect x="127.3" y="784.5" width="10.6" height="20.1" fill="#d2e4b8"/>
<rect x="127.3" y="804.3" width="10.6" height="7.9" fill="#d3dec2"/>
<rect x="127.3" y="811.9" width="10.6" height="41.6" fill="#d2e4b8"/>
<rect x="127.3" y="853.1" width="10.6" height="5.9" fill="#d3dec2"/>
<rect x="127.3" y="858.7" width="10.6" height="3.2" fill="#d2e4b8"/>
<rect x="137.6" y="544.0" width="10.6" height="4.4" fill="#e2e2b9"/>
<rect x="137.6" y="548.1" width="10.6" height="20.1" fill="#e5e5aa"/>
<rect x="137.6" y="567.9" width="10.6" height="6.9" fill="#e2e2b9"/>
<rect x="137.6" y="574.5" width="10.6" height="13.5" fill="#dbdace"/>
<rect x="137.6" y="587.7" width="10.6" height="11.5" fill="#d7d7d5"/>
<rect x="137.6" y="598.9" width="10.6" height="7.9" fill="#d6d6d6"/>
<rect x="137.6" y="606.5" width="10.6" height="19.1" fill="#d4d9cc"/>
<rect x="137.6" y="625.3" width="10.6" height="11.5" fill="#d3dec2"/>
<rect x="137.6" y="636.5" width="10.6" height="5.9" fill="#d2e4b8"/>
<rect x="137.6" y="642.2" width="10.6" height="7.9" fill="#cde8ac"/>
<rect x="137.6" y="649.7" width="10.6" height="6.9" fill="#c8eca0"/>
<rect x="137.6" y="656.3" width="10.6" height="6.9" fill="#cde8ac"/>
<rect x="137.6" y="662.9" width="10.6" height="35.0" fill="#c8eca0"/>
<rect x="137.6" y="697.6" width="10.6" height="13.5" fill="#bce89a"/>
<rect x="137.6" y="710.8" width="10.6" height="5.9" fill="#b0e494"/>
<rect x="137.6" y="716.4" width="10.6" height="13.5" fill="#bce89a"/>
<rect x="137.6" y="729.6" width="10.6" height="6.9" fill="#c8eca0"/>
<rect x="137.6" y="736.2" width="10.6" height="7.9" fill="#cde8ac"/>
<rect x="137.6" y="743.8" width="10.6" height="14.5" fill="#d3dec2"/>
<rect x="137.6" y="758.0" width="10.6" height="14.5" fill="#d4d9cc"/>
<rect x="137.6" y="772.2" width="10.6" height="6.9" fill="#d3dec2"/>
<rect x="137.6" y="778.8" width="10.6" height="13.5" fill="#c8eca0"/>
<rect x="137.6" y="792.0" width="10.6" height="7.9" fill="#cde8ac"/>
<rect x="137.6" y="799.6" width="10.6" height="6.9" fill="#d2e4b8"/>
<rect x="137.6" y="806.2" width="10.6" height="14.5" fill="#d3dec2"/>
<rect x="137.6" y="820.4" width="10.6" height="15.5" fill="#cde8ac"/>
<rect x="137.6" y="835.5" width="10.6" height="14.5" fill="#d2e4b8"/>
<rect x="137.6" y="849.7" width="10.6" height="14.5" fill="#cde8ac"/>
<rect x="147.9" y="541.0" width="10.6" height="10.5" fill="#dfdec8"/>
<rect x="147.9" y="551.2" width="10.6" height="24.7" fill="#e5e5aa"/>
<rect x="147.9" y="575.6" width="10.6" height="13.5" fill="#e2e2b9"/>
<rect x="147.9" y="588.8" width="10.6" height="7.9" fill="#dbdace"/>
<rect x="147.9" y="596.4" width="10.6" height="5.9" fill="#d7d7d5"/>
<rect x="147.9" y="602.0" width="10.6" height="11.5" fill="#d6d6d6"/>
<rect x="147.9" y="613.2" width="10.6" height="5.9" fill="#d4d9cc"/>
<rect x="147.9" y="618.8" width="10.6" height="6.9" fill="#d6d6d6"/>
<rect x="147.9" y="625.4" width="10.6" height="19.1" fill="#d4d9cc"/>
<rect x="147.9" y="644.3" width="10.6" height="14.5" fill="#d2e4b8"/>
<rect x="147.9" y="658.4" width="10.6" height="5.9" fill="#cde8ac"/>
<rect x="147.9" y="664.1" width="10.6" height="12.5" fill="#d2e4b8"/>
<rect x="147.9" y="676.3" width="10.6" height="6.9" fill="#cde8ac"/>
<rect x="147.9" y="682.9" width="10.6" height="7.9" fill="#d2e4b8"/>
<rect x="147.9" y="690.5" width="10.6" height="7.9" fill="#cde8ac"/>
<rect x="147.9" y="698.0" width="10.6" height="35.3" fill="#c8eca0"/>
<rect x="147.9" y="733.0" width="10.6" height="6.9" fill="#cde8ac"/>
<rect x="147.9" y="739.6" width="10.6" height="6.9" fill="#d2e4b8"/>
<rect x="147.9" y="746.2" width="10.6" height="18.1" fill="#d4d9cc"/>
<rect x="147.9" y="764.0" width="10.6" height="7.9" fill="#d6d6d6"/>
<rect x="147.9" y="771.6" width="10.6" height="13.5" fill="#d4d9cc"/>
<rect x="147.9" y="784.8" width="10.6" height="6.9" fill="#d3dec2"/>
<rect x="147.9" y="791.4" width="10.6" height="5.9" fill="#d2e4b8"/>
<rect x="147.9" y="797.0" width="10.6" height="6.9" fill="#d3dec2"/>
<rect x="147.9" y="803.6" width="10.6" height="53.1" fill="#d4d9cc"/>
<rect x="147.9" y="856.4" width="10.6" height="7.8" fill="#d3dec2"/>
<rect x="158.2" y="542.0" width="10.6" height="7.7" fill="#dbdace"/>
<rect x="158.2" y="549.4" width="10.6" height="6.9" fill="#d7d7d5"/>
<rect x="158.2" y="556.0" width="10.6" height="6.9" fill="#e2e2b9"/>
<rect x="158.2" y="562.6" width="10.6" height="7.9" fill="#e5e5aa"/>
<rect x="158.2" y="570.2" width="10.6" height="13.5" fill="#e2e2b9"/>
<rect x="158.2" y="583.4" width="10.6" height="6.9" fill="#dfdec8"/>
<rect x="158.2" y="590.0" width="10.6" height="20.1" fill="#d7d7d5"/>
<rect x="158.2" y="609.8" width="10.6" height="6.9" fill="#d6d6d6"/>
<rect x="158.2" y="616.4" width="10.6" height="28.7" fill="#d4d9cc"/>
<rect x="158.2" y="644.8" width="10.6" height="6.9" fill="#d2e4b8"/>
<rect x="158.2" y="651.4" width="10.6" height="40.9" fill="#cde8ac"/>
<rect x="158.2" y="691.9" width="10.6" height="18.1" fill="#c8eca0"/>
<rect x="158.2" y="709.8" width="10.6" height="14.5" fill="#bce89a"/>
<rect x="158.2" y="724.0" width="10.6" height="14.5" fill="#c8eca0"/>
<rect x="158.2" y="738.1" width="10.6" height="6.9" fill="#d2e4b8"/>
<rect x="158.2" y="744.7" width="10.6" height="20.1" fill="#d4d9cc"/>
<rect x="158.2" y="764.5" width="10.6" height="25.7" fill="#d6d6d6"/>
<rect x="158.2" y="790.0" width="10.6" height="74.2" fill="#d4d9cc"/>
<rect x="168.5" y="542.0" width="10.6" height="3.5" fill="#dbdace"/>
<rect x="168.5" y="545.2" width="10.6" height="5.9" fill="#d7d7d5"/>
<rect x="168.5" y="550.8" width="10.6" height="7.9" fill="#dfdec8"/>
<rect x="168.5" y="558.4" width="10.6" height="14.5" fill="#e5e5aa"/>
<rect x="168.5" y="572.6" width="10.6" height="7.9" fill="#e6e693"/>
<rect x="168.5" y="580.2" width="10.6" height="5.9" fill="#e8e67c"/>
<rect x="168.5" y="585.8" width="10.6" height="5.9" fill="#e5e5aa"/>
<rect x="168.5" y="591.4" width="10.6" height="6.9" fill="#e2e2b9"/>
<rect x="168.5" y="598.0" width="10.6" height="7.9" fill="#dbdace"/>
<rect x="168.5" y="605.6" width="10.6" height="5.9" fill="#d7d7d5"/>
<rect x="168.5" y="611.2" width="10.6" height="15.5" fill="#d6d6d6"/>
<rect x="168.5" y="626.4" width="10.6" height="19.1" fill="#d4d9cc"/>
<rect x="168.5" y="645.2" width="10.6" height="13.5" fill="#d2e4b8"/>
<rect x="168.5" y="658.4" width="10.6" height="14.5" fill="#cde8ac"/>
<rect x="168.5" y="672.6" width="10.6" height="13.5" fill="#d2e4b8"/>
<rect x="168.5" y="685.8" width="10.6" height="12.5" fill="#cde8ac"/>
<rect x="168.5" y="698.0" width="10.6" height="5.9" fill="#c8eca0"/>
<rect x="168.5" y="703.6" width="10.6" height="5.9" fill="#cde8ac"/>
<rect x="168.5" y="709.2" width="10.6" height="21.1" fill="#d2e4b8"/>
<rect x="168.5" y="730.0" width="10.6" height="14.5" fill="#d3dec2"/>
<rect x="168.5" y="744.2" width="10.6" height="6.9" fill="#d4d9cc"/>
<rect x="168.5" y="750.8" width="10.6" height="6.9" fill="#d6d6d6"/>
<rect x="168.5" y="757.4" width="10.6" height="5.9" fill="#d7d7d5"/>
<rect x="168.5" y="763.0" width="10.6" height="6.9" fill="#d6d6d6"/>
<rect x="168.5" y="769.6" width="10.6" height="24.7" fill="#d7d7d5"/>
<rect x="168.5" y="794.0" width="10.6" height="13.5" fill="#d6d6d6"/>
<rect x="168.5" y="807.2" width="10.6" height="40.6" fill="#d4d9cc"/>
<rect x="168.5" y="847.5" width="10.6" height="7.9" fill="#d6d6d6"/>
<rect x="168.5" y="855.1" width="10.6" height="9.1" fill="#d4d9cc"/>
<rect x="178.8" y="544.0" width="10.6" height="6.6" fill="#e2e2b9"/>
<rect x="178.8" y="550.3" width="10.6" height="12.5" fill="#e5e5aa"/>
<rect x="178.8" y="562.5" width="10.6" height="5.9" fill="#e6e693"/>
<rect x="178.8" y="568.1" width="10.6" height="6.9" fill="#e8e67c"/>
<rect x="178.8" y="574.7" width="10.6" height="13.5" fill="#e8e060"/>
<rect x="178.8" y="587.9" width="10.6" height="6.9" fill="#e8e67c"/>
<rect x="178.8" y="594.5" width="10.6" height="6.9" fill="#e2e2b9"/>
<rect x="178.8" y="601.1" width="10.6" height="5.9" fill="#dbdace"/>
<rect x="178.8" y="606.7" width="10.6" height="7.9" fill="#d7d7d5"/>
<rect x="178.8" y="614.3" width="10.6" height="5.9" fill="#d6d6d6"/>
<rect x="178.8" y="619.9" width="10.6" height="37.9" fill="#d4d9cc"/>
<rect x="178.8" y="657.5" width="10.6" height="5.9" fill="#d3dec2"/>
<rect x="178.8" y="663.1" width="10.6" height="13.5" fill="#d4d9cc"/>
<rect x="178.8" y="676.3" width="10.6" height="6.9" fill="#d3dec2"/>
<rect x="178.8" y="682.9" width="10.6" height="14.5" fill="#d2e4b8"/>
<rect x="178.8" y="697.1" width="10.6" height="13.5" fill="#cde8ac"/>
<rect x="178.8" y="710.3" width="10.6" height="25.7" fill="#d2e4b8"/>
<rect x="178.8" y="735.7" width="10.6" height="5.9" fill="#d3dec2"/>
<rect x="178.8" y="741.3" width="10.6" height="5.9" fill="#d4d9cc"/>
<rect x="178.8" y="746.9" width="10.6" height="12.5" fill="#d6d6d6"/>
<rect x="178.8" y="759.2" width="10.6" height="39.9" fill="#d7d7d5"/>
<rect x="178.8" y="798.8" width="10.6" height="5.9" fill="#d6d6d6"/>
<rect x="178.8" y="804.4" width="10.6" height="41.9" fill="#d4d9cc"/>
<rect x="178.8" y="845.9" width="10.6" height="15.5" fill="#d6d6d6"/>
<rect x="178.8" y="861.1" width="10.6" height="5.5" fill="#d4d9cc"/>
<rect x="189.0" y="540.5" width="10.6" height="13.8" fill="#e6e693"/>
<rect x="189.0" y="554.0" width="10.6" height="21.1" fill="#e8e67c"/>
<rect x="189.0" y="574.8" width="10.6" height="13.5" fill="#e8e36e"/>
<rect x="189.0" y="588.0" width="10.6" height="7.9" fill="#e6e693"/>
<rect x="189.0" y="595.6" width="10.6" height="6.9" fill="#dfdec8"/>
<rect x="189.0" y="602.2" width="10.6" height="7.9" fill="#d7d7d5"/>
<rect x="189.0" y="609.8" width="10.6" height="82.5" fill="#d4d9cc"/>
<rect x="189.0" y="692.0" width="10.6" height="6.9" fill="#d3dec2"/>
<rect x="189.0" y="698.6" width="10.6" height="6.9" fill="#d2e4b8"/>
<rect x="189.0" y="705.2" width="10.6" height="13.5" fill="#cde8ac"/>
<rect x="189.0" y="718.4" width="10.6" height="5.9" fill="#d2e4b8"/>
<rect x="189.0" y="724.0" width="10.6" height="5.9" fill="#d3dec2"/>
<rect x="189.0" y="729.6" width="10.6" height="6.9" fill="#d2e4b8"/>
<rect x="189.0" y="736.2" width="10.6" height="6.9" fill="#d3dec2"/>
<rect x="189.0" y="742.8" width="10.6" height="12.5" fill="#d4d9cc"/>
<rect x="189.0" y="755.0" width="10.6" height="32.3" fill="#d6d6d6"/>
<rect x="189.0" y="787.0" width="10.6" height="12.5" fill="#d7d7d5"/>
<rect x="189.0" y="799.2" width="10.6" height="14.5" fill="#d6d6d6"/>
<rect x="189.0" y="813.4" width="10.6" height="53.2" fill="#d4d9cc"/>
<rect x="199.3" y="543.0" width="10.6" height="19.5" fill="#e6e693"/>
<rect x="199.3" y="562.2" width="10.6" height="13.5" fill="#e5e5aa"/>
<rect x="199.3" y="575.4" width="10.6" height="12.5" fill="#e2e2b9"/>
<rect x="199.3" y="587.7" width="10.6" height="13.5" fill="#dfdec8"/>
<rect x="199.3" y="600.9" width="10.6" height="6.9" fill="#d7d7d5"/>
<rect x="199.3" y="607.5" width="10.6" height="27.7" fill="#d6d6d6"/>
<rect x="199.3" y="634.8" width="10.6" height="6.9" fill="#d4d9cc"/>
<rect x="199.3" y="641.4" width="10.6" height="54.1" fill="#d6d6d6"/>
<rect x="199.3" y="695.2" width="10.6" height="5.9" fill="#d4d9cc"/>
<rect x="199.3" y="700.8" width="10.6" height="6.9" fill="#d6d6d6"/>
<rect x="199.3" y="707.4" width="10.6" height="6.9" fill="#d3dec2"/>
<rect x="199.3" y="714.0" width="10.6" height="7.9" fill="#d4d9cc"/>
<rect x="199.3" y="721.6" width="10.6" height="12.5" fill="#d6d6d6"/>
<rect x="199.3" y="733.8" width="10.6" height="6.9" fill="#d4d9cc"/>
<rect x="199.3" y="740.4" width="10.6" height="27.7" fill="#d6d6d6"/>
<rect x="199.3" y="767.8" width="10.6" height="7.9" fill="#d4d9cc"/>
<rect x="199.3" y="775.4" width="10.6" height="19.1" fill="#d6d6d6"/>
<rect x="199.3" y="794.2" width="10.6" height="43.5" fill="#d7d7d5"/>
<rect x="199.3" y="837.5" width="10.6" height="15.5" fill="#d6d6d6"/>
<rect x="199.3" y="852.6" width="10.6" height="6.9" fill="#d4d9cc"/>
<rect x="199.3" y="859.2" width="10.6" height="7.4" fill="#d6d6d6"/>
<rect x="209.6" y="542.0" width="10.6" height="3.3" fill="#dfdec8"/>
<rect x="209.6" y="545.0" width="10.6" height="20.1" fill="#e2e2b9"/>
<rect x="209.6" y="564.8" width="10.6" height="6.9" fill="#dfdec8"/>
<rect x="209.6" y="571.4" width="10.6" height="13.5" fill="#dbdace"/>
<rect x="209.6" y="584.6" width="10.6" height="13.5" fill="#d7d7d5"/>
<rect x="209.6" y="597.8" width="10.6" height="5.9" fill="#dbdace"/>
<rect x="209.6" y="603.4" width="10.6" height="5.9" fill="#d7d7d5"/>
<rect x="209.6" y="609.0" width="10.6" height="92.7" fill="#d4d9cc"/>
<rect x="209.6" y="701.4" width="10.6" height="13.5" fill="#d3dec2"/>
<rect x="209.6" y="714.6" width="10.6" height="86.1" fill="#d4d9cc"/>
<rect x="209.6" y="800.4" width="10.6" height="6.9" fill="#d6d6d6"/>
<rect x="209.6" y="807.0" width="10.6" height="6.9" fill="#d7d7d5"/>
<rect x="209.6" y="813.6" width="10.6" height="7.9" fill="#d6d6d6"/>
<rect x="209.6" y="821.2" width="10.6" height="21.1" fill="#d7d7d5"/>
<rect x="209.6" y="842.0" width="10.6" height="7.9" fill="#d6d6d6"/>
<rect x="209.6" y="849.6" width="10.6" height="14.6" fill="#d4d9cc"/>
<rect x="219.9" y="542.0" width="10.6" height="3.2" fill="#dbdace"/>
<rect x="219.9" y="544.9" width="10.6" height="5.9" fill="#dfdec8"/>
<rect x="219.9" y="550.5" width="10.6" height="6.9" fill="#e2e2b9"/>
<rect x="219.9" y="557.1" width="10.6" height="19.1" fill="#e5e5aa"/>
<rect x="219.9" y="575.9" width="10.6" height="6.9" fill="#e2e2b9"/>
<rect x="219.9" y="582.5" width="10.6" height="7.9" fill="#dbdace"/>
<rect x="219.9" y="590.1" width="10.6" height="20.1" fill="#d7d7d5"/>
<rect x="219.9" y="609.9" width="10.6" height="7.9" fill="#d6d6d6"/>
<rect x="219.9" y="617.5" width="10.6" height="80.5" fill="#d4d9cc"/>
<rect x="219.9" y="697.7" width="10.6" height="6.9" fill="#d3dec2"/>
<rect x="219.9" y="704.3" width="10.6" height="5.9" fill="#cde8ac"/>
<rect x="219.9" y="709.9" width="10.6" height="5.9" fill="#d3dec2"/>
<rect x="219.9" y="715.5" width="10.6" height="80.5" fill="#d4d9cc"/>
<rect x="219.9" y="795.7" width="10.6" height="12.5" fill="#d6d6d6"/>
<rect x="219.9" y="807.9" width="10.6" height="26.7" fill="#d7d7d5"/>
<rect x="219.9" y="834.3" width="10.6" height="14.5" fill="#d6d6d6"/>
<rect x="219.9" y="848.5" width="10.6" height="15.7" fill="#d4d9cc"/>
<rect x="230.2" y="543.0" width="10.6" height="3.8" fill="#dbdace"/>
<rect x="230.2" y="546.5" width="10.6" height="7.9" fill="#e5e5aa"/>
<rect x="230.2" y="554.1" width="10.6" height="27.7" fill="#e6e693"/>
<rect x="230.2" y="581.5" width="10.6" height="5.9" fill="#e5e5aa"/>
<rect x="230.2" y="587.1" width="10.6" height="5.9" fill="#dfdec8"/>
<rect x="230.2" y="592.7" width="10.6" height="21.1" fill="#d7d7d5"/>
<rect x="230.2" y="613.5" width="10.6" height="84.5" fill="#d4d9cc"/>
<rect x="230.2" y="697.7" width="10.6" height="14.5" fill="#d3dec2"/>
<rect x="230.2" y="711.9" width="10.6" height="87.1" fill="#d4d9cc"/>
<rect x="230.2" y="798.7" width="10.6" height="6.9" fill="#d6d6d6"/>
<rect x="230.2" y="805.3" width="10.6" height="25.7" fill="#d7d7d5"/>
<rect x="230.2" y="830.7" width="10.6" height="14.5" fill="#d6d6d6"/>
<rect x="230.2" y="844.9" width="10.6" height="19.3" fill="#d4d9cc"/>
<rect x="240.5" y="540.5" width="10.6" height="7.3" fill="#dfdec8"/>
<rect x="240.5" y="547.5" width="10.6" height="6.9" fill="#e5e5aa"/>
<rect x="240.5" y="554.1" width="10.6" height="14.5" fill="#e8e67c"/>
<rect x="240.5" y="568.2" width="10.6" height="5.9" fill="#e8e36e"/>
<rect x="240.5" y="573.9" width="10.6" height="6.9" fill="#e8e67c"/>
<rect x="240.5" y="580.5" width="10.6" height="6.9" fill="#e5e5aa"/>
<rect x="240.5" y="587.1" width="10.6" height="6.9" fill="#dfdec8"/>
<rect x="240.5" y="593.7" width="10.6" height="13.5" fill="#dbdace"/>
<rect x="240.5" y="606.9" width="10.6" height="35.3" fill="#d6d6d6"/>
<rect x="240.5" y="641.8" width="10.6" height="7.9" fill="#d4d9cc"/>
<rect x="240.5" y="649.4" width="10.6" height="14.5" fill="#d6d6d6"/>
<rect x="240.5" y="663.6" width="10.6" height="6.9" fill="#d4d9cc"/>
<rect x="240.5" y="670.2" width="10.6" height="21.1" fill="#d6d6d6"/>
<rect x="240.5" y="691.0" width="10.6" height="5.9" fill="#d4d9cc"/>
<rect x="240.5" y="696.6" width="10.6" height="5.9" fill="#d6d6d6"/>
<rect x="240.5" y="702.2" width="10.6" height="6.9" fill="#d4d9cc"/>
<rect x="240.5" y="708.8" width="10.6" height="20.1" fill="#d6d6d6"/>
<rect x="240.5" y="728.6" width="10.6" height="6.9" fill="#d4d9cc"/>
<rect x="240.5" y="735.2" width="10.6" height="32.3" fill="#d6d6d6"/>
<rect x="240.5" y="767.2" width="10.6" height="6.9" fill="#d4d9cc"/>
<rect x="240.5" y="773.8" width="10.6" height="5.9" fill="#d6d6d6"/>
<rect x="240.5" y="779.4" width="10.6" height="6.9" fill="#d4d9cc"/>
<rect x="240.5" y="786.0" width="10.6" height="12.5" fill="#d6d6d6"/>
<rect x="240.5" y="798.3" width="10.6" height="47.5" fill="#d7d7d5"/>
<rect x="240.5" y="845.4" width="10.6" height="18.8" fill="#d6d6d6"/>
<rect x="250.7" y="542.0" width="10.6" height="6.5" fill="#dfdec8"/>
<rect x="250.7" y="548.2" width="10.6" height="12.5" fill="#e2e2b9"/>
<rect x="250.7" y="560.4" width="10.6" height="13.5" fill="#e5e5aa"/>
<rect x="250.7" y="573.6" width="10.6" height="13.5" fill="#e2e2b9"/>
<rect x="250.7" y="586.8" width="10.6" height="7.9" fill="#dbdace"/>
<rect x="250.7" y="594.4" width="10.6" height="6.9" fill="#d7d7d5"/>
<rect x="250.7" y="601.0" width="10.6" height="6.9" fill="#d6d6d6"/>
<rect x="250.7" y="607.6" width="10.6" height="84.1" fill="#d4d9cc"/>
<rect x="250.7" y="691.4" width="10.6" height="5.9" fill="#d3dec2"/>
<rect x="250.7" y="697.0" width="10.6" height="92.7" fill="#d4d9cc"/>
<rect x="250.7" y="789.4" width="10.6" height="20.1" fill="#d6d6d6"/>
<rect x="250.7" y="809.2" width="10.6" height="11.5" fill="#d7d7d5"/>
<rect x="250.7" y="820.5" width="10.6" height="13.5" fill="#d6d6d6"/>
<rect x="250.7" y="833.7" width="10.6" height="5.9" fill="#d7d7d5"/>
<rect x="250.7" y="839.3" width="10.6" height="14.5" fill="#d6d6d6"/>
<rect x="250.7" y="853.5" width="10.6" height="10.7" fill="#d4d9cc"/>
<rect x="261.0" y="543.0" width="10.6" height="10.1" fill="#e2e2b9"/>
<rect x="261.0" y="552.8" width="10.6" height="7.9" fill="#e5e5aa"/>
<rect x="261.0" y="560.4" width="10.6" height="15.5" fill="#e2e2b9"/>
<rect x="261.0" y="575.6" width="10.6" height="7.9" fill="#dfdec8"/>
<rect x="261.0" y="583.2" width="10.6" height="6.9" fill="#dbdace"/>
<rect x="261.0" y="589.8" width="10.6" height="15.5" fill="#d7d7d5"/>
<rect x="261.0" y="604.9" width="10.6" height="5.9" fill="#d4d9cc"/>
<rect x="261.0" y="610.5" width="10.6" height="6.9" fill="#d3dec2"/>
<rect x="261.0" y="617.1" width="10.6" height="5.9" fill="#d4d9cc"/>
<rect x="261.0" y="622.8" width="10.6" height="6.9" fill="#d3dec2"/>
<rect x="261.0" y="629.4" width="10.6" height="159.7" fill="#d4d9cc"/>
<rect x="261.0" y="788.7" width="10.6" height="12.5" fill="#d6d6d6"/>
<rect x="261.0" y="801.0" width="10.6" height="19.1" fill="#d7d7d5"/>
<rect x="261.0" y="819.8" width="10.6" height="14.5" fill="#d6d6d6"/>
<rect x="261.0" y="834.0" width="10.6" height="6.9" fill="#d7d7d5"/>
<rect x="261.0" y="840.6" width="10.6" height="13.5" fill="#d6d6d6"/>
<rect x="261.0" y="853.8" width="10.6" height="10.4" fill="#d4d9cc"/>
<rect x="271.3" y="542.0" width="10.6" height="8.2" fill="#e5e5aa"/>
<rect x="271.3" y="549.9" width="10.6" height="7.9" fill="#e8e67c"/>
<rect x="271.3" y="557.5" width="10.6" height="14.5" fill="#e5e5aa"/>
<rect x="271.3" y="571.7" width="10.6" height="13.5" fill="#e2e2b9"/>
<rect x="271.3" y="584.9" width="10.6" height="5.9" fill="#dbdace"/>
<rect x="271.3" y="590.5" width="10.6" height="13.5" fill="#d7d7d5"/>
<rect x="271.3" y="603.7" width="10.6" height="7.9" fill="#d6d6d6"/>
<rect x="271.3" y="611.3" width="10.6" height="168.3" fill="#d4d9cc"/>
<rect x="271.3" y="779.2" width="10.6" height="12.5" fill="#d6d6d6"/>
<rect x="271.3" y="791.4" width="10.6" height="6.9" fill="#d7d7d5"/>
<rect x="271.3" y="798.0" width="10.6" height="6.9" fill="#d6d6d6"/>
<rect x="271.3" y="804.6" width="10.6" height="45.5" fill="#d7d7d5"/>
<rect x="271.3" y="849.9" width="10.6" height="7.9" fill="#d6d6d6"/>
<rect x="271.3" y="857.4" width="10.6" height="6.8" fill="#d4d9cc"/>
<rect x="281.6" y="540.5" width="10.6" height="9.9" fill="#dbdace"/>
<rect x="281.6" y="550.1" width="10.6" height="6.9" fill="#dfdec8"/>
<rect x="281.6" y="556.7" width="10.6" height="22.1" fill="#e5e5aa"/>
<rect x="281.6" y="578.4" width="10.6" height="7.9" fill="#dfdec8"/>
<rect x="281.6" y="586.0" width="10.6" height="20.1" fill="#dbdace"/>
<rect x="281.6" y="605.8" width="10.6" height="19.1" fill="#d6d6d6"/>
<rect x="281.6" y="624.6" width="10.6" height="7.9" fill="#d4d9cc"/>
<rect x="281.6" y="632.2" width="10.6" height="13.5" fill="#d6d6d6"/>
<rect x="281.6" y="645.4" width="10.6" height="28.7" fill="#d4d9cc"/>
<rect x="281.6" y="673.8" width="10.6" height="40.9" fill="#d6d6d6"/>
<rect x="281.6" y="714.4" width="10.6" height="6.9" fill="#d4d9cc"/>
<rect x="281.6" y="721.0" width="10.6" height="13.5" fill="#d6d6d6"/>
<rect x="281.6" y="734.2" width="10.6" height="6.9" fill="#d4d9cc"/>
<rect x="281.6" y="740.8" width="10.6" height="12.5" fill="#d6d6d6"/>
<rect x="281.6" y="753.0" width="10.6" height="13.5" fill="#d4d9cc"/>
<rect x="281.6" y="766.2" width="10.6" height="6.9" fill="#d6d6d6"/>
<rect x="281.6" y="772.8" width="10.6" height="7.9" fill="#d4d9cc"/>
<rect x="281.6" y="780.4" width="10.6" height="12.5" fill="#d6d6d6"/>
<rect x="281.6" y="792.6" width="10.6" height="58.7" fill="#d7d7d5"/>
<rect x="281.6" y="851.0" width="10.6" height="13.5" fill="#d6d6d6"/>
<rect x="281.6" y="864.2" width="10.6" height="2.4" fill="#d4d9cc"/>
<rect x="291.9" y="544.0" width="10.6" height="2.8" fill="#d7d7d5"/>
<rect x="291.9" y="546.5" width="10.6" height="6.9" fill="#dbdace"/>
<rect x="291.9" y="553.1" width="10.6" height="6.9" fill="#e2e2b9"/>
<rect x="291.9" y="559.7" width="10.6" height="7.9" fill="#dfdec8"/>
<rect x="291.9" y="567.3" width="10.6" height="14.5" fill="#e2e2b9"/>
<rect x="291.9" y="581.5" width="10.6" height="5.9" fill="#dfdec8"/>
<rect x="291.9" y="587.1" width="10.6" height="6.9" fill="#dbdace"/>
<rect x="291.9" y="593.7" width="10.6" height="21.1" fill="#d7d7d5"/>
<rect x="291.9" y="614.5" width="10.6" height="20.1" fill="#d4d9cc"/>
<rect x="291.9" y="634.3" width="10.6" height="6.9" fill="#d3dec2"/>
<rect x="291.9" y="640.9" width="10.6" height="19.1" fill="#d4d9cc"/>
<rect x="291.9" y="659.7" width="10.6" height="6.9" fill="#d3dec2"/>
<rect x="291.9" y="666.3" width="10.6" height="6.9" fill="#d4d9cc"/>
<rect x="291.9" y="672.9" width="10.6" height="7.9" fill="#d3dec2"/>
<rect x="291.9" y="680.5" width="10.6" height="6.9" fill="#d4d9cc"/>
<rect x="291.9" y="687.1" width="10.6" height="6.9" fill="#d3dec2"/>
<rect x="291.9" y="693.7" width="10.6" height="6.9" fill="#d4d9cc"/>
<rect x="291.9" y="700.3" width="10.6" height="15.5" fill="#d3dec2"/>
<rect x="291.9" y="715.5" width="10.6" height="41.9" fill="#d4d9cc"/>
<rect x="291.9" y="757.1" width="10.6" height="6.9" fill="#d3dec2"/>
<rect x="291.9" y="763.7" width="10.6" height="26.7" fill="#d4d9cc"/>
<rect x="291.9" y="790.1" width="10.6" height="6.9" fill="#d6d6d6"/>
<rect x="291.9" y="796.7" width="10.6" height="6.9" fill="#d4d9cc"/>
<rect x="291.9" y="803.3" width="10.6" height="14.5" fill="#d6d6d6"/>
<rect x="291.9" y="817.4" width="10.6" height="7.9" fill="#d7d7d5"/>
<rect x="291.9" y="825.0" width="10.6" height="19.1" fill="#d6d6d6"/>
<rect x="291.9" y="843.8" width="10.6" height="13.5" fill="#d4d9cc"/>
<rect x="291.9" y="857.0" width="10.6" height="6.9" fill="#d3dec2"/>
<rect x="291.9" y="863.6" width="10.6" height="3.0" fill="#d4d9cc"/>
<rect x="302.2" y="541.0" width="10.6" height="4.6" fill="#dfdec8"/>
<rect x="302.2" y="545.3" width="10.6" height="25.7" fill="#e5e5aa"/>
<rect x="302.2" y="570.8" width="10.6" height="14.5" fill="#e6e693"/>
<rect x="302.2" y="584.9" width="10.6" height="5.9" fill="#e2e2b9"/>
<rect x="302.2" y="590.6" width="10.6" height="6.9" fill="#dfdec8"/>
<rect x="302.2" y="597.2" width="10.6" height="5.9" fill="#dbdace"/>
<rect x="302.2" y="602.8" width="10.6" height="13.5" fill="#d7d7d5"/>
<rect x="302.2" y="616.0" width="10.6" height="6.9" fill="#d6d6d6"/>
<rect x="302.2" y="622.6" width="10.6" height="37.9" fill="#d4d9cc"/>
<rect x="302.2" y="660.2" width="10.6" height="13.5" fill="#d6d6d6"/>
<rect x="302.2" y="673.4" width="10.6" height="6.9" fill="#d4d9cc"/>
<rect x="302.2" y="680.0" width="10.6" height="5.9" fill="#d6d6d6"/>
<rect x="302.2" y="685.6" width="10.6" height="20.1" fill="#d4d9cc"/>
<rect x="302.2" y="705.4" width="10.6" height="5.9" fill="#d6d6d6"/>
<rect x="302.2" y="711.0" width="10.6" height="22.1" fill="#d4d9cc"/>
<rect x="302.2" y="732.8" width="10.6" height="5.9" fill="#d6d6d6"/>
<rect x="302.2" y="738.4" width="10.6" height="12.5" fill="#d4d9cc"/>
<rect x="302.2" y="750.6" width="10.6" height="22.1" fill="#d6d6d6"/>
<rect x="302.2" y="772.4" width="10.6" height="6.9" fill="#d4d9cc"/>
<rect x="302.2" y="779.0" width="10.6" height="17.1" fill="#d6d6d6"/>
<rect x="302.2" y="795.8" width="10.6" height="5.9" fill="#d4d9cc"/>
<rect x="302.2" y="801.4" width="10.6" height="20.1" fill="#d6d6d6"/>
<rect x="302.2" y="821.2" width="10.6" height="7.9" fill="#d7d7d5"/>
<rect x="302.2" y="828.8" width="10.6" height="24.7" fill="#d6d6d6"/>
<rect x="302.2" y="853.2" width="10.6" height="7.9" fill="#d4d9cc"/>
<rect x="302.2" y="860.8" width="10.6" height="5.8" fill="#d6d6d6"/>
<rect x="312.4" y="540.5" width="10.6" height="3.9" fill="#e2e2b9"/>
<rect x="312.4" y="544.1" width="10.6" height="6.9" fill="#e6e693"/>
<rect x="312.4" y="550.7" width="10.6" height="7.9" fill="#e5e5aa"/>
<rect x="312.4" y="558.3" width="10.6" height="14.5" fill="#e6e693"/>
<rect x="312.4" y="572.4" width="10.6" height="11.5" fill="#e5e5aa"/>
<rect x="312.4" y="583.7" width="10.6" height="6.9" fill="#dfdec8"/>
<rect x="312.4" y="590.3" width="10.6" height="5.9" fill="#dbdace"/>
<rect x="312.4" y="595.9" width="10.6" height="5.9" fill="#d7d7d5"/>
<rect x="312.4" y="601.5" width="10.6" height="13.5" fill="#d6d6d6"/>
<rect x="312.4" y="614.7" width="10.6" height="83.1" fill="#d4d9cc"/>
<rect x="312.4" y="697.5" width="10.6" height="6.9" fill="#d6d6d6"/>
<rect x="312.4" y="704.1" width="10.6" height="13.5" fill="#d4d9cc"/>
<rect x="312.4" y="717.3" width="10.6" height="25.7" fill="#d6d6d6"/>
<rect x="312.4" y="742.7" width="10.6" height="7.9" fill="#d4d9cc"/>
<rect x="312.4" y="750.3" width="10.6" height="6.9" fill="#d6d6d6"/>
<rect x="312.4" y="756.9" width="10.6" height="39.9" fill="#d4d9cc"/>
<rect x="312.4" y="796.5" width="10.6" height="7.9" fill="#d6d6d6"/>
<rect x="312.4" y="804.1" width="10.6" height="12.5" fill="#d4d9cc"/>
<rect x="312.4" y="816.3" width="10.6" height="6.9" fill="#d6d6d6"/>
<rect x="312.4" y="822.9" width="10.6" height="20.1" fill="#d4d9cc"/>
<rect x="312.4" y="842.7" width="10.6" height="15.5" fill="#d6d6d6"/>
<rect x="312.4" y="857.9" width="10.6" height="8.7" fill="#d4d9cc"/>
<rect x="322.7" y="542.0" width="10.6" height="8.0" fill="#e5e5aa"/>
<rect x="322.7" y="549.7" width="10.6" height="13.5" fill="#e6e693"/>
<rect x="322.7" y="562.9" width="10.6" height="6.9" fill="#e5e5aa"/>
<rect x="322.7" y="569.5" width="10.6" height="5.9" fill="#e6e693"/>
<rect x="322.7" y="575.1" width="10.6" height="7.9" fill="#e5e5aa"/>
<rect x="322.7" y="582.7" width="10.6" height="7.9" fill="#dfdec8"/>
<rect x="322.7" y="590.3" width="10.6" height="7.9" fill="#d7d7d5"/>
<rect x="322.7" y="597.9" width="10.6" height="5.9" fill="#d6d6d6"/>
<rect x="322.7" y="603.5" width="10.6" height="26.7" fill="#d4d9cc"/>
<rect x="322.7" y="629.9" width="10.6" height="5.9" fill="#d3dec2"/>
<rect x="322.7" y="635.5" width="10.6" height="13.5" fill="#d4d9cc"/>
<rect x="322.7" y="648.7" width="10.6" height="5.9" fill="#d3dec2"/>
<rect x="322.7" y="654.3" width="10.6" height="13.5" fill="#d4d9cc"/>
<rect x="322.7" y="667.5" width="10.6" height="20.1" fill="#d3dec2"/>
<rect x="322.7" y="687.3" width="10.6" height="6.9" fill="#d4d9cc"/>
<rect x="322.7" y="693.9" width="10.6" height="5.9" fill="#d3dec2"/>
<rect x="322.7" y="699.5" width="10.6" height="64.3" fill="#d4d9cc"/>
<rect x="322.7" y="763.5" width="10.6" height="21.1" fill="#d3dec2"/>
<rect x="322.7" y="784.3" width="10.6" height="13.5" fill="#d4d9cc"/>
<rect x="322.7" y="797.5" width="10.6" height="6.9" fill="#d6d6d6"/>
<rect x="322.7" y="804.1" width="10.6" height="62.5" fill="#d4d9cc"/>
<rect x="333.0" y="544.0" width="10.6" height="7.9" fill="#e5e5aa"/>
<rect x="333.0" y="551.6" width="10.6" height="25.7" fill="#e6e693"/>
<rect x="333.0" y="577.0" width="10.6" height="7.9" fill="#e5e5aa"/>
<rect x="333.0" y="584.6" width="10.6" height="13.5" fill="#dbdace"/>
<rect x="333.0" y="597.8" width="10.6" height="6.9" fill="#d6d6d6"/>
<rect x="333.0" y="604.4" width="10.6" height="33.3" fill="#d4d9cc"/>
<rect x="333.0" y="637.4" width="10.6" height="28.7" fill="#d3dec2"/>
<rect x="333.0" y="665.8" width="10.6" height="20.1" fill="#d2e4b8"/>
<rect x="333.0" y="685.6" width="10.6" height="26.7" fill="#d3dec2"/>
<rect x="333.0" y="712.0" width="10.6" height="6.9" fill="#d4d9cc"/>
<rect x="333.0" y="718.6" width="10.6" height="6.9" fill="#d3dec2"/>
<rect x="333.0" y="725.2" width="10.6" height="50.1" fill="#d4d9cc"/>
<rect x="333.0" y="775.0" width="10.6" height="13.5" fill="#d3dec2"/>
<rect x="333.0" y="788.2" width="10.6" height="78.4" fill="#d4d9cc"/>
<rect x="343.3" y="540.3" width="10.6" height="3.7" fill="#e6e693"/>
<rect x="343.3" y="543.7" width="10.6" height="7.9" fill="#e8e67c"/>
<rect x="343.3" y="551.3" width="10.6" height="7.9" fill="#e8e36e"/>
<rect x="343.3" y="558.9" width="10.6" height="34.3" fill="#e8e67c"/>
<rect x="343.3" y="592.9" width="10.6" height="6.9" fill="#e2e2b9"/>
<rect x="343.3" y="599.5" width="10.6" height="5.9" fill="#dbdace"/>
<rect x="343.3" y="605.1" width="10.6" height="12.5" fill="#d6d6d6"/>
<rect x="343.3" y="617.3" width="10.6" height="14.5" fill="#d4d9cc"/>
<rect x="343.3" y="631.5" width="10.6" height="57.7" fill="#d3dec2"/>
<rect x="343.3" y="688.9" width="10.6" height="7.9" fill="#d4d9cc"/>
<rect x="343.3" y="696.5" width="10.6" height="6.9" fill="#d3dec2"/>
<rect x="343.3" y="703.1" width="10.6" height="7.9" fill="#d4d9cc"/>
<rect x="343.3" y="710.7" width="10.6" height="7.9" fill="#d3dec2"/>
<rect x="343.3" y="718.3" width="10.6" height="5.9" fill="#d2e4b8"/>
<rect x="343.3" y="723.9" width="10.6" height="6.9" fill="#d3dec2"/>
<rect x="343.3" y="730.5" width="10.6" height="59.7" fill="#d4d9cc"/>
<rect x="343.3" y="789.9" width="10.6" height="7.9" fill="#d2e4b8"/>
<rect x="343.3" y="797.5" width="10.6" height="30.3" fill="#d4d9cc"/>
<rect x="343.3" y="827.5" width="10.6" height="7.9" fill="#d6d6d6"/>
<rect x="343.3" y="835.1" width="10.6" height="31.5" fill="#d4d9cc"/>
<rect x="353.6" y="540.5" width="10.6" height="4.8" fill="#e2e2b9"/>
<rect x="353.6" y="545.0" width="10.6" height="6.9" fill="#e5e5aa"/>
<rect x="353.6" y="551.6" width="10.6" height="21.1" fill="#e6e693"/>
<rect x="353.6" y="572.4" width="10.6" height="7.9" fill="#e8e67c"/>
<rect x="353.6" y="580.0" width="10.6" height="13.5" fill="#e5e5aa"/>
<rect x="353.6" y="593.2" width="10.6" height="5.9" fill="#e2e2b9"/>
<rect x="353.6" y="598.8" width="10.6" height="13.5" fill="#d7d7d5"/>
<rect x="353.6" y="612.0" width="10.6" height="23.1" fill="#d4d9cc"/>
<rect x="353.6" y="634.7" width="10.6" height="21.1" fill="#d3dec2"/>
<rect x="353.6" y="655.5" width="10.6" height="6.9" fill="#d2e4b8"/>
<rect x="353.6" y="662.1" width="10.6" height="12.5" fill="#d3dec2"/>
<rect x="353.6" y="674.3" width="10.6" height="6.9" fill="#d2e4b8"/>
<rect x="353.6" y="680.9" width="10.6" height="35.9" fill="#d3dec2"/>
<rect x="353.6" y="716.6" width="10.6" height="7.9" fill="#d2e4b8"/>
<rect x="353.6" y="724.2" width="10.6" height="60.7" fill="#d4d9cc"/>
<rect x="353.6" y="784.6" width="10.6" height="13.5" fill="#d3dec2"/>
<rect x="353.6" y="797.8" width="10.6" height="68.8" fill="#d4d9cc"/>
<rect x="363.8" y="544.0" width="10.6" height="11.0" fill="#e5e5aa"/>
<rect x="363.8" y="554.7" width="10.6" height="26.7" fill="#e6e693"/>
<rect x="363.8" y="581.1" width="10.6" height="6.9" fill="#e5e5aa"/>
<rect x="363.8" y="587.7" width="10.6" height="6.9" fill="#e2e2b9"/>
<rect x="363.8" y="594.3" width="10.6" height="6.9" fill="#dbdace"/>
<rect x="363.8" y="600.9" width="10.6" height="6.9" fill="#d7d7d5"/>
<rect x="363.8" y="607.5" width="10.6" height="5.9" fill="#d6d6d6"/>
<rect x="363.8" y="613.1" width="10.6" height="20.1" fill="#d4d9cc"/>
<rect x="363.8" y="632.9" width="10.6" height="6.9" fill="#d3dec2"/>
<rect x="363.8" y="639.5" width="10.6" height="12.5" fill="#d2e4b8"/>
<rect x="363.8" y="651.7" width="10.6" height="13.5" fill="#d3dec2"/>
<rect x="363.8" y="664.9" width="10.6" height="5.9" fill="#d2e4b8"/>
<rect x="363.8" y="670.5" width="10.6" height="12.5" fill="#d3dec2"/>
<rect x="363.8" y="682.7" width="10.6" height="7.9" fill="#d2e4b8"/>
<rect x="363.8" y="690.3" width="10.6" height="7.9" fill="#d3dec2"/>
<rect x="363.8" y="697.9" width="10.6" height="83.5" fill="#d4d9cc"/>
<rect x="363.8" y="781.1" width="10.6" height="5.9" fill="#d3dec2"/>
<rect x="363.8" y="786.7" width="10.6" height="13.5" fill="#d4d9cc"/>
<rect x="363.8" y="799.9" width="10.6" height="5.9" fill="#d3dec2"/>
<rect x="363.8" y="805.5" width="10.6" height="61.1" fill="#d4d9cc"/>
<rect x="374.1" y="540.3" width="10.6" height="7.8" fill="#e2e2b9"/>
<rect x="374.1" y="547.8" width="10.6" height="40.9" fill="#e5e5aa"/>
<rect x="374.1" y="588.4" width="10.6" height="5.9" fill="#dbdace"/>
<rect x="374.1" y="594.0" width="10.6" height="13.5" fill="#d7d7d5"/>
<rect x="374.1" y="607.2" width="10.6" height="5.9" fill="#d6d6d6"/>
<rect x="374.1" y="612.8" width="10.6" height="18.1" fill="#d4d9cc"/>
<rect x="374.1" y="630.6" width="10.6" height="40.9" fill="#d3dec2"/>
<rect x="374.1" y="671.2" width="10.6" height="6.9" fill="#d2e4b8"/>
<rect x="374.1" y="677.8" width="10.6" height="24.7" fill="#d3dec2"/>
<rect x="374.1" y="702.2" width="10.6" height="38.9" fill="#d4d9cc"/>
<rect x="374.1" y="740.9" width="10.6" height="7.9" fill="#d3dec2"/>
<rect x="374.1" y="748.4" width="10.6" height="5.9" fill="#d4d9cc"/>
<rect x="374.1" y="754.1" width="10.6" height="14.5" fill="#d3dec2"/>
<rect x="374.1" y="768.2" width="10.6" height="6.9" fill="#d4d9cc"/>
<rect x="374.1" y="774.8" width="10.6" height="6.9" fill="#d3dec2"/>
<rect x="374.1" y="781.4" width="10.6" height="6.9" fill="#d2e4b8"/>
<rect x="374.1" y="788.0" width="10.6" height="7.9" fill="#d3dec2"/>
<rect x="374.1" y="795.6" width="10.6" height="6.9" fill="#d2e4b8"/>
<rect x="374.1" y="802.2" width="10.6" height="7.9" fill="#cde8ac"/>
<rect x="374.1" y="809.8" width="10.6" height="6.9" fill="#d2e4b8"/>
<rect x="374.1" y="816.4" width="10.6" height="6.9" fill="#d3dec2"/>
<rect x="374.1" y="823.0" width="10.6" height="43.6" fill="#d4d9cc"/>
<rect x="384.4" y="541.0" width="10.6" height="8.6" fill="#e2e2b9"/>
<rect x="384.4" y="549.3" width="10.6" height="38.9" fill="#e5e5aa"/>
<rect x="384.4" y="588.0" width="10.6" height="14.5" fill="#dbdace"/>
<rect x="384.4" y="602.1" width="10.6" height="6.9" fill="#d7d7d5"/>
<rect x="384.4" y="608.7" width="10.6" height="7.9" fill="#d6d6d6"/>
<rect x="384.4" y="616.3" width="10.6" height="31.3" fill="#d4d9cc"/>
<rect x="384.4" y="647.4" width="10.6" height="26.7" fill="#d3dec2"/>
<rect x="384.4" y="673.8" width="10.6" height="6.9" fill="#d2e4b8"/>
<rect x="384.4" y="680.4" width="10.6" height="13.5" fill="#d3dec2"/>
<rect x="384.4" y="693.6" width="10.6" height="38.9" fill="#d4d9cc"/>
<rect x="384.4" y="732.2" width="10.6" height="7.9" fill="#d6d6d6"/>
<rect x="384.4" y="739.8" width="10.6" height="18.1" fill="#d4d9cc"/>
<rect x="384.4" y="757.6" width="10.6" height="6.9" fill="#d3dec2"/>
<rect x="384.4" y="764.2" width="10.6" height="20.1" fill="#d4d9cc"/>
<rect x="384.4" y="784.0" width="10.6" height="6.9" fill="#d3dec2"/>
<rect x="384.4" y="790.6" width="10.6" height="70.3" fill="#d4d9cc"/>
<rect x="384.4" y="860.5" width="10.6" height="6.1" fill="#d6d6d6"/>
<rect x="394.7" y="540.3" width="10.6" height="7.9" fill="#e2e2b9"/>
<rect x="394.7" y="547.9" width="10.6" height="20.1" fill="#e5e5aa"/>
<rect x="394.7" y="567.7" width="10.6" height="6.9" fill="#e2e2b9"/>
<rect x="394.7" y="574.3" width="10.6" height="7.9" fill="#e5e5aa"/>
<rect x="394.7" y="581.9" width="10.6" height="6.9" fill="#dfdec8"/>
<rect x="394.7" y="588.5" width="10.6" height="13.5" fill="#dbdace"/>
<rect x="394.7" y="601.7" width="10.6" height="6.9" fill="#d7d7d5"/>
<rect x="394.7" y="608.3" width="10.6" height="6.9" fill="#d6d6d6"/>
<rect x="394.7" y="614.9" width="10.6" height="33.3" fill="#d4d9cc"/>
<rect x="394.7" y="647.9" width="10.6" height="56.1" fill="#d3dec2"/>
<rect x="394.7" y="703.7" width="10.6" height="14.5" fill="#d4d9cc"/>
<rect x="394.7" y="717.8" width="10.6" height="78.5" fill="#d6d6d6"/>
<rect x="394.7" y="796.1" width="10.6" height="13.5" fill="#d4d9cc"/>
<rect x="394.7" y="809.3" width="10.6" height="6.9" fill="#d6d6d6"/>
<rect x="394.7" y="815.9" width="10.6" height="50.7" fill="#d4d9cc"/>
<rect x="405.0" y="544.0" width="10.6" height="15.5" fill="#e6e693"/>
<rect x="405.0" y="559.2" width="10.6" height="7.9" fill="#e8e67c"/>
<rect x="405.0" y="566.8" width="10.6" height="5.9" fill="#e5e5aa"/>
<rect x="405.0" y="572.4" width="10.6" height="7.9" fill="#e6e693"/>
<rect x="405.0" y="580.0" width="10.6" height="5.9" fill="#e5e5aa"/>
<rect x="405.0" y="585.6" width="10.6" height="7.9" fill="#dfdec8"/>
<rect x="405.0" y="593.2" width="10.6" height="20.1" fill="#d7d7d5"/>
<rect x="405.0" y="613.0" width="10.6" height="6.9" fill="#d6d6d6"/>
<rect x="405.0" y="619.6" width="10.6" height="35.9" fill="#d4d9cc"/>
<rect x="405.0" y="655.2" width="10.6" height="39.9" fill="#d3dec2"/>
<rect x="405.0" y="694.8" width="10.6" height="27.7" fill="#d4d9cc"/>
<rect x="405.0" y="722.2" width="10.6" height="20.1" fill="#d6d6d6"/>
<rect x="405.0" y="742.0" width="10.6" height="5.9" fill="#d7d7d5"/>
<rect x="405.0" y="747.6" width="10.6" height="13.5" fill="#d6d6d6"/>
<rect x="405.0" y="760.8" width="10.6" height="12.5" fill="#d7d7d5"/>
<rect x="405.0" y="773.0" width="10.6" height="35.3" fill="#d6d6d6"/>
<rect x="405.0" y="808.0" width="10.6" height="58.6" fill="#d4d9cc"/>
<rect x="415.3" y="540.3" width="10.6" height="15.8" fill="#d7d7d5"/>
<rect x="415.3" y="555.8" width="10.6" height="6.9" fill="#dbdace"/>
<rect x="415.3" y="562.4" width="10.6" height="6.9" fill="#e2e2b9"/>
<rect x="415.3" y="569.0" width="10.6" height="19.1" fill="#e5e5aa"/>
<rect x="415.3" y="587.8" width="10.6" height="6.9" fill="#dfdec8"/>
<rect x="415.3" y="594.4" width="10.6" height="32.3" fill="#d7d7d5"/>
<rect x="415.3" y="626.4" width="10.6" height="5.9" fill="#d6d6d6"/>
<rect x="415.3" y="632.0" width="10.6" height="33.3" fill="#d4d9cc"/>
<rect x="415.3" y="665.0" width="10.6" height="23.7" fill="#d3dec2"/>
<rect x="415.3" y="688.5" width="10.6" height="6.9" fill="#d4d9cc"/>
<rect x="415.3" y="695.1" width="10.6" height="14.5" fill="#d3dec2"/>
<rect x="415.3" y="709.2" width="10.6" height="20.1" fill="#d4d9cc"/>
<rect x="415.3" y="729.0" width="10.6" height="29.7" fill="#d6d6d6"/>
<rect x="415.3" y="758.4" width="10.6" height="5.9" fill="#d7d7d5"/>
<rect x="415.3" y="764.0" width="10.6" height="32.3" fill="#d6d6d6"/>
<rect x="415.3" y="796.0" width="10.6" height="70.6" fill="#d4d9cc"/>
<rect x="425.5" y="543.0" width="10.6" height="8.3" fill="#d4d9cc"/>
<rect x="425.5" y="551.0" width="10.6" height="5.9" fill="#d3dec2"/>
<rect x="425.5" y="556.6" width="10.6" height="5.9" fill="#d7d7d5"/>
<rect x="425.5" y="562.2" width="10.6" height="20.1" fill="#dbdace"/>
<rect x="425.5" y="582.0" width="10.6" height="5.9" fill="#dfdec8"/>
<rect x="425.5" y="587.6" width="10.6" height="6.9" fill="#dbdace"/>
<rect x="425.5" y="594.2" width="10.6" height="6.9" fill="#d7d7d5"/>
<rect x="425.5" y="600.8" width="10.6" height="13.5" fill="#dbdace"/>
<rect x="425.5" y="614.0" width="10.6" height="19.1" fill="#d7d7d5"/>
<rect x="425.5" y="632.8" width="10.6" height="5.9" fill="#d6d6d6"/>
<rect x="425.5" y="638.4" width="10.6" height="57.7" fill="#d4d9cc"/>
<rect x="425.5" y="695.8" width="10.6" height="6.9" fill="#d3dec2"/>
<rect x="425.5" y="702.4" width="10.6" height="22.1" fill="#d4d9cc"/>
<rect x="425.5" y="724.2" width="10.6" height="34.3" fill="#d6d6d6"/>
<rect x="425.5" y="758.2" width="10.6" height="15.5" fill="#d7d7d5"/>
<rect x="425.5" y="773.4" width="10.6" height="20.1" fill="#d6d6d6"/>
<rect x="425.5" y="793.2" width="10.6" height="73.4" fill="#d4d9cc"/>
<rect x="435.8" y="540.5" width="10.6" height="14.9" fill="#dfdec8"/>
<rect x="435.8" y="555.1" width="10.6" height="14.5" fill="#dbdace"/>
<rect x="435.8" y="569.3" width="10.6" height="24.7" fill="#d7d7d5"/>
<rect x="435.8" y="593.7" width="10.6" height="5.9" fill="#dbdace"/>
<rect x="435.8" y="599.3" width="10.6" height="26.7" fill="#d7d7d5"/>
<rect x="435.8" y="625.7" width="10.6" height="13.5" fill="#d6d6d6"/>
<rect x="435.8" y="638.9" width="10.6" height="83.1" fill="#d4d9cc"/>
<rect x="435.8" y="721.7" width="10.6" height="7.9" fill="#d3dec2"/>
<rect x="435.8" y="729.3" width="10.6" height="13.5" fill="#d4d9cc"/>
<rect x="435.8" y="742.5" width="10.6" height="43.5" fill="#d6d6d6"/>
<rect x="435.8" y="785.7" width="10.6" height="5.9" fill="#d4d9cc"/>
<rect x="435.8" y="791.4" width="10.6" height="7.9" fill="#d3dec2"/>
<rect x="435.8" y="798.9" width="10.6" height="6.9" fill="#d2e4b8"/>
<rect x="435.8" y="805.5" width="10.6" height="6.9" fill="#d3dec2"/>
<rect x="435.8" y="812.1" width="10.6" height="54.5" fill="#d4d9cc"/>
<rect x="446.1" y="544.0" width="10.6" height="7.8" fill="#dfdec8"/>
<rect x="446.1" y="551.5" width="10.6" height="14.5" fill="#e5e5aa"/>
<rect x="446.1" y="565.7" width="10.6" height="7.9" fill="#dfdec8"/>
<rect x="446.1" y="573.3" width="10.6" height="30.3" fill="#dbdace"/>
<rect x="446.1" y="603.3" width="10.6" height="19.1" fill="#d7d7d5"/>
<rect x="446.1" y="622.1" width="10.6" height="19.1" fill="#d6d6d6"/>
<rect x="446.1" y="640.9" width="10.6" height="6.9" fill="#d4d9cc"/>
<rect x="446.1" y="647.5" width="10.6" height="7.9" fill="#d6d6d6"/>
<rect x="446.1" y="655.1" width="10.6" height="7.9" fill="#d4d9cc"/>
<rect x="446.1" y="662.7" width="10.6" height="7.9" fill="#d6d6d6"/>
<rect x="446.1" y="670.3" width="10.6" height="6.9" fill="#d4d9cc"/>
<rect x="446.1" y="676.9" width="10.6" height="26.7" fill="#d6d6d6"/>
<rect x="446.1" y="703.3" width="10.6" height="11.5" fill="#d4d9cc"/>
<rect x="446.1" y="714.5" width="10.6" height="5.9" fill="#d6d6d6"/>
<rect x="446.1" y="720.1" width="10.6" height="14.5" fill="#d3dec2"/>
<rect x="446.1" y="734.3" width="10.6" height="6.9" fill="#d4d9cc"/>
<rect x="446.1" y="740.9" width="10.6" height="47.5" fill="#d6d6d6"/>
<rect x="446.1" y="788.1" width="10.6" height="6.9" fill="#d4d9cc"/>
<rect x="446.1" y="794.7" width="10.6" height="5.9" fill="#d3dec2"/>
<rect x="446.1" y="800.3" width="10.6" height="21.1" fill="#d4d9cc"/>
<rect x="446.1" y="821.1" width="10.6" height="5.9" fill="#d6d6d6"/>
<rect x="446.1" y="826.7" width="10.6" height="6.9" fill="#d4d9cc"/>
<rect x="446.1" y="833.3" width="10.6" height="7.9" fill="#d6d6d6"/>
<rect x="446.1" y="840.9" width="10.6" height="6.9" fill="#d4d9cc"/>
<rect x="446.1" y="847.5" width="10.6" height="19.1" fill="#d6d6d6"/>
<rect x="456.4" y="541.0" width="10.6" height="5.9" fill="#dbdace"/>
<rect x="456.4" y="546.6" width="10.6" height="20.1" fill="#e5e5aa"/>
<rect x="456.4" y="566.4" width="10.6" height="5.9" fill="#e2e2b9"/>
<rect x="456.4" y="572.0" width="10.6" height="41.9" fill="#dbdace"/>
<rect x="456.4" y="613.6" width="10.6" height="5.9" fill="#d7d7d5"/>
<rect x="456.4" y="619.2" width="10.6" height="140.9" fill="#d6d6d6"/>
<rect x="456.4" y="759.8" width="10.6" height="7.9" fill="#d4d9cc"/>
<rect x="456.4" y="767.4" width="10.6" height="29.7" fill="#d6d6d6"/>
<rect x="456.4" y="796.8" width="10.6" height="6.9" fill="#d4d9cc"/>
<rect x="456.4" y="803.4" width="10.6" height="63.2" fill="#d6d6d6"/>
<rect x="466.7" y="541.0" width="10.6" height="8.0" fill="#e2e2b9"/>
<rect x="466.7" y="548.7" width="10.6" height="20.1" fill="#e5e5aa"/>
<rect x="466.7" y="568.5" width="10.6" height="12.5" fill="#dbdace"/>
<rect x="466.7" y="580.7" width="10.6" height="6.9" fill="#d7d7d5"/>
<rect x="466.7" y="587.3" width="10.6" height="6.9" fill="#dbdace"/>
<rect x="466.7" y="593.9" width="10.6" height="7.9" fill="#d7d7d5"/>
<rect x="466.7" y="601.5" width="10.6" height="21.1" fill="#d6d6d6"/>
<rect x="466.7" y="622.3" width="10.6" height="5.9" fill="#d4d9cc"/>
<rect x="466.7" y="627.9" width="10.6" height="6.9" fill="#d6d6d6"/>
<rect x="466.7" y="634.5" width="10.6" height="11.5" fill="#d4d9cc"/>
<rect x="466.7" y="645.7" width="10.6" height="6.9" fill="#d6d6d6"/>
<rect x="466.7" y="652.3" width="10.6" height="12.5" fill="#d4d9cc"/>
<rect x="466.7" y="664.5" width="10.6" height="7.9" fill="#d6d6d6"/>
<rect x="466.7" y="672.1" width="10.6" height="27.7" fill="#d4d9cc"/>
<rect x="466.7" y="699.5" width="10.6" height="7.9" fill="#d6d6d6"/>
<rect x="466.7" y="707.1" width="10.6" height="6.9" fill="#d4d9cc"/>
<rect x="466.7" y="713.7" width="10.6" height="14.5" fill="#d3dec2"/>
<rect x="466.7" y="727.9" width="10.6" height="40.9" fill="#d4d9cc"/>
<rect x="466.7" y="768.5" width="10.6" height="13.5" fill="#d6d6d6"/>
<rect x="466.7" y="781.7" width="10.6" height="20.1" fill="#d4d9cc"/>
<rect x="466.7" y="801.5" width="10.6" height="6.9" fill="#d6d6d6"/>
<rect x="466.7" y="808.1" width="10.6" height="13.5" fill="#d4d9cc"/>
<rect x="466.7" y="821.3" width="10.6" height="6.9" fill="#d6d6d6"/>
<rect x="466.7" y="827.9" width="10.6" height="38.7" fill="#d4d9cc"/>
<rect x="477.0" y="540.5" width="10.6" height="2.9" fill="#dfdec8"/>
<rect x="477.0" y="543.1" width="10.6" height="13.5" fill="#e5e5aa"/>
<rect x="477.0" y="556.3" width="10.6" height="6.9" fill="#e2e2b9"/>
<rect x="477.0" y="562.9" width="10.6" height="6.9" fill="#dfdec8"/>
<rect x="477.0" y="569.5" width="10.6" height="12.5" fill="#dbdace"/>
<rect x="477.0" y="581.8" width="10.6" height="6.9" fill="#d7d7d5"/>
<rect x="477.0" y="588.4" width="10.6" height="6.9" fill="#d6d6d6"/>
<rect x="477.0" y="595.0" width="10.6" height="5.9" fill="#d4d9cc"/>
<rect x="477.0" y="600.6" width="10.6" height="12.5" fill="#d6d6d6"/>
<rect x="477.0" y="612.8" width="10.6" height="64.7" fill="#d4d9cc"/>
<rect x="477.0" y="677.1" width="10.6" height="12.5" fill="#d6d6d6"/>
<rect x="477.0" y="689.3" width="10.6" height="7.9" fill="#d4d9cc"/>
<rect x="477.0" y="696.9" width="10.6" height="6.9" fill="#d6d6d6"/>
<rect x="477.0" y="703.5" width="10.6" height="15.5" fill="#d4d9cc"/>
<rect x="477.0" y="718.7" width="10.6" height="6.9" fill="#d3dec2"/>
<rect x="477.0" y="725.3" width="10.6" height="32.3" fill="#d4d9cc"/>
<rect x="477.0" y="757.3" width="10.6" height="6.9" fill="#d6d6d6"/>
<rect x="477.0" y="763.9" width="10.6" height="6.9" fill="#d4d9cc"/>
<rect x="477.0" y="770.5" width="10.6" height="6.9" fill="#d6d6d6"/>
<rect x="477.0" y="777.1" width="10.6" height="14.5" fill="#d4d9cc"/>
<rect x="477.0" y="791.3" width="10.6" height="19.1" fill="#d6d6d6"/>
<rect x="477.0" y="810.1" width="10.6" height="6.9" fill="#d4d9cc"/>
<rect x="477.0" y="816.7" width="10.6" height="5.9" fill="#d6d6d6"/>
<rect x="477.0" y="822.3" width="10.6" height="20.1" fill="#d4d9cc"/>
<rect x="477.0" y="842.1" width="10.6" height="5.9" fill="#d6d6d6"/>
<rect x="477.0" y="847.7" width="10.6" height="6.9" fill="#d4d9cc"/>
<rect x="477.0" y="854.3" width="10.6" height="5.9" fill="#d6d6d6"/>
<rect x="477.0" y="859.9" width="10.6" height="6.7" fill="#d4d9cc"/>
<rect x="487.2" y="544.0" width="10.6" height="3.3" fill="#dfdec8"/>
<rect x="487.2" y="547.0" width="10.6" height="7.9" fill="#e2e2b9"/>
<rect x="487.2" y="554.6" width="10.6" height="6.9" fill="#dbdace"/>
<rect x="487.2" y="561.2" width="10.6" height="13.5" fill="#d7d7d5"/>
<rect x="487.2" y="574.4" width="10.6" height="6.9" fill="#d6d6d6"/>
<rect x="487.2" y="581.0" width="10.6" height="27.7" fill="#d4d9cc"/>
<rect x="487.2" y="608.4" width="10.6" height="7.9" fill="#d3dec2"/>
<rect x="487.2" y="616.0" width="10.6" height="12.5" fill="#d2e4b8"/>
<rect x="487.2" y="628.2" width="10.6" height="5.9" fill="#d3dec2"/>
<rect x="487.2" y="633.8" width="10.6" height="79.5" fill="#d4d9cc"/>
<rect x="487.2" y="713.0" width="10.6" height="6.9" fill="#d3dec2"/>
<rect x="487.2" y="719.6" width="10.6" height="19.1" fill="#d4d9cc"/>
<rect x="487.2" y="738.4" width="10.6" height="5.9" fill="#d3dec2"/>
<rect x="487.2" y="744.0" width="10.6" height="25.7" fill="#d4d9cc"/>
<rect x="487.2" y="769.4" width="10.6" height="6.9" fill="#d3dec2"/>
<rect x="487.2" y="776.0" width="10.6" height="12.5" fill="#d4d9cc"/>
<rect x="487.2" y="788.2" width="10.6" height="13.5" fill="#d3dec2"/>
<rect x="487.2" y="801.4" width="10.6" height="65.2" fill="#d4d9cc"/>
<rect x="497.5" y="544.0" width="10.6" height="13.2" fill="#e5e5aa"/>
<rect x="497.5" y="556.9" width="10.6" height="6.9" fill="#e2e2b9"/>
<rect x="497.5" y="563.5" width="10.6" height="13.5" fill="#dbdace"/>
<rect x="497.5" y="576.7" width="10.6" height="7.9" fill="#d6d6d6"/>
<rect x="497.5" y="584.3" width="10.6" height="24.7" fill="#d4d9cc"/>
<rect x="497.5" y="608.7" width="10.6" height="6.9" fill="#d3dec2"/>
<rect x="497.5" y="615.3" width="10.6" height="201.3" fill="#d4d9cc"/>
<rect x="497.5" y="816.3" width="10.6" height="7.9" fill="#d6d6d6"/>
<rect x="497.5" y="823.9" width="10.6" height="32.3" fill="#d4d9cc"/>
<rect x="497.5" y="855.9" width="10.6" height="7.9" fill="#d6d6d6"/>
<rect x="497.5" y="863.5" width="10.6" height="3.1" fill="#d4d9cc"/>
<rect x="507.8" y="542.0" width="10.6" height="5.1" fill="#e6e693"/>
<rect x="507.8" y="546.8" width="10.6" height="12.5" fill="#e8e67c"/>
<rect x="507.8" y="559.0" width="10.6" height="7.9" fill="#e5e5aa"/>
<rect x="507.8" y="566.6" width="10.6" height="5.9" fill="#dbdace"/>
<rect x="507.8" y="572.2" width="10.6" height="5.9" fill="#d7d7d5"/>
<rect x="507.8" y="577.8" width="10.6" height="6.9" fill="#d6d6d6"/>
<rect x="507.8" y="584.4" width="10.6" height="110.5" fill="#d4d9cc"/>
<rect x="507.8" y="694.7" width="10.6" height="6.9" fill="#d6d6d6"/>
<rect x="507.8" y="701.3" width="10.6" height="165.3" fill="#d4d9cc"/>
<rect x="518.1" y="543.0" width="10.6" height="4.3" fill="#e8e67c"/>
<rect x="518.1" y="547.0" width="10.6" height="5.9" fill="#e8e36e"/>
<rect x="518.1" y="552.6" width="10.6" height="7.9" fill="#e8e67c"/>
<rect x="518.1" y="560.2" width="10.6" height="6.9" fill="#e2e2b9"/>
<rect x="518.1" y="566.8" width="10.6" height="14.5" fill="#dbdace"/>
<rect x="518.1" y="581.0" width="10.6" height="14.5" fill="#d6d6d6"/>
<rect x="518.1" y="595.1" width="10.6" height="27.7" fill="#d4d9cc"/>
<rect x="518.1" y="622.5" width="10.6" height="6.9" fill="#d6d6d6"/>
<rect x="518.1" y="629.1" width="10.6" height="20.1" fill="#d4d9cc"/>
<rect x="518.1" y="648.9" width="10.6" height="5.9" fill="#d6d6d6"/>
<rect x="518.1" y="654.5" width="10.6" height="67.3" fill="#d4d9cc"/>
<rect x="518.1" y="721.5" width="10.6" height="5.9" fill="#d6d6d6"/>
<rect x="518.1" y="727.1" width="10.6" height="12.5" fill="#d4d9cc"/>
<rect x="518.1" y="739.4" width="10.6" height="13.5" fill="#d6d6d6"/>
<rect x="518.1" y="752.6" width="10.6" height="32.3" fill="#d4d9cc"/>
<rect x="518.1" y="784.6" width="10.6" height="12.5" fill="#d6d6d6"/>
<rect x="518.1" y="796.8" width="10.6" height="7.9" fill="#d4d9cc"/>
<rect x="518.1" y="804.4" width="10.6" height="6.9" fill="#d6d6d6"/>
<rect x="518.1" y="811.0" width="10.6" height="55.6" fill="#d4d9cc"/>
<rect x="528.4" y="540.3" width="10.6" height="2.8" fill="#dbdace"/>
<rect x="528.4" y="542.8" width="10.6" height="14.5" fill="#dfdec8"/>
<rect x="528.4" y="556.9" width="10.6" height="20.1" fill="#dbdace"/>
<rect x="528.4" y="576.7" width="10.6" height="6.9" fill="#d7d7d5"/>
<rect x="528.4" y="583.3" width="10.6" height="81.5" fill="#d6d6d6"/>
<rect x="528.4" y="664.5" width="10.6" height="12.5" fill="#d4d9cc"/>
<rect x="528.4" y="676.7" width="10.6" height="27.7" fill="#d6d6d6"/>
<rect x="528.4" y="704.1" width="10.6" height="6.9" fill="#d4d9cc"/>
<rect x="528.4" y="710.7" width="10.6" height="38.9" fill="#d6d6d6"/>
<rect x="528.4" y="749.3" width="10.6" height="5.9" fill="#d4d9cc"/>
<rect x="528.4" y="754.9" width="10.6" height="25.7" fill="#d6d6d6"/>
<rect x="528.4" y="780.4" width="10.6" height="14.5" fill="#dbdace"/>
<rect x="528.4" y="794.5" width="10.6" height="6.9" fill="#d7d7d5"/>
<rect x="528.4" y="801.1" width="10.6" height="7.9" fill="#dfdec8"/>
<rect x="528.4" y="808.7" width="10.6" height="6.9" fill="#dbdace"/>
<rect x="528.4" y="815.3" width="10.6" height="5.9" fill="#d7d7d5"/>
<rect x="528.4" y="820.9" width="10.6" height="45.7" fill="#d6d6d6"/>
<rect x="538.7" y="540.5" width="10.6" height="3.6" fill="#d7d7d5"/>
<rect x="538.7" y="543.8" width="10.6" height="25.7" fill="#dbdace"/>
<rect x="538.7" y="569.2" width="10.6" height="14.5" fill="#d7d7d5"/>
<rect x="538.7" y="583.4" width="10.6" height="13.5" fill="#d6d6d6"/>
<rect x="538.7" y="596.6" width="10.6" height="25.7" fill="#d4d9cc"/>
<rect x="538.7" y="622.0" width="10.6" height="12.5" fill="#d6d6d6"/>
<rect x="538.7" y="634.2" width="10.6" height="39.9" fill="#d4d9cc"/>
<rect x="538.7" y="673.8" width="10.6" height="28.7" fill="#d6d6d6"/>
<rect x="538.7" y="702.2" width="10.6" height="17.1" fill="#d4d9cc"/>
<rect x="538.7" y="719.0" width="10.6" height="7.9" fill="#d6d6d6"/>
<rect x="538.7" y="726.6" width="10.6" height="21.1" fill="#d4d9cc"/>
<rect x="538.7" y="747.4" width="10.6" height="6.9" fill="#d6d6d6"/>
<rect x="538.7" y="754.0" width="10.6" height="14.5" fill="#d4d9cc"/>
<rect x="538.7" y="768.2" width="10.6" height="6.9" fill="#d6d6d6"/>
<rect x="538.7" y="774.8" width="10.6" height="7.9" fill="#d7d7d5"/>
<rect x="538.7" y="782.4" width="10.6" height="33.3" fill="#dbdace"/>
<rect x="538.7" y="815.4" width="10.6" height="6.9" fill="#d7d7d5"/>
<rect x="538.7" y="822.0" width="10.6" height="12.5" fill="#d6d6d6"/>
<rect x="538.7" y="834.2" width="10.6" height="32.4" fill="#d4d9cc"/>
<rect x="548.9" y="541.0" width="10.6" height="14.2" fill="#d7d7d5"/>
<rect x="548.9" y="554.9" width="10.6" height="12.5" fill="#dbdace"/>
<rect x="548.9" y="567.1" width="10.6" height="12.5" fill="#d7d7d5"/>
<rect x="548.9" y="579.3" width="10.6" height="20.1" fill="#d6d6d6"/>
<rect x="548.9" y="599.1" width="10.6" height="13.5" fill="#d4d9cc"/>
<rect x="548.9" y="612.3" width="10.6" height="7.9" fill="#d6d6d6"/>
<rect x="548.9" y="619.9" width="10.6" height="5.9" fill="#d4d9cc"/>
<rect x="548.9" y="625.5" width="10.6" height="6.9" fill="#d6d6d6"/>
<rect x="548.9" y="632.1" width="10.6" height="5.9" fill="#d4d9cc"/>
<rect x="548.9" y="637.7" width="10.6" height="6.9" fill="#d6d6d6"/>
<rect x="548.9" y="644.3" width="10.6" height="6.9" fill="#d4d9cc"/>
<rect x="548.9" y="650.9" width="10.6" height="13.5" fill="#d6d6d6"/>
<rect x="548.9" y="664.1" width="10.6" height="41.9" fill="#d4d9cc"/>
<rect x="548.9" y="705.7" width="10.6" height="13.5" fill="#d6d6d6"/>
<rect x="548.9" y="718.9" width="10.6" height="7.9" fill="#d4d9cc"/>
<rect x="548.9" y="726.5" width="10.6" height="7.9" fill="#d6d6d6"/>
<rect x="548.9" y="734.1" width="10.6" height="13.5" fill="#d4d9cc"/>
<rect x="548.9" y="747.3" width="10.6" height="14.5" fill="#d6d6d6"/>
<rect x="548.9" y="761.5" width="10.6" height="6.9" fill="#d4d9cc"/>
<rect x="548.9" y="768.1" width="10.6" height="79.5" fill="#d6d6d6"/>
<rect x="548.9" y="847.3" width="10.6" height="6.9" fill="#d4d9cc"/>
<rect x="548.9" y="853.9" width="10.6" height="5.9" fill="#d6d6d6"/>
<rect x="548.9" y="859.5" width="10.6" height="4.7" fill="#d4d9cc"/>
<rect x="106.4" y="545.0" width="10.4" height="4.4" fill="#3a90a4"/>
<rect x="106.4" y="549.4" width="10.4" height="4.0" fill="#52b09c"/>
<rect x="106.4" y="553.4" width="10.4" height="2.4" fill="#a8dc98"/>
<rect x="117.2" y="541.0" width="10.0" height="10.0" fill="#f8c400"/>
<rect x="117.2" y="551.0" width="10.0" height="6.4" fill="#f4d224"/>
<rect x="127.2" y="542.2" width="10.0" height="3.2" fill="#e8eab0"/>
<rect x="127.2" y="545.4" width="10.0" height="9.6" fill="#62c192"/>
<rect x="127.2" y="555.0" width="10.0" height="2.0" fill="#f0d000"/>
<rect x="137.2" y="541.0" width="10.0" height="8.4" fill="#f5c808"/>
<rect x="137.2" y="549.4" width="10.0" height="6.6" fill="#f2d830"/>
<rect x="189.2" y="541.0" width="10.0" height="8.4" fill="#f0d800"/>
<rect x="189.2" y="549.4" width="10.0" height="4.6" fill="#efe040"/>
<rect x="271.2" y="541.0" width="10.0" height="8.0" fill="#f3cc10"/>
<rect x="271.2" y="549.0" width="10.0" height="6.0" fill="#f0dc3c"/>
<rect x="323.2" y="542.2" width="6.8" height="5.2" fill="#f4c808"/>
<rect x="323.2" y="547.4" width="6.8" height="4.8" fill="#f1d62c"/>
<rect x="330.0" y="541.4" width="13.6" height="2.4" fill="#f6c000"/>
<rect x="343.6" y="541.4" width="10.0" height="7.6" fill="#f8b400"/>
<rect x="343.6" y="549.0" width="10.0" height="11.6" fill="#f6c414"/>
<rect x="343.6" y="560.6" width="10.0" height="8.4" fill="#f2d83a"/>
<rect x="354.0" y="543.0" width="9.6" height="4.0" fill="#1f8a7c"/>
<rect x="354.0" y="547.0" width="9.6" height="5.6" fill="#3aa688"/>
<rect x="363.6" y="543.0" width="10.0" height="3.6" fill="#4ab482"/>
<rect x="363.6" y="546.6" width="8.8" height="2.8" fill="#9ad88e"/>
<rect x="477.4" y="541.8" width="30.6" height="4.8" fill="#f4c000"/>
<rect x="477.4" y="546.6" width="30.6" height="4.0" fill="#f2d020"/>
<rect x="508.0" y="541.8" width="19.0" height="4.4" fill="#f6b800"/>
<rect x="508.0" y="546.2" width="19.0" height="6.8" fill="#f3cc18"/>
<rect x="527.0" y="541.4" width="32.6" height="2.4" fill="#f2d428"/>
<rect x="406.0" y="547.4" width="10.0" height="13.2" fill="#f0dc40"/>
</g>
<clipPath id="c3"><rect x="106.3" y="540.0" width="453.4" height="326.0"/></clipPath>
<g clip-path="url(#c3)" fill="none" stroke="#000" stroke-width="1" stroke-linejoin="round" shape-rendering="crispEdges">
<path d="M106.0 579.0L111.0 584.0L116.0 590.0L127.0 591.4L133.0 587.4L137.0 580.0L142.0 577.4L149.0 577.0L152.0 579.4L145.0 581.0L141.0 582.6L145.0 585.0L156.0 587.4L168.0 586.0L171.0 590.0L178.0 597.0L186.0 596.6L194.0 593.0L199.0 587.0L200.0 583.0L197.6 579.4L201.0 574.0L205.0 568.0L208.4 565.0L208.0 557.0L209.6 555.0L211.4 557.4L211.4 565.0L215.0 569.0L218.0 575.0L220.0 582.0L230.0 585.0L238.0 591.0L248.0 588.0L260.0 589.4L266.0 587.4L269.0 583.0L278.0 582.6L290.0 579.4L295.0 585.0L299.0 591.4L302.0 595.0L308.0 589.0L311.0 582.0L313.0 578.0L315.0 583.0L320.0 585.0L330.0 583.0M159.0 579.0L167.0 575.0L171.0 578.0L169.0 582.0L162.0 582.0ZM145.0 544.0L150.0 542.6L159.0 542.0L174.0 542.6L186.0 544.0L181.0 549.4L176.0 554.0L168.0 559.0L160.0 555.0L156.0 549.4L148.0 550.6ZM158.0 543.0L184.0 544.4M158.0 543.6L184.0 545.0M168.0 549.0L178.0 546.0L182.0 544.6M195.6 549.0L206.4 548.6L204.0 552.6L199.0 553.4ZM120.0 554.0L122.0 544.0L125.0 543.0L126.0 554.0L129.0 544.0L132.0 543.4L134.4 554.0L130.0 556.0L125.0 557.0ZM123.0 545.0L124.0 555.0L127.6 545.0L128.4 555.0L131.0 545.0L132.4 555.0M216.0 544.0L226.0 542.0L242.0 541.4L262.0 542.6L263.0 545.0L254.0 546.0L230.0 546.0L222.0 547.4L220.0 550.0L217.0 548.0ZM276.0 543.0L281.0 546.0L280.0 551.0L285.0 554.0L293.0 553.4L298.0 550.0L302.0 546.0L310.0 544.0M330.0 543.4L316.0 543.0L307.0 544.6L314.0 547.4L330.0 549.0M310.0 545.0L330.0 546.0M312.0 545.8L330.0 547.4M269.0 574.0L273.0 574.0L271.0 576.6ZM106.0 620.0L111.0 624.0L116.0 628.0L122.0 624.0L127.0 622.0L132.0 628.0L140.0 637.0L148.0 644.0L158.0 646.6L168.0 643.0L174.0 647.0L180.0 654.0L184.4 659.0L182.4 666.0L177.6 669.4L179.6 677.0L185.0 684.0L191.0 689.0L194.0 695.0L195.0 700.0M145.0 665.0L148.0 659.4L154.4 665.4L150.0 667.0ZM239.0 666.0L241.6 665.4L242.4 669.0L241.0 675.0L238.4 675.0ZM260.4 673.0L265.0 667.0L271.0 664.0L272.4 669.0L271.0 672.6L264.0 673.4ZM330.0 668.0L327.6 671.0L328.4 679.0L330.0 685.0M318.0 699.4L312.0 697.0L320.0 694.0L330.0 693.0M107.6 558.0L110.0 554.0L116.0 553.0M111.6 546.0L112.4 553.4M113.6 546.0L114.0 553.4M229.0 700.0L230.0 698.6M330.0 581.4L338.0 583.0L346.0 587.4L354.0 597.0L365.0 594.0L373.0 588.6L382.0 587.4L390.0 587.4L398.0 585.0L404.4 582.6L409.0 587.4L416.0 590.0L424.0 589.0L426.4 585.0L424.0 578.0L425.6 574.0L422.4 567.0L419.6 559.0L418.0 547.0L418.0 544.0M381.0 582.6L386.0 581.0L389.6 584.0L387.0 587.4L382.4 587.0ZM341.0 578.0L342.4 576.6L344.0 578.0L342.4 579.4ZM402.6 577.4L404.4 575.6L406.2 577.4L404.4 579.4ZM372.4 580.0L375.0 577.0L378.0 580.2ZM347.6 544.0L354.0 543.0L390.0 543.0L380.0 546.6L372.0 550.0L362.0 553.4L354.0 556.0L349.6 552.0ZM351.0 544.6L374.0 544.0L370.0 548.6L355.0 553.4L352.0 551.0ZM349.2 544.6L350.8 552.6L354.4 555.0M390.0 543.4L402.0 546.0L420.0 547.0L438.0 546.6L450.0 544.6L456.0 548.0L466.0 544.6L472.0 542.6M400.0 546.4L432.0 547.2M400.0 547.0L432.0 547.8M438.0 546.6L442.0 554.0L446.0 563.0L452.0 570.0L456.0 572.6L466.0 568.0L470.0 570.6L478.0 572.0L482.0 565.0L488.0 558.0L497.0 555.0L501.0 557.4L502.0 564.0L508.0 567.0L516.0 566.0L522.0 561.0L525.0 553.0L528.0 544.6L538.0 543.4L545.0 545.0L548.0 551.0L552.0 555.4L559.6 554.0M424.0 548.6L428.0 548.0L427.0 553.0ZM465.6 565.4L467.2 567.0L466.0 568.6M539.6 582.6L537.0 585.0L531.6 588.6L527.0 585.0L532.0 583.0L537.0 585.0M363.0 647.0L375.0 640.6L379.0 645.0L375.0 649.0L374.0 653.0L372.0 649.0ZM330.0 667.0L334.0 665.4L338.4 670.0L340.4 680.0L337.0 686.0L332.0 689.0L330.0 688.0M330.0 689.0L333.0 693.0L334.0 700.0M413.6 684.6L416.4 681.6L419.4 684.6L416.4 687.6ZM463.6 686.0L466.0 680.0L469.0 679.4L472.4 686.0L470.0 692.0L466.4 692.0ZM421.0 700.0L425.0 697.4L428.0 700.0M195.0 700.0L199.0 705.0L205.0 710.0L206.4 715.0L202.0 718.0L195.0 720.0L193.0 726.0L196.0 733.0L194.0 738.0L188.0 740.0L182.0 738.0L181.0 733.0L185.0 726.0L186.0 717.0L183.0 710.0L179.0 706.4L169.0 708.0L171.0 720.0L173.0 730.0L172.0 736.0L166.0 739.0L158.0 744.0L152.0 741.0L147.0 737.0L136.0 740.0L126.0 741.0L120.0 734.0L116.6 728.4L114.0 737.0L115.6 750.0L114.0 760.0L112.0 765.0L118.0 770.0L127.0 776.4L136.0 776.0L146.0 781.0L152.0 789.0L159.6 796.4L156.0 800.0L148.0 803.0L142.4 799.6L137.6 796.4L130.0 805.0L132.4 814.0L134.4 821.0L139.6 824.0L147.0 822.4L149.6 826.0L147.0 830.0L140.0 834.4L138.0 840.0L137.0 845.0L128.0 847.6L117.0 846.4M125.6 753.6L130.0 747.0L137.0 745.0L142.4 750.0L144.4 757.0L138.0 759.6L130.0 758.0ZM213.6 711.0L220.0 704.4L232.0 700.0L233.6 704.0L233.0 709.6L222.0 713.6ZM269.4 709.0L271.0 707.2L272.6 709.0L271.0 711.2ZM237.0 735.0L239.0 728.4L242.4 729.0L244.4 735.0L242.4 738.0L239.0 737.0ZM216.4 749.0L221.0 746.4L230.0 747.0L224.4 751.6L219.6 753.0ZM208.0 770.0L211.0 768.4L215.6 772.4L213.6 776.4L209.0 776.0ZM217.0 777.0L222.0 775.0L230.0 773.6L231.6 777.0L226.0 779.0L220.0 781.6L217.0 779.6ZM323.0 732.0L324.4 739.0L323.0 746.4L321.0 739.0ZM330.0 750.0L326.0 753.0L330.0 756.0M330.0 766.0L322.0 765.6L318.4 770.0L324.0 773.0L330.0 774.4M324.0 700.0L329.0 704.0L330.0 709.6M166.4 853.0L168.4 849.0L170.4 853.0L168.4 857.6ZM338.4 720.0L344.0 716.0L353.6 709.0L360.0 719.0L354.0 730.0L346.0 727.0L340.0 724.0ZM337.0 790.0L346.0 788.0L355.0 787.6L357.0 792.0L355.0 797.0L348.0 795.6L342.0 792.4ZM383.0 742.0L386.0 740.0L388.4 746.0L389.0 757.0L395.0 766.0L396.0 770.4L391.0 772.0L385.0 769.0L381.0 762.0L379.6 757.0L381.6 750.0ZM371.6 781.0L377.0 778.4L385.0 780.0L390.0 786.0L389.6 792.0L384.0 795.6L380.0 796.0L383.6 800.0L386.4 809.0L387.0 818.0L385.0 823.0L380.0 819.6L375.0 813.0L371.0 806.0L371.0 799.0L375.0 795.0L376.4 792.4L372.0 788.0ZM383.6 726.0L385.6 723.6L388.0 726.0L385.6 728.4ZM414.4 726.0L415.6 723.6L416.8 726.0ZM414.0 782.4L415.6 781.0L416.8 782.8L415.6 784.4ZM441.6 730.0L446.4 719.0L450.0 722.0L453.6 728.0L450.0 736.0L446.4 739.0L443.0 735.0ZM463.6 725.0L470.0 722.4L474.0 716.0L477.6 714.0L479.6 720.0L478.0 726.0L472.0 728.4L467.0 727.6ZM463.6 758.0L466.0 753.6L471.0 753.6L472.0 758.0L470.0 761.6L466.4 762.4ZM431.6 801.0L436.0 795.6L443.0 791.0L450.0 791.0L451.6 795.6L448.0 802.0L442.0 808.0L437.0 810.4L434.0 806.0ZM462.0 792.4L467.0 791.0L471.0 793.0L468.0 796.4L464.4 795.6ZM445.0 813.6L447.0 815.6L445.6 817.6L444.0 815.6ZM527.6 788.0L534.0 785.0L539.0 779.6L542.0 784.0L543.6 789.0L538.0 791.6L532.0 790.4ZM528.4 807.0L534.0 801.0L539.0 797.6L543.0 801.0L546.0 806.0L543.0 814.0L539.0 818.0L534.0 815.0L530.0 811.0ZM330.0 700.0L335.0 700.0L336.0 712.0L333.0 714.0L330.0 712.4M330.0 750.0L334.0 750.0L335.6 753.6L333.0 757.0L330.0 757.0M330.0 769.0L333.6 774.0L335.6 784.0L333.6 788.0L330.0 785.0M420.4 700.0L424.0 707.0L426.0 708.4L429.6 702.0L429.0 700.0M514.0 860.0L518.0 862.4L525.0 862.4L525.0 865.0"/>
<path d="M106.0 586.0L110.0 595.0L116.0 604.0L126.0 605.0L138.0 602.0L148.0 601.0L158.0 604.0L164.0 611.0L170.0 614.6L180.0 613.0L190.0 609.0L199.0 605.4L206.0 608.0L218.0 610.0L230.0 610.6L239.0 612.0L250.0 606.0L262.0 605.0L273.0 604.0L282.0 605.4L290.0 610.0L296.0 615.0L302.0 616.6L309.0 613.0L313.0 606.0L320.0 599.0L330.0 598.0M209.6 570.0L206.0 578.0L205.6 591.0L209.6 599.0L213.0 593.0L214.0 581.0L212.0 573.0ZM150.0 546.0L156.0 548.0M222.0 543.4L242.0 543.0M288.0 545.0L294.0 548.0M330.0 599.4L338.0 598.0L343.0 597.0L345.0 605.0L352.0 614.0L360.0 613.4L370.0 608.6L380.0 607.0L390.0 608.0L398.0 611.0L406.0 610.0L412.0 615.0L418.0 624.0L426.0 631.0L432.0 635.0L437.0 637.4L442.0 631.0L445.0 623.0L445.6 615.0L443.0 606.0L448.0 603.0L451.0 607.0L450.0 615.0L453.0 623.0L459.6 627.4L462.0 619.0L468.0 609.0L472.0 598.0L480.0 591.0L488.0 582.6L497.0 577.0L504.0 580.0L511.0 583.0L518.0 582.6L518.0 578.0M518.0 585.0L517.0 593.0L511.0 595.0L506.0 597.0L500.0 595.0L496.0 599.0L495.0 607.0L490.0 612.0L485.0 619.0L484.0 627.0L488.0 633.0L496.0 633.0L501.6 629.0L502.4 619.0L500.0 611.0L497.0 608.0M511.0 595.0L516.0 601.0L518.0 611.0L517.6 621.0L521.0 630.0L528.0 637.0L538.0 644.0L548.0 650.6L559.6 647.0M549.0 580.6L554.0 578.6L559.6 579.4M534.0 547.0L537.0 551.0L540.0 555.0M538.0 547.0L540.0 551.0M537.0 700.0L539.0 683.0L540.0 679.0M547.0 673.0L559.6 674.0M538.0 699.0L541.0 685.0M419.0 547.4L420.0 555.0L426.0 558.6L433.0 556.0L435.6 551.0M404.0 693.0L405.0 697.0M154.0 768.0L159.0 766.0L162.0 772.0L170.0 773.0L171.6 767.0L168.0 761.0L165.6 756.0L170.0 752.4L180.0 750.0L189.0 750.0L192.0 758.0L199.0 764.0L200.0 770.0L192.0 774.0L184.0 776.0L178.0 778.4L186.0 782.0L198.0 784.0L206.0 787.0L206.0 796.0L210.0 800.0L220.0 801.0L222.0 806.0L218.0 809.0M154.0 768.0L158.0 776.0L162.0 788.0L168.0 798.0L178.0 799.0L188.0 798.4L193.0 804.0L198.0 810.0L204.4 813.0L202.0 820.0L200.0 828.0L203.0 838.0L206.0 846.0L212.0 849.6L220.0 849.0L221.0 844.0L218.0 838.0L222.0 836.0L234.0 833.0L242.0 827.0L245.0 820.0L242.0 814.0L238.0 808.0L237.6 800.0L242.0 796.0L250.0 794.0L256.0 791.0L264.0 787.6L274.0 785.6L286.0 787.0L298.0 787.6L308.0 785.0L315.0 784.0M250.0 794.0L258.0 798.0L270.0 797.0L278.0 801.0L280.0 805.0L274.0 812.0L268.0 820.0L272.0 826.0L275.0 832.0L268.0 837.0L258.0 840.0L250.0 845.0L248.0 854.0L260.0 855.0L274.0 856.0L282.0 858.0L287.0 852.0L285.0 840.0L288.0 830.0L292.0 822.0L288.0 814.0L287.0 808.0L296.0 806.0L304.0 807.0L310.0 812.0L311.0 824.0L310.0 836.0L306.0 843.0L300.0 846.0L296.0 838.0L294.0 828.0L292.0 822.0M308.0 785.0L305.0 792.0L298.0 796.0L293.0 802.0L294.0 812.0L292.0 822.0M248.0 793.0L244.0 784.0L240.0 777.0L232.0 782.0L226.0 790.0L223.0 796.0M163.0 812.0L167.0 809.0L171.0 814.0L173.0 820.0L169.0 830.0L165.0 824.0L162.4 818.0ZM300.0 727.0L304.0 734.0L312.0 739.0L315.0 748.0L313.0 760.0L310.0 764.0L305.0 756.0L301.0 746.0L299.0 738.0ZM265.0 771.0L269.0 762.0L273.0 760.0L280.0 766.0L290.0 770.0L296.0 770.0L282.0 773.0L270.0 774.4ZM238.0 758.0L242.0 757.0L245.0 763.0L241.0 769.0L237.0 764.0ZM271.0 735.0L272.4 741.0L271.0 748.0M318.0 816.0L322.0 813.0L325.0 818.0M308.0 858.0L316.0 859.0M215.0 852.0L220.0 849.0L222.0 854.0L216.0 854.4ZM313.0 797.0L314.0 798.0M405.0 729.6L410.0 736.0L420.0 738.0L430.0 737.6L439.0 738.4L441.0 748.0L442.0 760.0L441.0 770.0L436.0 776.0L434.0 780.0L438.0 788.0L430.0 790.0L422.0 791.0L419.6 796.0L426.0 800.0L428.0 812.0L422.0 820.0L415.0 828.0L409.0 836.0L408.0 848.0L402.0 849.0L399.0 843.0L403.0 838.0L398.0 832.0L394.4 822.0L395.0 815.0L401.0 814.0L406.0 815.0L407.0 820.0L401.0 821.0L398.0 818.0M405.0 729.6L402.0 740.0L400.0 756.0L400.4 768.0L398.0 778.0L405.0 785.0L408.0 788.0L402.4 794.0L401.0 804.0L402.0 812.0M404.0 701.0L405.6 706.0L405.0 712.0L403.6 707.0ZM373.0 725.0L374.8 728.0L374.0 733.0L372.4 729.0ZM420.0 758.0L425.0 753.6L428.4 759.0L425.6 764.0L421.0 762.0ZM413.6 768.0L417.0 767.0M455.0 766.0L458.0 768.0L457.0 780.0L454.4 774.0ZM456.4 800.0L460.0 801.0L461.0 806.0L458.0 810.4L454.4 807.0L454.0 803.0ZM458.0 817.0L460.0 824.0L461.0 838.0L458.0 842.4L450.0 842.0L444.0 839.0L450.0 836.0L453.0 828.0L454.4 820.0M424.0 849.0L430.0 845.0L438.0 843.0L446.0 846.0L451.6 850.0L450.0 856.0L442.0 856.4L432.0 855.0L426.0 852.4ZM488.0 719.0L496.0 721.0L502.0 726.0L508.0 734.0L511.0 743.0L504.0 748.0L496.0 752.4L490.0 750.0L492.4 740.0L493.0 730.0L490.0 724.0M490.0 750.0L484.0 758.0L483.0 766.0L488.0 774.0L493.0 778.0L498.0 783.0M493.0 778.0L485.0 784.0L486.0 790.0L492.0 796.0L495.6 802.0L495.0 812.0L493.0 824.0L494.0 836.0L497.0 842.0L504.0 840.0L508.0 832.0L510.0 824.0L512.0 820.0L518.0 824.0L522.0 830.0L523.6 840.0L521.0 848.0L516.0 854.0L517.0 860.0M538.0 702.0L530.0 708.0L522.0 714.0L515.0 719.0L522.0 730.0L529.0 737.0L522.0 746.0L517.0 756.0L509.0 765.0L502.0 760.0L496.0 752.4M504.0 809.0L511.0 808.0L517.0 809.6L518.0 815.0L515.0 819.0L510.0 820.0L506.0 816.0ZM513.0 799.0L518.0 794.0L523.0 799.0L519.0 804.0ZM515.0 777.0L522.0 773.0L530.0 772.4L527.0 778.0L519.0 782.4ZM484.0 848.0L490.0 846.0L495.0 849.0L490.0 852.0ZM538.0 702.0L545.0 708.0L550.0 715.0M559.6 726.0L552.0 730.0L549.0 737.0L556.0 748.0L552.0 757.0L546.4 765.0L550.0 770.0L559.6 774.4M552.0 817.0L547.0 820.0L545.6 836.0L546.0 852.0L547.0 865.0M360.0 800.0L363.0 795.0L365.6 800.0L364.0 808.0L361.0 809.0ZM363.0 781.0L363.6 784.0" stroke-dasharray="1.35 2.65" stroke-width="1.35"/>
</g>
<g shape-rendering="crispEdges">
<rect x="622.8" y="544.5" width="10.6" height="10.5" fill="#d7d7d5"/>
<rect x="622.8" y="554.7" width="10.6" height="5.9" fill="#d6d6d6"/>
<rect x="622.8" y="560.3" width="10.6" height="25.7" fill="#d7d7d5"/>
<rect x="622.8" y="585.7" width="10.6" height="5.9" fill="#d6d6d6"/>
<rect x="622.8" y="591.3" width="10.6" height="20.1" fill="#d7d7d5"/>
<rect x="622.8" y="611.1" width="10.6" height="12.5" fill="#d6d6d6"/>
<rect x="622.8" y="623.3" width="10.6" height="70.9" fill="#d4d9cc"/>
<rect x="622.8" y="693.9" width="10.6" height="14.5" fill="#d3dec2"/>
<rect x="622.8" y="708.1" width="10.6" height="6.9" fill="#d4d9cc"/>
<rect x="622.8" y="714.7" width="10.6" height="6.9" fill="#d3dec2"/>
<rect x="622.8" y="721.3" width="10.6" height="26.7" fill="#d4d9cc"/>
<rect x="622.8" y="747.7" width="10.6" height="19.1" fill="#d3dec2"/>
<rect x="622.8" y="766.5" width="10.6" height="6.9" fill="#d4d9cc"/>
<rect x="622.8" y="773.1" width="10.6" height="6.9" fill="#d3dec2"/>
<rect x="622.8" y="779.7" width="10.6" height="7.9" fill="#d4d9cc"/>
<rect x="622.8" y="787.3" width="10.6" height="14.5" fill="#d3dec2"/>
<rect x="622.8" y="801.5" width="10.6" height="7.9" fill="#d4d9cc"/>
<rect x="622.8" y="809.1" width="10.6" height="7.9" fill="#d3dec2"/>
<rect x="622.8" y="816.7" width="10.6" height="6.9" fill="#d2e4b8"/>
<rect x="622.8" y="823.3" width="10.6" height="13.5" fill="#d3dec2"/>
<rect x="622.8" y="836.5" width="10.6" height="5.4" fill="#d4d9cc"/>
<rect x="633.1" y="542.0" width="10.6" height="25.1" fill="#d6d6d6"/>
<rect x="633.1" y="566.8" width="10.6" height="6.9" fill="#d7d7d5"/>
<rect x="633.1" y="573.4" width="10.6" height="5.9" fill="#dbdace"/>
<rect x="633.1" y="579.0" width="10.6" height="7.9" fill="#e2e2b9"/>
<rect x="633.1" y="586.6" width="10.6" height="6.9" fill="#d7d7d5"/>
<rect x="633.1" y="593.2" width="10.6" height="33.3" fill="#d6d6d6"/>
<rect x="633.1" y="626.2" width="10.6" height="151.1" fill="#d4d9cc"/>
<rect x="633.1" y="777.0" width="10.6" height="82.0" fill="#d6d6d6"/>
<rect x="643.3" y="540.3" width="10.6" height="15.9" fill="#d6d6d6"/>
<rect x="643.3" y="555.9" width="10.6" height="22.1" fill="#d7d7d5"/>
<rect x="643.3" y="577.7" width="10.6" height="5.9" fill="#dbdace"/>
<rect x="643.3" y="583.3" width="10.6" height="6.9" fill="#d7d7d5"/>
<rect x="643.3" y="589.9" width="10.6" height="6.9" fill="#d6d6d6"/>
<rect x="643.3" y="596.5" width="10.6" height="6.9" fill="#d7d7d5"/>
<rect x="643.3" y="603.1" width="10.6" height="37.9" fill="#d6d6d6"/>
<rect x="643.3" y="640.7" width="10.6" height="51.1" fill="#d4d9cc"/>
<rect x="643.3" y="691.5" width="10.6" height="25.7" fill="#d6d6d6"/>
<rect x="643.3" y="716.9" width="10.6" height="56.1" fill="#d4d9cc"/>
<rect x="643.3" y="772.7" width="10.6" height="25.7" fill="#d6d6d6"/>
<rect x="643.3" y="798.1" width="10.6" height="21.1" fill="#d7d7d5"/>
<rect x="643.3" y="818.9" width="10.6" height="6.9" fill="#d6d6d6"/>
<rect x="643.3" y="825.5" width="10.6" height="6.9" fill="#d7d7d5"/>
<rect x="643.3" y="832.1" width="10.6" height="7.9" fill="#d6d6d6"/>
<rect x="643.3" y="839.7" width="10.6" height="22.2" fill="#d7d7d5"/>
<rect x="653.6" y="544.0" width="10.6" height="4.8" fill="#cde8ac"/>
<rect x="653.6" y="548.5" width="10.6" height="6.9" fill="#d3dec2"/>
<rect x="653.6" y="555.1" width="10.6" height="30.3" fill="#d6d6d6"/>
<rect x="653.6" y="585.1" width="10.6" height="5.9" fill="#d7d7d5"/>
<rect x="653.6" y="590.7" width="10.6" height="46.5" fill="#d6d6d6"/>
<rect x="653.6" y="636.9" width="10.6" height="35.3" fill="#d4d9cc"/>
<rect x="653.6" y="671.9" width="10.6" height="6.9" fill="#d6d6d6"/>
<rect x="653.6" y="678.5" width="10.6" height="13.5" fill="#d4d9cc"/>
<rect x="653.6" y="691.7" width="10.6" height="13.5" fill="#d6d6d6"/>
<rect x="653.6" y="704.9" width="10.6" height="77.9" fill="#d4d9cc"/>
<rect x="653.6" y="782.4" width="10.6" height="81.8" fill="#d6d6d6"/>
<rect x="663.9" y="540.3" width="10.6" height="10.7" fill="#a3dc90"/>
<rect x="663.9" y="550.7" width="10.6" height="5.9" fill="#bce89a"/>
<rect x="663.9" y="556.3" width="10.6" height="6.9" fill="#d3dec2"/>
<rect x="663.9" y="562.9" width="10.6" height="72.9" fill="#d6d6d6"/>
<rect x="663.9" y="635.5" width="10.6" height="6.9" fill="#d4d9cc"/>
<rect x="663.9" y="642.1" width="10.6" height="13.5" fill="#d6d6d6"/>
<rect x="663.9" y="655.3" width="10.6" height="6.9" fill="#d4d9cc"/>
<rect x="663.9" y="661.9" width="10.6" height="20.1" fill="#d6d6d6"/>
<rect x="663.9" y="681.7" width="10.6" height="6.9" fill="#d4d9cc"/>
<rect x="663.9" y="688.3" width="10.6" height="46.5" fill="#d6d6d6"/>
<rect x="663.9" y="734.5" width="10.6" height="25.7" fill="#d4d9cc"/>
<rect x="663.9" y="760.0" width="10.6" height="12.5" fill="#d6d6d6"/>
<rect x="663.9" y="772.2" width="10.6" height="12.5" fill="#dbdace"/>
<rect x="663.9" y="784.4" width="10.6" height="7.9" fill="#d7d7d5"/>
<rect x="663.9" y="792.0" width="10.6" height="6.9" fill="#d6d6d6"/>
<rect x="663.9" y="798.6" width="10.6" height="5.9" fill="#d7d7d5"/>
<rect x="663.9" y="804.2" width="10.6" height="12.5" fill="#d6d6d6"/>
<rect x="663.9" y="816.4" width="10.6" height="6.9" fill="#d7d7d5"/>
<rect x="663.9" y="823.0" width="10.6" height="24.7" fill="#d6d6d6"/>
<rect x="663.9" y="847.4" width="10.6" height="5.9" fill="#d7d7d5"/>
<rect x="663.9" y="853.0" width="10.6" height="11.2" fill="#d6d6d6"/>
<rect x="674.2" y="542.0" width="10.6" height="7.3" fill="#a3dc90"/>
<rect x="674.2" y="549.0" width="10.6" height="6.9" fill="#bce89a"/>
<rect x="674.2" y="555.6" width="10.6" height="6.9" fill="#d3dec2"/>
<rect x="674.2" y="562.2" width="10.6" height="205.6" fill="#d6d6d6"/>
<rect x="674.2" y="767.5" width="10.6" height="6.9" fill="#dbdace"/>
<rect x="674.2" y="774.1" width="10.6" height="14.5" fill="#e2e2b9"/>
<rect x="674.2" y="788.3" width="10.6" height="7.9" fill="#dfdec8"/>
<rect x="674.2" y="795.9" width="10.6" height="5.9" fill="#dbdace"/>
<rect x="674.2" y="801.5" width="10.6" height="52.1" fill="#d6d6d6"/>
<rect x="674.2" y="853.3" width="10.6" height="6.9" fill="#d7d7d5"/>
<rect x="674.2" y="859.9" width="10.6" height="4.3" fill="#d6d6d6"/>
<rect x="684.5" y="544.0" width="10.6" height="4.6" fill="#b0e494"/>
<rect x="684.5" y="548.3" width="10.6" height="6.9" fill="#c8eca0"/>
<rect x="684.5" y="554.9" width="10.6" height="6.9" fill="#d4d9cc"/>
<rect x="684.5" y="561.5" width="10.6" height="12.5" fill="#d6d6d6"/>
<rect x="684.5" y="573.7" width="10.6" height="6.9" fill="#d7d7d5"/>
<rect x="684.5" y="580.3" width="10.6" height="6.9" fill="#dbdace"/>
<rect x="684.5" y="586.9" width="10.6" height="6.9" fill="#d7d7d5"/>
<rect x="684.5" y="593.5" width="10.6" height="101.9" fill="#d6d6d6"/>
<rect x="684.5" y="695.1" width="10.6" height="6.9" fill="#d7d7d5"/>
<rect x="684.5" y="701.7" width="10.6" height="40.9" fill="#d6d6d6"/>
<rect x="684.5" y="742.3" width="10.6" height="6.9" fill="#d7d7d5"/>
<rect x="684.5" y="748.9" width="10.6" height="6.9" fill="#dbdace"/>
<rect x="684.5" y="755.5" width="10.6" height="7.9" fill="#dfdec8"/>
<rect x="684.5" y="763.1" width="10.6" height="11.5" fill="#dbdace"/>
<rect x="684.5" y="774.3" width="10.6" height="6.9" fill="#dfdec8"/>
<rect x="684.5" y="780.9" width="10.6" height="12.5" fill="#e2e2b9"/>
<rect x="684.5" y="793.1" width="10.6" height="6.9" fill="#dfdec8"/>
<rect x="684.5" y="799.7" width="10.6" height="7.9" fill="#d7d7d5"/>
<rect x="684.5" y="807.3" width="10.6" height="56.9" fill="#d6d6d6"/>
<rect x="694.8" y="541.0" width="10.6" height="3.4" fill="#d2e4b8"/>
<rect x="694.8" y="544.1" width="10.6" height="6.9" fill="#d4d9cc"/>
<rect x="694.8" y="550.7" width="10.6" height="14.5" fill="#d6d6d6"/>
<rect x="694.8" y="564.8" width="10.6" height="6.9" fill="#d7d7d5"/>
<rect x="694.8" y="571.4" width="10.6" height="6.9" fill="#dbdace"/>
<rect x="694.8" y="578.0" width="10.6" height="6.9" fill="#e5e5aa"/>
<rect x="694.8" y="584.6" width="10.6" height="6.9" fill="#dfdec8"/>
<rect x="694.8" y="591.2" width="10.6" height="74.6" fill="#d7d7d5"/>
<rect x="694.8" y="665.5" width="10.6" height="6.9" fill="#d6d6d6"/>
<rect x="694.8" y="672.1" width="10.6" height="35.3" fill="#d7d7d5"/>
<rect x="694.8" y="707.1" width="10.6" height="6.9" fill="#d6d6d6"/>
<rect x="694.8" y="713.7" width="10.6" height="34.3" fill="#d7d7d5"/>
<rect x="694.8" y="747.7" width="10.6" height="5.9" fill="#dbdace"/>
<rect x="694.8" y="753.3" width="10.6" height="18.1" fill="#e2e2b9"/>
<rect x="694.8" y="771.1" width="10.6" height="7.9" fill="#dfdec8"/>
<rect x="694.8" y="778.7" width="10.6" height="5.9" fill="#e2e2b9"/>
<rect x="694.8" y="784.3" width="10.6" height="7.9" fill="#e5e5aa"/>
<rect x="694.8" y="791.9" width="10.6" height="6.9" fill="#e2e2b9"/>
<rect x="694.8" y="798.5" width="10.6" height="68.1" fill="#d7d7d5"/>
<rect x="705.0" y="540.3" width="10.6" height="7.8" fill="#d3dec2"/>
<rect x="705.0" y="547.8" width="10.6" height="26.7" fill="#d6d6d6"/>
<rect x="705.0" y="574.2" width="10.6" height="13.5" fill="#d7d7d5"/>
<rect x="705.0" y="587.4" width="10.6" height="168.3" fill="#d6d6d6"/>
<rect x="705.0" y="755.4" width="10.6" height="23.7" fill="#d7d7d5"/>
<rect x="705.0" y="778.8" width="10.6" height="7.9" fill="#dbdace"/>
<rect x="705.0" y="786.4" width="10.6" height="12.5" fill="#dfdec8"/>
<rect x="705.0" y="798.6" width="10.6" height="14.5" fill="#d7d7d5"/>
<rect x="705.0" y="812.8" width="10.6" height="5.9" fill="#d6d6d6"/>
<rect x="705.0" y="818.4" width="10.6" height="6.9" fill="#d7d7d5"/>
<rect x="705.0" y="825.0" width="10.6" height="41.6" fill="#d6d6d6"/>
<rect x="715.3" y="540.3" width="10.6" height="3.3" fill="#d2e4b8"/>
<rect x="715.3" y="543.3" width="10.6" height="6.9" fill="#d3dec2"/>
<rect x="715.3" y="549.9" width="10.6" height="14.5" fill="#d6d6d6"/>
<rect x="715.3" y="564.1" width="10.6" height="6.9" fill="#d4d9cc"/>
<rect x="715.3" y="570.7" width="10.6" height="6.9" fill="#cde8ac"/>
<rect x="715.3" y="577.3" width="10.6" height="6.9" fill="#d2e4b8"/>
<rect x="715.3" y="583.9" width="10.6" height="5.9" fill="#d3dec2"/>
<rect x="715.3" y="589.5" width="10.6" height="154.7" fill="#d6d6d6"/>
<rect x="715.3" y="744.0" width="10.6" height="80.5" fill="#d7d7d5"/>
<rect x="715.3" y="824.2" width="10.6" height="42.4" fill="#d6d6d6"/>
<rect x="725.6" y="542.0" width="10.6" height="7.2" fill="#d3dec2"/>
<rect x="725.6" y="548.9" width="10.6" height="21.1" fill="#d6d6d6"/>
<rect x="725.6" y="569.7" width="10.6" height="6.9" fill="#d3dec2"/>
<rect x="725.6" y="576.3" width="10.6" height="6.9" fill="#d2e4b8"/>
<rect x="725.6" y="582.9" width="10.6" height="5.9" fill="#d4d9cc"/>
<rect x="725.6" y="588.5" width="10.6" height="13.5" fill="#d6d6d6"/>
<rect x="725.6" y="601.7" width="10.6" height="6.9" fill="#d7d7d5"/>
<rect x="725.6" y="608.3" width="10.6" height="6.9" fill="#d6d6d6"/>
<rect x="725.6" y="614.9" width="10.6" height="5.9" fill="#d7d7d5"/>
<rect x="725.6" y="620.5" width="10.6" height="13.5" fill="#d6d6d6"/>
<rect x="725.6" y="633.7" width="10.6" height="6.9" fill="#d7d7d5"/>
<rect x="725.6" y="640.3" width="10.6" height="6.9" fill="#d6d6d6"/>
<rect x="725.6" y="646.9" width="10.6" height="5.9" fill="#d7d7d5"/>
<rect x="725.6" y="652.5" width="10.6" height="7.9" fill="#d6d6d6"/>
<rect x="725.6" y="660.1" width="10.6" height="7.9" fill="#d7d7d5"/>
<rect x="725.6" y="667.7" width="10.6" height="38.9" fill="#d6d6d6"/>
<rect x="725.6" y="706.3" width="10.6" height="7.9" fill="#d7d7d5"/>
<rect x="725.6" y="713.9" width="10.6" height="14.5" fill="#d6d6d6"/>
<rect x="725.6" y="728.1" width="10.6" height="26.7" fill="#d7d7d5"/>
<rect x="725.6" y="754.5" width="10.6" height="58.7" fill="#dbdace"/>
<rect x="725.6" y="812.9" width="10.6" height="26.7" fill="#d7d7d5"/>
<rect x="725.6" y="839.3" width="10.6" height="6.9" fill="#d6d6d6"/>
<rect x="725.6" y="845.9" width="10.6" height="11.5" fill="#d7d7d5"/>
<rect x="725.6" y="857.1" width="10.6" height="7.1" fill="#d6d6d6"/>
<rect x="735.9" y="544.0" width="10.6" height="3.2" fill="#d2e4b8"/>
<rect x="735.9" y="546.9" width="10.6" height="6.9" fill="#d4d9cc"/>
<rect x="735.9" y="553.5" width="10.6" height="14.5" fill="#d6d6d6"/>
<rect x="735.9" y="567.7" width="10.6" height="5.9" fill="#d7d7d5"/>
<rect x="735.9" y="573.3" width="10.6" height="14.5" fill="#d6d6d6"/>
<rect x="735.9" y="587.5" width="10.6" height="18.1" fill="#d7d7d5"/>
<rect x="735.9" y="605.3" width="10.6" height="6.9" fill="#d6d6d6"/>
<rect x="735.9" y="611.9" width="10.6" height="21.1" fill="#d7d7d5"/>
<rect x="735.9" y="632.7" width="10.6" height="32.3" fill="#d6d6d6"/>
<rect x="735.9" y="664.7" width="10.6" height="13.5" fill="#d7d7d5"/>
<rect x="735.9" y="677.9" width="10.6" height="13.5" fill="#d6d6d6"/>
<rect x="735.9" y="691.1" width="10.6" height="12.5" fill="#d7d7d5"/>
<rect x="735.9" y="703.3" width="10.6" height="13.5" fill="#d6d6d6"/>
<rect x="735.9" y="716.5" width="10.6" height="35.3" fill="#d7d7d5"/>
<rect x="735.9" y="751.5" width="10.6" height="70.3" fill="#dbdace"/>
<rect x="735.9" y="821.5" width="10.6" height="32.3" fill="#d7d7d5"/>
<rect x="735.9" y="853.5" width="10.6" height="10.7" fill="#d6d6d6"/>
<rect x="746.2" y="543.0" width="10.6" height="5.2" fill="#d2e4b8"/>
<rect x="746.2" y="547.9" width="10.6" height="15.5" fill="#d6d6d6"/>
<rect x="746.2" y="563.1" width="10.6" height="7.9" fill="#d7d7d5"/>
<rect x="746.2" y="570.7" width="10.6" height="134.3" fill="#d6d6d6"/>
<rect x="746.2" y="704.7" width="10.6" height="7.9" fill="#d7d7d5"/>
<rect x="746.2" y="712.3" width="10.6" height="23.7" fill="#d6d6d6"/>
<rect x="746.2" y="735.7" width="10.6" height="27.7" fill="#d7d7d5"/>
<rect x="746.2" y="763.1" width="10.6" height="6.9" fill="#dbdace"/>
<rect x="746.2" y="769.7" width="10.6" height="6.9" fill="#d7d7d5"/>
<rect x="746.2" y="776.3" width="10.6" height="38.9" fill="#dbdace"/>
<rect x="746.2" y="814.9" width="10.6" height="20.1" fill="#d7d7d5"/>
<rect x="746.2" y="834.7" width="10.6" height="29.5" fill="#d6d6d6"/>
<rect x="756.5" y="540.5" width="10.6" height="8.7" fill="#d3dec2"/>
<rect x="756.5" y="548.9" width="10.6" height="48.5" fill="#d6d6d6"/>
<rect x="756.5" y="597.1" width="10.6" height="6.9" fill="#d7d7d5"/>
<rect x="756.5" y="603.7" width="10.6" height="117.1" fill="#d6d6d6"/>
<rect x="756.5" y="720.5" width="10.6" height="6.9" fill="#d7d7d5"/>
<rect x="756.5" y="727.1" width="10.6" height="7.9" fill="#d6d6d6"/>
<rect x="756.5" y="734.7" width="10.6" height="28.7" fill="#d7d7d5"/>
<rect x="756.5" y="763.1" width="10.6" height="6.9" fill="#dbdace"/>
<rect x="756.5" y="769.7" width="10.6" height="7.9" fill="#d7d7d5"/>
<rect x="756.5" y="777.2" width="10.6" height="14.5" fill="#dbdace"/>
<rect x="756.5" y="791.4" width="10.6" height="53.1" fill="#d7d7d5"/>
<rect x="756.5" y="844.2" width="10.6" height="20.0" fill="#d6d6d6"/>
<rect x="766.7" y="544.0" width="10.6" height="4.6" fill="#d4d9cc"/>
<rect x="766.7" y="548.3" width="10.6" height="21.1" fill="#d6d6d6"/>
<rect x="766.7" y="569.0" width="10.6" height="7.9" fill="#d7d7d5"/>
<rect x="766.7" y="576.6" width="10.6" height="7.9" fill="#d6d6d6"/>
<rect x="766.7" y="584.2" width="10.6" height="7.9" fill="#d7d7d5"/>
<rect x="766.7" y="591.8" width="10.6" height="126.7" fill="#d6d6d6"/>
<rect x="766.7" y="718.2" width="10.6" height="5.9" fill="#d7d7d5"/>
<rect x="766.7" y="723.8" width="10.6" height="5.9" fill="#d6d6d6"/>
<rect x="766.7" y="729.4" width="10.6" height="107.2" fill="#d7d7d5"/>
<rect x="766.7" y="836.3" width="10.6" height="6.9" fill="#d6d6d6"/>
<rect x="766.7" y="842.9" width="10.6" height="6.9" fill="#d7d7d5"/>
<rect x="766.7" y="849.5" width="10.6" height="14.7" fill="#d6d6d6"/>
<rect x="777.0" y="540.5" width="10.6" height="6.0" fill="#d4d9cc"/>
<rect x="777.0" y="546.2" width="10.6" height="12.5" fill="#d7d7d5"/>
<rect x="777.0" y="558.4" width="10.6" height="93.7" fill="#d6d6d6"/>
<rect x="777.0" y="651.8" width="10.6" height="14.5" fill="#d7d7d5"/>
<rect x="777.0" y="666.0" width="10.6" height="63.3" fill="#d6d6d6"/>
<rect x="777.0" y="729.0" width="10.6" height="5.9" fill="#d7d7d5"/>
<rect x="777.0" y="734.7" width="10.6" height="20.1" fill="#d6d6d6"/>
<rect x="777.0" y="754.5" width="10.6" height="20.1" fill="#d7d7d5"/>
<rect x="777.0" y="774.3" width="10.6" height="14.5" fill="#d6d6d6"/>
<rect x="777.0" y="788.4" width="10.6" height="13.5" fill="#d7d7d5"/>
<rect x="777.0" y="801.6" width="10.6" height="26.7" fill="#d6d6d6"/>
<rect x="777.0" y="828.0" width="10.6" height="5.9" fill="#d7d7d5"/>
<rect x="777.0" y="833.7" width="10.6" height="30.5" fill="#d6d6d6"/>
<rect x="787.3" y="544.0" width="10.6" height="3.2" fill="#d6d6d6"/>
<rect x="787.3" y="546.9" width="10.6" height="6.9" fill="#d7d7d5"/>
<rect x="787.3" y="553.5" width="10.6" height="6.9" fill="#d6d6d6"/>
<rect x="787.3" y="560.1" width="10.6" height="33.3" fill="#d7d7d5"/>
<rect x="787.3" y="593.1" width="10.6" height="13.5" fill="#d6d6d6"/>
<rect x="787.3" y="606.3" width="10.6" height="5.9" fill="#d7d7d5"/>
<rect x="787.3" y="612.0" width="10.6" height="37.9" fill="#d6d6d6"/>
<rect x="787.3" y="649.6" width="10.6" height="7.9" fill="#d7d7d5"/>
<rect x="787.3" y="657.2" width="10.6" height="6.9" fill="#d6d6d6"/>
<rect x="787.3" y="663.8" width="10.6" height="6.9" fill="#d7d7d5"/>
<rect x="787.3" y="670.4" width="10.6" height="6.9" fill="#d6d6d6"/>
<rect x="787.3" y="677.0" width="10.6" height="12.5" fill="#d7d7d5"/>
<rect x="787.3" y="689.2" width="10.6" height="6.9" fill="#d6d6d6"/>
<rect x="787.3" y="695.8" width="10.6" height="12.5" fill="#d7d7d5"/>
<rect x="787.3" y="708.0" width="10.6" height="6.9" fill="#d6d6d6"/>
<rect x="787.3" y="714.6" width="10.6" height="13.5" fill="#d7d7d5"/>
<rect x="787.3" y="727.8" width="10.6" height="5.9" fill="#d6d6d6"/>
<rect x="787.3" y="733.4" width="10.6" height="6.9" fill="#d7d7d5"/>
<rect x="787.3" y="740.0" width="10.6" height="20.1" fill="#d6d6d6"/>
<rect x="787.3" y="759.8" width="10.6" height="7.9" fill="#d7d7d5"/>
<rect x="787.3" y="767.4" width="10.6" height="13.5" fill="#d6d6d6"/>
<rect x="787.3" y="780.6" width="10.6" height="6.9" fill="#d7d7d5"/>
<rect x="787.3" y="787.2" width="10.6" height="14.5" fill="#d6d6d6"/>
<rect x="787.3" y="801.4" width="10.6" height="7.9" fill="#d7d7d5"/>
<rect x="787.3" y="809.0" width="10.6" height="13.5" fill="#d6d6d6"/>
<rect x="787.3" y="822.2" width="10.6" height="14.5" fill="#d7d7d5"/>
<rect x="787.3" y="836.4" width="10.6" height="15.5" fill="#d6d6d6"/>
<rect x="787.3" y="851.5" width="10.6" height="5.9" fill="#d7d7d5"/>
<rect x="787.3" y="857.1" width="10.6" height="7.1" fill="#d6d6d6"/>
<rect x="797.6" y="543.0" width="10.6" height="4.9" fill="#d3dec2"/>
<rect x="797.6" y="547.6" width="10.6" height="5.9" fill="#d6d6d6"/>
<rect x="797.6" y="553.2" width="10.6" height="6.9" fill="#d7d7d5"/>
<rect x="797.6" y="559.8" width="10.6" height="6.9" fill="#d6d6d6"/>
<rect x="797.6" y="566.4" width="10.6" height="91.7" fill="#d7d7d5"/>
<rect x="797.6" y="657.8" width="10.6" height="11.5" fill="#d6d6d6"/>
<rect x="797.6" y="669.0" width="10.6" height="12.5" fill="#d7d7d5"/>
<rect x="797.6" y="681.2" width="10.6" height="31.3" fill="#d6d6d6"/>
<rect x="797.6" y="712.3" width="10.6" height="12.5" fill="#d7d7d5"/>
<rect x="797.6" y="724.5" width="10.6" height="12.5" fill="#d6d6d6"/>
<rect x="797.6" y="736.7" width="10.6" height="5.9" fill="#d7d7d5"/>
<rect x="797.6" y="742.3" width="10.6" height="5.9" fill="#d6d6d6"/>
<rect x="797.6" y="747.9" width="10.6" height="6.9" fill="#d7d7d5"/>
<rect x="797.6" y="754.5" width="10.6" height="7.9" fill="#d6d6d6"/>
<rect x="797.6" y="762.1" width="10.6" height="6.9" fill="#d7d7d5"/>
<rect x="797.6" y="768.7" width="10.6" height="6.9" fill="#d6d6d6"/>
<rect x="797.6" y="775.3" width="10.6" height="7.9" fill="#d7d7d5"/>
<rect x="797.6" y="782.9" width="10.6" height="7.9" fill="#d6d6d6"/>
<rect x="797.6" y="790.5" width="10.6" height="12.5" fill="#d7d7d5"/>
<rect x="797.6" y="802.7" width="10.6" height="13.5" fill="#d6d6d6"/>
<rect x="797.6" y="815.9" width="10.6" height="50.7" fill="#d7d7d5"/>
<rect x="807.9" y="543.0" width="10.6" height="6.9" fill="#d4d9cc"/>
<rect x="807.9" y="549.6" width="10.6" height="26.7" fill="#d7d7d5"/>
<rect x="807.9" y="576.0" width="10.6" height="6.9" fill="#dbdace"/>
<rect x="807.9" y="582.6" width="10.6" height="159.7" fill="#d7d7d5"/>
<rect x="807.9" y="742.0" width="10.6" height="22.1" fill="#d6d6d6"/>
<rect x="807.9" y="763.8" width="10.6" height="36.3" fill="#d7d7d5"/>
<rect x="807.9" y="799.7" width="10.6" height="13.5" fill="#d6d6d6"/>
<rect x="807.9" y="812.9" width="10.6" height="53.7" fill="#d7d7d5"/>
<rect x="818.2" y="542.0" width="10.6" height="2.4" fill="#d2e4b8"/>
<rect x="818.2" y="544.1" width="10.6" height="5.9" fill="#d3dec2"/>
<rect x="818.2" y="549.7" width="10.6" height="12.5" fill="#d6d6d6"/>
<rect x="818.2" y="561.9" width="10.6" height="30.3" fill="#d7d7d5"/>
<rect x="818.2" y="591.9" width="10.6" height="58.7" fill="#d6d6d6"/>
<rect x="818.2" y="650.3" width="10.6" height="6.9" fill="#d7d7d5"/>
<rect x="818.2" y="656.9" width="10.6" height="33.3" fill="#d6d6d6"/>
<rect x="818.2" y="689.9" width="10.6" height="6.9" fill="#d7d7d5"/>
<rect x="818.2" y="696.5" width="10.6" height="35.9" fill="#d6d6d6"/>
<rect x="818.2" y="732.2" width="10.6" height="25.7" fill="#d4d9cc"/>
<rect x="818.2" y="757.6" width="10.6" height="5.9" fill="#d6d6d6"/>
<rect x="818.2" y="763.2" width="10.6" height="19.1" fill="#d4d9cc"/>
<rect x="818.2" y="782.0" width="10.6" height="6.9" fill="#d6d6d6"/>
<rect x="818.2" y="788.6" width="10.6" height="34.3" fill="#d4d9cc"/>
<rect x="818.2" y="822.6" width="10.6" height="44.0" fill="#d6d6d6"/>
<rect x="828.4" y="543.0" width="10.6" height="6.6" fill="#cde8ac"/>
<rect x="828.4" y="549.3" width="10.6" height="5.9" fill="#d4d9cc"/>
<rect x="828.4" y="554.9" width="10.6" height="13.5" fill="#d6d6d6"/>
<rect x="828.4" y="568.1" width="10.6" height="33.3" fill="#d7d7d5"/>
<rect x="828.4" y="601.1" width="10.6" height="19.1" fill="#d6d6d6"/>
<rect x="828.4" y="619.9" width="10.6" height="5.9" fill="#d7d7d5"/>
<rect x="828.4" y="625.5" width="10.6" height="26.7" fill="#d6d6d6"/>
<rect x="828.4" y="651.9" width="10.6" height="12.5" fill="#d7d7d5"/>
<rect x="828.4" y="664.2" width="10.6" height="5.9" fill="#d6d6d6"/>
<rect x="828.4" y="669.8" width="10.6" height="19.1" fill="#d7d7d5"/>
<rect x="828.4" y="688.6" width="10.6" height="38.9" fill="#d6d6d6"/>
<rect x="828.4" y="727.2" width="10.6" height="13.5" fill="#d4d9cc"/>
<rect x="828.4" y="740.4" width="10.6" height="6.9" fill="#d6d6d6"/>
<rect x="828.4" y="747.0" width="10.6" height="53.1" fill="#d4d9cc"/>
<rect x="828.4" y="799.8" width="10.6" height="24.7" fill="#d6d6d6"/>
<rect x="828.4" y="824.2" width="10.6" height="6.9" fill="#d7d7d5"/>
<rect x="828.4" y="830.8" width="10.6" height="12.5" fill="#d6d6d6"/>
<rect x="828.4" y="843.0" width="10.6" height="13.5" fill="#d7d7d5"/>
<rect x="828.4" y="856.2" width="10.6" height="10.4" fill="#d6d6d6"/>
<rect x="838.7" y="540.5" width="10.6" height="10.8" fill="#c8eca0"/>
<rect x="838.7" y="551.0" width="10.6" height="6.9" fill="#d3dec2"/>
<rect x="838.7" y="557.6" width="10.6" height="64.3" fill="#d6d6d6"/>
<rect x="838.7" y="621.6" width="10.6" height="14.5" fill="#d7d7d5"/>
<rect x="838.7" y="635.8" width="10.6" height="14.5" fill="#d6d6d6"/>
<rect x="838.7" y="650.0" width="10.6" height="7.9" fill="#d7d7d5"/>
<rect x="838.7" y="657.6" width="10.6" height="67.3" fill="#d6d6d6"/>
<rect x="838.7" y="724.5" width="10.6" height="15.5" fill="#d4d9cc"/>
<rect x="838.7" y="739.7" width="10.6" height="6.9" fill="#d6d6d6"/>
<rect x="838.7" y="746.3" width="10.6" height="6.9" fill="#d4d9cc"/>
<rect x="838.7" y="752.9" width="10.6" height="7.9" fill="#d6d6d6"/>
<rect x="838.7" y="760.5" width="10.6" height="46.5" fill="#d4d9cc"/>
<rect x="838.7" y="806.7" width="10.6" height="59.9" fill="#d6d6d6"/>
<rect x="849.0" y="540.3" width="10.6" height="4.5" fill="#d3dec2"/>
<rect x="849.0" y="544.5" width="10.6" height="5.9" fill="#d2e4b8"/>
<rect x="849.0" y="550.2" width="10.6" height="6.9" fill="#d3dec2"/>
<rect x="849.0" y="556.8" width="10.6" height="71.9" fill="#d6d6d6"/>
<rect x="849.0" y="628.4" width="10.6" height="6.9" fill="#d7d7d5"/>
<rect x="849.0" y="635.0" width="10.6" height="28.7" fill="#d6d6d6"/>
<rect x="849.0" y="663.3" width="10.6" height="6.9" fill="#d7d7d5"/>
<rect x="849.0" y="669.9" width="10.6" height="196.7" fill="#d6d6d6"/>
<rect x="859.3" y="543.0" width="10.6" height="14.4" fill="#d6d6d6"/>
<rect x="859.3" y="557.1" width="10.6" height="7.9" fill="#d7d7d5"/>
<rect x="859.3" y="564.7" width="10.6" height="34.3" fill="#d6d6d6"/>
<rect x="859.3" y="598.7" width="10.6" height="5.9" fill="#d7d7d5"/>
<rect x="859.3" y="604.3" width="10.6" height="6.9" fill="#d6d6d6"/>
<rect x="859.3" y="610.9" width="10.6" height="21.1" fill="#d7d7d5"/>
<rect x="859.3" y="631.7" width="10.6" height="21.1" fill="#d6d6d6"/>
<rect x="859.3" y="652.5" width="10.6" height="21.1" fill="#d7d7d5"/>
<rect x="859.3" y="673.3" width="10.6" height="12.5" fill="#d6d6d6"/>
<rect x="859.3" y="685.5" width="10.6" height="6.9" fill="#d7d7d5"/>
<rect x="859.3" y="692.1" width="10.6" height="20.1" fill="#d6d6d6"/>
<rect x="859.3" y="711.9" width="10.6" height="7.9" fill="#d7d7d5"/>
<rect x="859.3" y="719.5" width="10.6" height="5.9" fill="#d6d6d6"/>
<rect x="859.3" y="725.1" width="10.6" height="6.9" fill="#d7d7d5"/>
<rect x="859.3" y="731.7" width="10.6" height="33.3" fill="#d6d6d6"/>
<rect x="859.3" y="764.7" width="10.6" height="6.9" fill="#d7d7d5"/>
<rect x="859.3" y="771.3" width="10.6" height="34.3" fill="#d6d6d6"/>
<rect x="859.3" y="805.3" width="10.6" height="11.5" fill="#d7d7d5"/>
<rect x="859.3" y="816.5" width="10.6" height="6.9" fill="#d6d6d6"/>
<rect x="859.3" y="823.1" width="10.6" height="22.1" fill="#d7d7d5"/>
<rect x="859.3" y="844.9" width="10.6" height="21.7" fill="#d6d6d6"/>
<rect x="869.6" y="540.3" width="10.6" height="10.3" fill="#d6d6d6"/>
<rect x="869.6" y="550.3" width="10.6" height="6.9" fill="#d7d7d5"/>
<rect x="869.6" y="556.9" width="10.6" height="32.3" fill="#d6d6d6"/>
<rect x="869.6" y="589.0" width="10.6" height="6.9" fill="#d7d7d5"/>
<rect x="869.6" y="595.6" width="10.6" height="7.9" fill="#d6d6d6"/>
<rect x="869.6" y="603.1" width="10.6" height="6.9" fill="#d7d7d5"/>
<rect x="869.6" y="609.7" width="10.6" height="6.9" fill="#d6d6d6"/>
<rect x="869.6" y="616.3" width="10.6" height="7.9" fill="#d7d7d5"/>
<rect x="869.6" y="623.9" width="10.6" height="6.9" fill="#d6d6d6"/>
<rect x="869.6" y="630.5" width="10.6" height="7.9" fill="#d7d7d5"/>
<rect x="869.6" y="638.1" width="10.6" height="5.9" fill="#d6d6d6"/>
<rect x="869.6" y="643.7" width="10.6" height="20.1" fill="#d7d7d5"/>
<rect x="869.6" y="663.5" width="10.6" height="7.9" fill="#d6d6d6"/>
<rect x="869.6" y="671.1" width="10.6" height="6.9" fill="#d7d7d5"/>
<rect x="869.6" y="677.7" width="10.6" height="6.9" fill="#d6d6d6"/>
<rect x="869.6" y="684.3" width="10.6" height="65.3" fill="#d7d7d5"/>
<rect x="869.6" y="749.3" width="10.6" height="6.9" fill="#d6d6d6"/>
<rect x="869.6" y="755.9" width="10.6" height="87.1" fill="#d7d7d5"/>
<rect x="869.6" y="842.7" width="10.6" height="6.9" fill="#d6d6d6"/>
<rect x="869.6" y="849.3" width="10.6" height="6.9" fill="#d7d7d5"/>
<rect x="869.6" y="855.9" width="10.6" height="5.9" fill="#d6d6d6"/>
<rect x="869.6" y="861.5" width="10.6" height="5.1" fill="#d7d7d5"/>
<rect x="879.8" y="540.3" width="10.6" height="175.9" fill="#d6d6d6"/>
<rect x="879.8" y="715.9" width="10.6" height="33.3" fill="#d7d7d5"/>
<rect x="879.8" y="748.9" width="10.6" height="38.9" fill="#d6d6d6"/>
<rect x="879.8" y="787.5" width="10.6" height="6.9" fill="#d7d7d5"/>
<rect x="879.8" y="794.1" width="10.6" height="6.9" fill="#dbdace"/>
<rect x="879.8" y="800.7" width="10.6" height="14.5" fill="#d7d7d5"/>
<rect x="879.8" y="814.9" width="10.6" height="51.7" fill="#d6d6d6"/>
<rect x="890.1" y="540.5" width="10.6" height="174.5" fill="#d7d7d5"/>
<rect x="890.1" y="714.7" width="10.6" height="35.3" fill="#dbdace"/>
<rect x="890.1" y="749.7" width="10.6" height="116.9" fill="#d7d7d5"/>
<rect x="900.4" y="540.5" width="10.6" height="136.4" fill="#d6d6d6"/>
<rect x="900.4" y="676.6" width="10.6" height="7.9" fill="#d7d7d5"/>
<rect x="900.4" y="684.2" width="10.6" height="46.5" fill="#d6d6d6"/>
<rect x="900.4" y="730.4" width="10.6" height="13.5" fill="#d7d7d5"/>
<rect x="900.4" y="743.6" width="10.6" height="123.0" fill="#d6d6d6"/>
<rect x="910.7" y="543.0" width="10.6" height="5.4" fill="#d7d7d5"/>
<rect x="910.7" y="548.1" width="10.6" height="6.9" fill="#dbdace"/>
<rect x="910.7" y="554.7" width="10.6" height="6.9" fill="#d7d7d5"/>
<rect x="910.7" y="561.3" width="10.6" height="7.9" fill="#d6d6d6"/>
<rect x="910.7" y="568.9" width="10.6" height="6.9" fill="#d7d7d5"/>
<rect x="910.7" y="575.5" width="10.6" height="7.9" fill="#d6d6d6"/>
<rect x="910.7" y="583.1" width="10.6" height="5.9" fill="#d7d7d5"/>
<rect x="910.7" y="588.7" width="10.6" height="6.9" fill="#d6d6d6"/>
<rect x="910.7" y="595.3" width="10.6" height="6.9" fill="#d7d7d5"/>
<rect x="910.7" y="601.9" width="10.6" height="70.9" fill="#d6d6d6"/>
<rect x="910.7" y="672.5" width="10.6" height="7.9" fill="#d7d7d5"/>
<rect x="910.7" y="680.1" width="10.6" height="5.9" fill="#d6d6d6"/>
<rect x="910.7" y="685.7" width="10.6" height="11.5" fill="#d7d7d5"/>
<rect x="910.7" y="696.9" width="10.6" height="169.7" fill="#d6d6d6"/>
<rect x="921.0" y="540.5" width="10.6" height="8.2" fill="#d7d7d5"/>
<rect x="921.0" y="548.4" width="10.6" height="6.9" fill="#dfdec8"/>
<rect x="921.0" y="555.0" width="10.6" height="6.9" fill="#d7d7d5"/>
<rect x="921.0" y="561.6" width="10.6" height="6.9" fill="#d6d6d6"/>
<rect x="921.0" y="568.2" width="10.6" height="12.5" fill="#d7d7d5"/>
<rect x="921.0" y="580.4" width="10.6" height="19.1" fill="#d6d6d6"/>
<rect x="921.0" y="599.2" width="10.6" height="7.9" fill="#d7d7d5"/>
<rect x="921.0" y="606.8" width="10.6" height="5.9" fill="#d6d6d6"/>
<rect x="921.0" y="612.4" width="10.6" height="6.9" fill="#d7d7d5"/>
<rect x="921.0" y="619.0" width="10.6" height="20.1" fill="#d6d6d6"/>
<rect x="921.0" y="638.8" width="10.6" height="18.1" fill="#d7d7d5"/>
<rect x="921.0" y="656.7" width="10.6" height="209.9" fill="#d6d6d6"/>
<rect x="931.3" y="540.5" width="10.6" height="7.4" fill="#dbdace"/>
<rect x="931.3" y="547.6" width="10.6" height="5.9" fill="#d7d7d5"/>
<rect x="931.3" y="553.2" width="10.6" height="150.5" fill="#d6d6d6"/>
<rect x="931.3" y="703.4" width="10.6" height="163.2" fill="#d4d9cc"/>
<rect x="941.5" y="542.0" width="10.6" height="7.6" fill="#dfdec8"/>
<rect x="941.5" y="549.3" width="10.6" height="5.9" fill="#d7d7d5"/>
<rect x="941.5" y="554.9" width="10.6" height="144.5" fill="#d6d6d6"/>
<rect x="941.5" y="699.1" width="10.6" height="29.7" fill="#d4d9cc"/>
<rect x="941.5" y="728.5" width="10.6" height="6.9" fill="#d3dec2"/>
<rect x="941.5" y="735.1" width="10.6" height="39.9" fill="#d4d9cc"/>
<rect x="941.5" y="774.7" width="10.6" height="12.5" fill="#d3dec2"/>
<rect x="941.5" y="786.9" width="10.6" height="6.9" fill="#d2e4b8"/>
<rect x="941.5" y="793.5" width="10.6" height="21.1" fill="#cde8ac"/>
<rect x="941.5" y="814.3" width="10.6" height="5.9" fill="#d3dec2"/>
<rect x="941.5" y="819.9" width="10.6" height="46.7" fill="#d4d9cc"/>
<rect x="951.8" y="540.5" width="10.6" height="13.9" fill="#e2e2b9"/>
<rect x="951.8" y="554.1" width="10.6" height="6.9" fill="#d7d7d5"/>
<rect x="951.8" y="560.7" width="10.6" height="21.1" fill="#d6d6d6"/>
<rect x="951.8" y="581.5" width="10.6" height="49.5" fill="#d4d9cc"/>
<rect x="951.8" y="630.7" width="10.6" height="61.7" fill="#d6d6d6"/>
<rect x="951.8" y="692.0" width="10.6" height="20.1" fill="#d4d9cc"/>
<rect x="951.8" y="711.8" width="10.6" height="7.9" fill="#d3dec2"/>
<rect x="951.8" y="719.4" width="10.6" height="6.9" fill="#d2e4b8"/>
<rect x="951.8" y="726.0" width="10.6" height="6.9" fill="#cde8ac"/>
<rect x="951.8" y="732.6" width="10.6" height="52.1" fill="#d2e4b8"/>
<rect x="951.8" y="784.4" width="10.6" height="14.5" fill="#c8eca0"/>
<rect x="951.8" y="798.6" width="10.6" height="6.9" fill="#bce89a"/>
<rect x="951.8" y="805.2" width="10.6" height="7.9" fill="#c8eca0"/>
<rect x="951.8" y="812.8" width="10.6" height="7.9" fill="#cde8ac"/>
<rect x="951.8" y="820.4" width="10.6" height="5.9" fill="#d2e4b8"/>
<rect x="951.8" y="826.0" width="10.6" height="20.1" fill="#d3dec2"/>
<rect x="951.8" y="845.8" width="10.6" height="12.5" fill="#d4d9cc"/>
<rect x="951.8" y="858.0" width="10.6" height="8.6" fill="#d3dec2"/>
<rect x="962.1" y="543.0" width="10.6" height="10.9" fill="#e6e693"/>
<rect x="962.1" y="553.6" width="10.6" height="5.9" fill="#e2e2b9"/>
<rect x="962.1" y="559.2" width="10.6" height="6.9" fill="#d7d7d5"/>
<rect x="962.1" y="565.8" width="10.6" height="22.1" fill="#d6d6d6"/>
<rect x="962.1" y="587.6" width="10.6" height="19.1" fill="#d4d9cc"/>
<rect x="962.1" y="606.4" width="10.6" height="7.9" fill="#d6d6d6"/>
<rect x="962.1" y="614.0" width="10.6" height="13.5" fill="#d4d9cc"/>
<rect x="962.1" y="627.2" width="10.6" height="68.3" fill="#d6d6d6"/>
<rect x="962.1" y="695.2" width="10.6" height="5.9" fill="#d4d9cc"/>
<rect x="962.1" y="700.8" width="10.6" height="6.9" fill="#d6d6d6"/>
<rect x="962.1" y="707.4" width="10.6" height="6.9" fill="#d4d9cc"/>
<rect x="962.1" y="714.0" width="10.6" height="6.9" fill="#d3dec2"/>
<rect x="962.1" y="720.6" width="10.6" height="6.9" fill="#d2e4b8"/>
<rect x="962.1" y="727.2" width="10.6" height="6.9" fill="#cde8ac"/>
<rect x="962.1" y="733.8" width="10.6" height="7.9" fill="#c8eca0"/>
<rect x="962.1" y="741.4" width="10.6" height="21.1" fill="#cde8ac"/>
<rect x="962.1" y="762.1" width="10.6" height="6.9" fill="#c8eca0"/>
<rect x="962.1" y="768.7" width="10.6" height="19.1" fill="#cde8ac"/>
<rect x="962.1" y="787.6" width="10.6" height="7.9" fill="#c8eca0"/>
<rect x="962.1" y="795.1" width="10.6" height="5.9" fill="#cde8ac"/>
<rect x="962.1" y="800.8" width="10.6" height="6.9" fill="#c8eca0"/>
<rect x="962.1" y="807.4" width="10.6" height="13.5" fill="#cde8ac"/>
<rect x="962.1" y="820.6" width="10.6" height="6.9" fill="#d2e4b8"/>
<rect x="962.1" y="827.2" width="10.6" height="12.5" fill="#d3dec2"/>
<rect x="962.1" y="839.4" width="10.6" height="12.5" fill="#d4d9cc"/>
<rect x="962.1" y="851.6" width="10.6" height="6.9" fill="#d3dec2"/>
<rect x="962.1" y="858.2" width="10.6" height="8.4" fill="#d4d9cc"/>
<rect x="972.4" y="543.0" width="10.6" height="4.9" fill="#e5e5aa"/>
<rect x="972.4" y="547.6" width="10.6" height="5.9" fill="#e6e693"/>
<rect x="972.4" y="553.2" width="10.6" height="6.9" fill="#e2e2b9"/>
<rect x="972.4" y="559.8" width="10.6" height="6.9" fill="#d7d7d5"/>
<rect x="972.4" y="566.4" width="10.6" height="59.7" fill="#d4d9cc"/>
<rect x="972.4" y="625.8" width="10.6" height="62.7" fill="#d6d6d6"/>
<rect x="972.4" y="688.2" width="10.6" height="18.1" fill="#d4d9cc"/>
<rect x="972.4" y="706.0" width="10.6" height="6.9" fill="#d3dec2"/>
<rect x="972.4" y="712.6" width="10.6" height="12.5" fill="#d2e4b8"/>
<rect x="972.4" y="724.8" width="10.6" height="7.9" fill="#cde8ac"/>
<rect x="972.4" y="732.4" width="10.6" height="7.9" fill="#bce89a"/>
<rect x="972.4" y="740.0" width="10.6" height="18.1" fill="#c8eca0"/>
<rect x="972.4" y="757.8" width="10.6" height="6.9" fill="#bce89a"/>
<rect x="972.4" y="764.4" width="10.6" height="6.9" fill="#c8eca0"/>
<rect x="972.4" y="771.0" width="10.6" height="12.5" fill="#bce89a"/>
<rect x="972.4" y="783.2" width="10.6" height="7.9" fill="#c8eca0"/>
<rect x="972.4" y="790.8" width="10.6" height="5.9" fill="#bce89a"/>
<rect x="972.4" y="796.4" width="10.6" height="20.1" fill="#c8eca0"/>
<rect x="972.4" y="816.2" width="10.6" height="7.9" fill="#cde8ac"/>
<rect x="972.4" y="823.8" width="10.6" height="6.9" fill="#d2e4b8"/>
<rect x="972.4" y="830.4" width="10.6" height="36.2" fill="#d3dec2"/>
<rect x="982.7" y="541.0" width="10.6" height="2.7" fill="#e5e5aa"/>
<rect x="982.7" y="543.4" width="10.6" height="7.9" fill="#e8e67c"/>
<rect x="982.7" y="551.0" width="10.6" height="7.9" fill="#e6e693"/>
<rect x="982.7" y="558.6" width="10.6" height="5.9" fill="#dbdace"/>
<rect x="982.7" y="564.2" width="10.6" height="45.5" fill="#d6d6d6"/>
<rect x="982.7" y="609.4" width="10.6" height="7.9" fill="#d4d9cc"/>
<rect x="982.7" y="617.0" width="10.6" height="32.3" fill="#d6d6d6"/>
<rect x="982.7" y="649.0" width="10.6" height="33.3" fill="#d7d7d5"/>
<rect x="982.7" y="682.0" width="10.6" height="22.1" fill="#d6d6d6"/>
<rect x="982.7" y="703.8" width="10.6" height="13.5" fill="#d4d9cc"/>
<rect x="982.7" y="717.0" width="10.6" height="6.9" fill="#d3dec2"/>
<rect x="982.7" y="723.6" width="10.6" height="26.7" fill="#d2e4b8"/>
<rect x="982.7" y="750.0" width="10.6" height="7.9" fill="#cde8ac"/>
<rect x="982.7" y="757.6" width="10.6" height="15.5" fill="#d2e4b8"/>
<rect x="982.7" y="772.8" width="10.6" height="33.3" fill="#cde8ac"/>
<rect x="982.7" y="805.8" width="10.6" height="6.9" fill="#d2e4b8"/>
<rect x="982.7" y="812.4" width="10.6" height="6.9" fill="#cde8ac"/>
<rect x="982.7" y="819.0" width="10.6" height="6.9" fill="#d2e4b8"/>
<rect x="982.7" y="825.6" width="10.6" height="5.9" fill="#d3dec2"/>
<rect x="982.7" y="831.2" width="10.6" height="22.1" fill="#d4d9cc"/>
<rect x="982.7" y="853.0" width="10.6" height="6.9" fill="#d6d6d6"/>
<rect x="982.7" y="859.6" width="10.6" height="7.0" fill="#d4d9cc"/>
<rect x="993.0" y="544.0" width="10.6" height="13.7" fill="#e5e5aa"/>
<rect x="993.0" y="557.4" width="10.6" height="6.9" fill="#d7d7d5"/>
<rect x="993.0" y="564.0" width="10.6" height="6.9" fill="#d6d6d6"/>
<rect x="993.0" y="570.6" width="10.6" height="7.9" fill="#d4d9cc"/>
<rect x="993.0" y="578.2" width="10.6" height="14.5" fill="#d3dec2"/>
<rect x="993.0" y="592.4" width="10.6" height="12.5" fill="#d4d9cc"/>
<rect x="993.0" y="604.6" width="10.6" height="5.9" fill="#d3dec2"/>
<rect x="993.0" y="610.2" width="10.6" height="20.1" fill="#d4d9cc"/>
<rect x="993.0" y="630.0" width="10.6" height="62.3" fill="#d6d6d6"/>
<rect x="993.0" y="692.1" width="10.6" height="23.1" fill="#d4d9cc"/>
<rect x="993.0" y="714.8" width="10.6" height="6.9" fill="#d3dec2"/>
<rect x="993.0" y="721.4" width="10.6" height="52.1" fill="#d2e4b8"/>
<rect x="993.0" y="773.2" width="10.6" height="20.1" fill="#cde8ac"/>
<rect x="993.0" y="793.0" width="10.6" height="14.5" fill="#c8eca0"/>
<rect x="993.0" y="807.2" width="10.6" height="13.5" fill="#cde8ac"/>
<rect x="993.0" y="820.4" width="10.6" height="5.9" fill="#d2e4b8"/>
<rect x="993.0" y="826.0" width="10.6" height="40.6" fill="#d3dec2"/>
<rect x="1003.2" y="540.3" width="10.6" height="3.0" fill="#e2e2b9"/>
<rect x="1003.2" y="543.0" width="10.6" height="7.9" fill="#e6e693"/>
<rect x="1003.2" y="550.6" width="10.6" height="7.9" fill="#e2e2b9"/>
<rect x="1003.2" y="558.2" width="10.6" height="6.9" fill="#d7d7d5"/>
<rect x="1003.2" y="564.8" width="10.6" height="6.9" fill="#d6d6d6"/>
<rect x="1003.2" y="571.4" width="10.6" height="5.9" fill="#d4d9cc"/>
<rect x="1003.2" y="577.0" width="10.6" height="14.5" fill="#d3dec2"/>
<rect x="1003.2" y="591.2" width="10.6" height="37.9" fill="#d4d9cc"/>
<rect x="1003.2" y="628.8" width="10.6" height="73.9" fill="#d6d6d6"/>
<rect x="1003.2" y="702.4" width="10.6" height="14.5" fill="#d4d9cc"/>
<rect x="1003.2" y="716.6" width="10.6" height="12.5" fill="#d3dec2"/>
<rect x="1003.2" y="728.8" width="10.6" height="14.5" fill="#d4d9cc"/>
<rect x="1003.2" y="743.0" width="10.6" height="28.7" fill="#d3dec2"/>
<rect x="1003.2" y="771.3" width="10.6" height="26.7" fill="#d4d9cc"/>
<rect x="1003.2" y="797.7" width="10.6" height="7.9" fill="#d2e4b8"/>
<rect x="1003.2" y="805.3" width="10.6" height="20.1" fill="#d3dec2"/>
<rect x="1003.2" y="825.1" width="10.6" height="41.5" fill="#d4d9cc"/>
<rect x="1013.5" y="543.0" width="10.6" height="8.7" fill="#e6e693"/>
<rect x="1013.5" y="551.4" width="10.6" height="6.9" fill="#e2e2b9"/>
<rect x="1013.5" y="558.0" width="10.6" height="5.9" fill="#d7d7d5"/>
<rect x="1013.5" y="563.6" width="10.6" height="7.9" fill="#d6d6d6"/>
<rect x="1013.5" y="571.2" width="10.6" height="7.9" fill="#d4d9cc"/>
<rect x="1013.5" y="578.8" width="10.6" height="21.1" fill="#d3dec2"/>
<rect x="1013.5" y="599.6" width="10.6" height="29.7" fill="#d4d9cc"/>
<rect x="1013.5" y="628.9" width="10.6" height="23.7" fill="#d6d6d6"/>
<rect x="1013.5" y="652.4" width="10.6" height="5.9" fill="#d7d7d5"/>
<rect x="1013.5" y="658.0" width="10.6" height="38.9" fill="#d6d6d6"/>
<rect x="1013.5" y="696.6" width="10.6" height="13.5" fill="#d4d9cc"/>
<rect x="1013.5" y="709.8" width="10.6" height="6.9" fill="#d3dec2"/>
<rect x="1013.5" y="716.4" width="10.6" height="6.9" fill="#d4d9cc"/>
<rect x="1013.5" y="723.0" width="10.6" height="63.7" fill="#d3dec2"/>
<rect x="1013.5" y="786.3" width="10.6" height="6.9" fill="#d4d9cc"/>
<rect x="1013.5" y="792.9" width="10.6" height="39.9" fill="#d3dec2"/>
<rect x="1013.5" y="832.5" width="10.6" height="6.9" fill="#d4d9cc"/>
<rect x="1013.5" y="839.1" width="10.6" height="7.9" fill="#d3dec2"/>
<rect x="1013.5" y="846.7" width="10.6" height="14.5" fill="#d4d9cc"/>
<rect x="1013.5" y="860.9" width="10.6" height="5.7" fill="#d3dec2"/>
<rect x="1023.8" y="544.0" width="10.6" height="3.1" fill="#e5e5aa"/>
<rect x="1023.8" y="546.8" width="10.6" height="5.9" fill="#e8e67c"/>
<rect x="1023.8" y="552.5" width="10.6" height="5.9" fill="#e5e5aa"/>
<rect x="1023.8" y="558.1" width="10.6" height="5.9" fill="#dbdace"/>
<rect x="1023.8" y="563.7" width="10.6" height="7.9" fill="#d6d6d6"/>
<rect x="1023.8" y="571.3" width="10.6" height="5.9" fill="#d4d9cc"/>
<rect x="1023.8" y="576.9" width="10.6" height="13.5" fill="#d3dec2"/>
<rect x="1023.8" y="590.1" width="10.6" height="40.9" fill="#d4d9cc"/>
<rect x="1023.8" y="630.7" width="10.6" height="68.3" fill="#d6d6d6"/>
<rect x="1023.8" y="698.6" width="10.6" height="54.8" fill="#d4d9cc"/>
<rect x="1023.8" y="753.1" width="10.6" height="6.9" fill="#d3dec2"/>
<rect x="1023.8" y="759.7" width="10.6" height="106.9" fill="#d4d9cc"/>
<rect x="1034.1" y="540.5" width="10.6" height="6.9" fill="#e6e693"/>
<rect x="1034.1" y="547.1" width="10.6" height="5.9" fill="#e8e67c"/>
<rect x="1034.1" y="552.7" width="10.6" height="5.9" fill="#e2e2b9"/>
<rect x="1034.1" y="558.3" width="10.6" height="5.9" fill="#d7d7d5"/>
<rect x="1034.1" y="563.9" width="10.6" height="22.1" fill="#d6d6d6"/>
<rect x="1034.1" y="585.7" width="10.6" height="6.9" fill="#d4d9cc"/>
<rect x="1034.1" y="592.3" width="10.6" height="6.9" fill="#d6d6d6"/>
<rect x="1034.1" y="598.9" width="10.6" height="14.5" fill="#d4d9cc"/>
<rect x="1034.1" y="613.1" width="10.6" height="27.7" fill="#d6d6d6"/>
<rect x="1034.1" y="640.5" width="10.6" height="54.1" fill="#d7d7d5"/>
<rect x="1034.1" y="694.3" width="10.6" height="42.9" fill="#d6d6d6"/>
<rect x="1034.1" y="736.8" width="10.6" height="24.7" fill="#d4d9cc"/>
<rect x="1034.1" y="761.2" width="10.6" height="19.1" fill="#d6d6d6"/>
<rect x="1034.1" y="780.1" width="10.6" height="5.9" fill="#d4d9cc"/>
<rect x="1034.1" y="785.7" width="10.6" height="26.7" fill="#d6d6d6"/>
<rect x="1034.1" y="812.1" width="10.6" height="14.5" fill="#d4d9cc"/>
<rect x="1034.1" y="826.3" width="10.6" height="13.5" fill="#d6d6d6"/>
<rect x="1034.1" y="839.5" width="10.6" height="13.5" fill="#d4d9cc"/>
<rect x="1034.1" y="852.7" width="10.6" height="13.9" fill="#d6d6d6"/>
<rect x="1044.4" y="544.0" width="10.6" height="8.4" fill="#e2e2b9"/>
<rect x="1044.4" y="552.1" width="10.6" height="13.5" fill="#d7d7d5"/>
<rect x="1044.4" y="565.3" width="10.6" height="25.7" fill="#d6d6d6"/>
<rect x="1044.4" y="590.7" width="10.6" height="6.9" fill="#d4d9cc"/>
<rect x="1044.4" y="597.3" width="10.6" height="33.3" fill="#d6d6d6"/>
<rect x="1044.4" y="630.3" width="10.6" height="71.9" fill="#d7d7d5"/>
<rect x="1044.4" y="702.0" width="10.6" height="164.6" fill="#d6d6d6"/>
<rect x="1054.7" y="541.0" width="10.6" height="14.2" fill="#e5e5aa"/>
<rect x="1054.7" y="554.9" width="10.6" height="6.9" fill="#d7d7d5"/>
<rect x="1054.7" y="561.5" width="10.6" height="7.9" fill="#d6d6d6"/>
<rect x="1054.7" y="569.1" width="10.6" height="61.7" fill="#d4d9cc"/>
<rect x="1054.7" y="630.5" width="10.6" height="122.7" fill="#d6d6d6"/>
<rect x="1054.7" y="752.9" width="10.6" height="7.9" fill="#d4d9cc"/>
<rect x="1054.7" y="760.5" width="10.6" height="19.1" fill="#d6d6d6"/>
<rect x="1054.7" y="779.3" width="10.6" height="5.9" fill="#d4d9cc"/>
<rect x="1054.7" y="784.9" width="10.6" height="54.1" fill="#d6d6d6"/>
<rect x="1054.7" y="838.7" width="10.6" height="13.5" fill="#d4d9cc"/>
<rect x="1054.7" y="851.9" width="10.6" height="14.7" fill="#d6d6d6"/>
<rect x="1064.9" y="542.0" width="10.6" height="4.5" fill="#e5e5aa"/>
<rect x="1064.9" y="546.2" width="10.6" height="6.9" fill="#e6e693"/>
<rect x="1064.9" y="552.8" width="10.6" height="6.9" fill="#e5e5aa"/>
<rect x="1064.9" y="559.4" width="10.6" height="6.9" fill="#d6d6d6"/>
<rect x="1064.9" y="566.0" width="10.6" height="12.5" fill="#d4d9cc"/>
<rect x="1064.9" y="578.2" width="10.6" height="7.9" fill="#d3dec2"/>
<rect x="1064.9" y="585.8" width="10.6" height="76.5" fill="#d4d9cc"/>
<rect x="1064.9" y="662.0" width="10.6" height="6.9" fill="#d6d6d6"/>
<rect x="1064.9" y="668.6" width="10.6" height="67.3" fill="#d4d9cc"/>
<rect x="1064.9" y="735.6" width="10.6" height="5.9" fill="#d3dec2"/>
<rect x="1064.9" y="741.2" width="10.6" height="18.1" fill="#d4d9cc"/>
<rect x="1064.9" y="759.1" width="10.6" height="22.1" fill="#d3dec2"/>
<rect x="1064.9" y="780.8" width="10.6" height="25.7" fill="#d4d9cc"/>
<rect x="1064.9" y="806.2" width="10.6" height="20.1" fill="#d3dec2"/>
<rect x="1064.9" y="826.0" width="10.6" height="12.5" fill="#d4d9cc"/>
<rect x="1064.9" y="838.3" width="10.6" height="6.9" fill="#d3dec2"/>
<rect x="1064.9" y="844.9" width="10.6" height="14.5" fill="#d4d9cc"/>
<rect x="1064.9" y="859.0" width="10.6" height="5.2" fill="#d3dec2"/>
<rect x="622.4" y="545.0" width="10.4" height="7.6" fill="#3e5a9a"/>
<rect x="622.4" y="552.6" width="10.4" height="1.6" fill="#6cbf86"/>
<rect x="622.4" y="554.2" width="10.4" height="1.6" fill="#b6e49c"/>
<rect x="633.2" y="542.2" width="10.0" height="13.6" fill="#dcdcd8"/>
<rect x="643.2" y="542.2" width="10.0" height="2.0" fill="#8bd38a"/>
<rect x="643.2" y="544.2" width="10.0" height="7.6" fill="#3aa486"/>
<rect x="643.2" y="551.8" width="10.0" height="3.6" fill="#4a78be"/>
<rect x="663.2" y="541.4" width="10.8" height="5.6" fill="#b9e69c"/>
<rect x="674.0" y="541.0" width="10.0" height="6.4" fill="#8ad28a"/>
<rect x="684.0" y="541.0" width="10.0" height="6.4" fill="#6ec486"/>
<rect x="674.0" y="547.4" width="20.0" height="3.6" fill="#a6de94"/>
<rect x="746.0" y="541.0" width="10.0" height="2.4" fill="#8ad28a"/>
<rect x="808.0" y="542.2" width="31.0" height="3.2" fill="#a9df96"/>
<rect x="839.0" y="545.4" width="7.0" height="2.8" fill="#5fbb82"/>
<rect x="839.0" y="548.2" width="7.0" height="2.4" fill="#32a088"/>
<rect x="846.0" y="542.2" width="13.6" height="2.8" fill="#b6e49c"/>
<rect x="846.0" y="545.0" width="6.0" height="4.0" fill="#8ad28a"/>
<rect x="870.0" y="543.0" width="10.0" height="6.8" fill="#3474b4"/>
<rect x="870.0" y="549.8" width="10.0" height="5.2" fill="#3ea284"/>
<rect x="870.0" y="555.0" width="10.0" height="2.4" fill="#9ad88e"/>
<rect x="880.0" y="543.0" width="9.6" height="3.6" fill="#3f9e92"/>
<rect x="880.0" y="546.6" width="8.4" height="4.0" fill="#8ad28a"/>
<rect x="962.4" y="542.2" width="10.4" height="7.2" fill="#f2d428"/>
<rect x="962.4" y="549.4" width="10.4" height="4.0" fill="#eee474"/>
<rect x="972.8" y="542.2" width="20.6" height="6.8" fill="#ebe79a"/>
<rect x="993.4" y="542.2" width="20.6" height="5.2" fill="#f4c808"/>
<rect x="993.4" y="547.4" width="20.6" height="4.8" fill="#f1d830"/>
<rect x="1014.0" y="542.2" width="20.4" height="5.2" fill="#f6c000"/>
<rect x="1014.0" y="547.4" width="20.4" height="4.4" fill="#f3d020"/>
<rect x="1034.4" y="542.2" width="31.2" height="4.0" fill="#f8b000"/>
<rect x="1034.4" y="546.2" width="10.8" height="6.0" fill="#f5c410"/>
<rect x="1065.6" y="542.2" width="10.0" height="8.0" fill="#f6bc08"/>
<rect x="1065.6" y="550.2" width="10.0" height="5.6" fill="#f2d42c"/>
</g>
<clipPath id="c4"><rect x="622.3" y="540.0" width="453.4" height="326.0"/></clipPath>
<g clip-path="url(#c4)" fill="none" stroke="#000" stroke-width="1" stroke-linejoin="round" shape-rendering="crispEdges">
<path d="M633.0 546.0L637.0 542.6L652.0 542.6L658.0 547.0L659.6 553.0L654.0 556.0L642.0 557.4L635.0 555.0ZM643.0 543.0L643.2 556.6M652.4 543.4L651.6 555.8M651.0 543.4L650.4 555.8M629.6 545.4L630.8 554.0M632.0 545.0L631.6 554.2M623.0 561.0L628.0 556.0L632.0 553.0M659.6 553.0L666.0 556.0L674.0 559.0L684.0 556.0L692.0 552.6L697.0 547.0L700.0 544.0L704.0 542.6L714.0 543.0M734.0 544.0L738.0 548.0L746.0 547.4L758.0 546.0L766.0 543.4L776.0 541.4M703.6 548.0L707.0 547.0L706.0 552.0L704.0 551.0ZM714.0 549.0L720.0 548.6L717.0 553.0ZM700.0 543.4L712.0 545.0M631.6 583.0L635.0 578.0L643.0 576.0L647.0 581.4L646.0 585.0L642.0 587.4L636.0 585.0ZM690.0 582.0L693.0 576.0L700.0 575.4L705.6 578.6L707.0 584.0L702.0 588.6L694.0 589.4L691.0 586.0ZM718.4 580.0L722.0 571.0L725.6 566.0L730.0 572.0L731.0 580.0L726.0 587.4L722.0 584.6ZM724.2 560.0L725.4 558.6L726.6 560.0L725.4 561.6ZM780.4 550.0L785.0 546.6L789.0 547.4L791.0 551.0L786.0 553.4L782.0 552.6ZM798.0 543.0L806.0 549.0L814.0 545.4L824.0 544.0L832.0 549.0L839.0 552.0L846.0 555.0M826.0 545.0L836.0 547.0L846.0 547.4M622.4 668.0L625.0 669.4L623.0 671.4M860.0 544.0L866.0 543.0L900.0 543.4L891.0 549.0L884.0 555.0L870.0 559.0L864.0 553.0L861.0 554.0ZM860.0 544.0L860.4 554.0M863.6 544.0L864.0 553.0M846.0 546.0L850.0 545.0L856.0 547.4L854.0 552.0L846.0 555.0M846.0 547.0L854.0 550.0M846.0 548.6L853.6 551.0M846.0 550.0L852.0 552.6M914.4 549.0L934.0 548.0L933.0 552.0L922.0 557.4L917.0 553.0ZM926.0 546.0L935.0 547.0M926.0 546.6L935.0 547.6M934.0 545.0L950.0 545.4L955.0 551.0L962.0 556.0L974.0 558.6L986.0 559.0L998.0 557.4L1006.0 555.0L1013.0 553.4L1018.0 556.0L1024.0 560.0L1032.0 560.0L1038.0 557.0L1043.0 553.0L1046.0 547.0L1054.0 546.0L1058.0 552.0L1063.0 557.0L1067.0 560.0L1075.6 559.4M930.0 543.4L962.0 543.0M930.0 544.0L958.0 543.8M998.4 591.0L1000.0 581.0L1006.0 578.0L1013.0 576.6L1022.0 578.0L1034.0 577.0L1037.6 581.0L1037.0 587.0L1034.0 592.0L1022.0 593.0L1012.0 594.0L1004.0 597.4L999.0 594.0ZM1075.6 578.0L1064.0 578.6L1062.4 583.0L1064.4 588.6L1070.0 587.4L1075.6 586.6M1065.0 589.0L1068.0 588.0L1067.0 592.0ZM869.0 588.0L873.0 583.4L880.0 581.4L881.6 584.6L876.0 588.6L871.0 590.6ZM872.0 587.4L876.0 585.0L879.0 584.0M951.0 585.0L954.0 584.0L953.0 588.6ZM1044.0 587.4L1046.0 585.4M685.6 756.0L689.0 752.0L695.0 750.0L702.0 753.0L705.0 758.0L706.0 766.0L705.0 771.6L698.0 773.0L692.0 774.4L690.0 766.0L688.4 760.0ZM668.4 775.0L674.0 770.4L682.0 774.0L694.0 778.4L706.0 782.4L715.0 786.0L717.0 794.0L716.0 804.0L710.0 800.0L704.0 797.0L694.0 799.0L682.0 798.0L677.0 791.0L670.4 786.0ZM749.0 791.0L754.0 785.0L756.4 780.4L759.0 786.0L756.0 791.0L752.0 792.0ZM745.0 800.0L746.0 794.0L751.0 796.0ZM622.4 731.0L625.0 740.0L626.4 748.0L625.0 757.0L622.4 764.0M622.4 812.0L629.0 816.0L635.6 819.6L630.0 821.6L622.4 821.6M641.6 724.0L643.0 721.0L645.6 725.0ZM672.4 809.0L684.4 809.0L684.0 813.6L681.6 812.0L673.0 809.6ZM673.0 809.4L684.0 810.0M941.6 792.0L946.0 790.4L954.0 785.0L961.0 775.0L960.0 762.0L963.0 748.0L960.0 738.0L956.0 732.0L957.0 724.0L962.0 718.4L968.0 720.0L971.0 726.0L969.0 735.0L965.6 743.0L964.0 750.0L968.0 756.0L973.0 759.0L978.0 752.0L982.0 745.0L983.0 741.0L986.0 742.0L989.0 748.0L994.0 752.4L993.0 762.0L991.0 770.0L994.0 776.0L999.0 780.0L999.0 790.0L997.0 796.0L1004.0 798.0L1010.0 803.0L1006.0 809.0L1004.4 820.0L1004.0 826.0L999.0 818.0L994.0 816.0L988.0 823.0L983.0 828.0L978.0 822.0L974.0 816.0L973.0 813.0L968.0 820.0L962.0 825.0L956.0 823.0L949.0 818.0L946.0 808.0L944.0 800.0ZM964.0 750.0L968.0 756.0L973.0 759.0L977.0 767.0L978.0 775.0L973.0 781.0L967.0 778.0L965.0 772.0L968.0 766.0L973.0 759.0M976.4 725.0L984.0 720.0L993.0 718.4L995.0 721.0L992.0 727.0L986.0 732.0L983.0 735.6L981.0 730.0ZM970.4 810.0L973.0 806.4L975.6 809.6L973.0 813.0ZM1075.6 759.0L1070.0 763.6L1065.6 767.6L1072.0 770.4L1075.6 770.4M889.0 731.0L890.4 735.0L889.6 739.0L888.4 735.0ZM879.0 795.6L880.2 799.0L879.6 802.4L878.6 799.0ZM1033.0 802.0L1034.0 801.0L1035.0 802.0L1034.0 803.2ZM1065.2 792.4L1066.4 791.2L1067.6 792.4L1066.4 793.6ZM1072.0 799.0L1075.6 797.6M941.6 702.4L942.4 703.6"/>
<path d="M663.0 617.0L660.0 611.0L662.0 606.6L671.0 607.0L675.0 610.0L672.0 612.0L666.0 614.0L662.0 619.0L655.0 621.0L647.0 617.0L638.0 614.0L630.0 611.0L626.0 603.0L625.0 593.0L622.0 583.0M666.0 614.0L670.0 621.0L671.0 629.0L673.0 634.0L676.0 626.0L686.0 626.0L694.0 627.4L700.0 623.0L705.0 618.6L712.0 623.0L716.0 631.0L715.0 639.0L718.0 644.0L724.0 639.0L723.0 647.0L721.0 655.0L718.0 657.0L710.0 653.0L705.0 649.4L706.0 655.0L708.0 660.0L704.0 667.0L701.0 675.0L703.0 683.0L708.0 691.0L710.0 700.0M626.0 569.0L634.0 566.0L644.0 565.0L656.0 565.4L666.0 566.0L674.0 567.0L682.0 563.0L690.0 559.0L698.0 554.0L700.0 549.0M714.0 555.0L715.6 563.0L714.0 571.0L715.0 579.0L715.6 589.0L715.0 597.0L713.0 605.0L715.0 609.0L718.0 601.0L726.0 597.0L734.0 593.0L736.0 585.0L735.6 577.0L738.0 571.0L746.0 568.0L755.0 568.0L764.0 574.0L772.0 578.0L780.0 575.0L790.0 576.0L798.0 581.0L806.0 574.0L812.0 567.0L820.0 561.0L832.0 559.0L842.0 560.0L846.0 563.0M770.0 551.0L772.0 559.0L780.0 568.0L790.0 576.0M794.0 547.0L795.0 559.0L799.0 569.0L804.0 576.0L810.0 581.0L809.0 595.0L806.0 604.0L798.0 611.0L791.0 615.0L788.0 623.0L782.0 619.0L776.0 614.0L766.0 618.0L761.0 614.0L764.0 605.0L766.0 595.0L765.0 589.0L770.0 588.0L773.0 595.0L776.0 601.0L786.0 606.0L794.0 604.0L800.0 597.0L799.0 587.0L794.0 583.0L788.0 585.0L787.0 593.0M720.0 613.0L726.0 611.0L734.0 615.0L744.0 618.0L748.0 617.0L742.0 623.0L734.0 623.0L726.0 620.0ZM745.0 643.0L754.0 642.0L766.0 644.0L776.0 650.0L782.0 648.0L786.0 643.0L789.0 647.0L788.0 655.0L792.0 663.0L791.0 675.0L788.0 687.0L787.0 700.0M760.0 647.0L758.0 655.0L752.0 661.0L749.0 668.0L755.0 673.0L763.0 669.0L764.0 660.0L766.0 655.0L769.0 663.0L770.0 675.0L772.0 682.0L778.0 687.0L784.0 689.0M721.0 655.0L724.0 665.0L722.0 675.0L726.0 679.0L730.0 669.0L734.0 659.0L736.0 655.0L728.0 653.0M662.0 653.0L666.0 654.0L672.0 657.0L674.0 665.0L673.0 673.0L668.0 673.0L664.0 667.0L661.6 659.0ZM805.0 627.0L810.0 623.0L818.0 623.0L826.0 625.0L825.0 630.0L818.0 636.0L810.0 633.0ZM846.0 595.0L840.0 599.0L839.0 605.0L843.0 610.0L846.0 611.0M838.0 615.0L842.0 617.0M846.0 633.0L839.0 635.0L834.0 643.0L826.0 647.0L823.0 653.0L828.0 657.0L836.0 660.0L840.0 667.0L844.0 675.0L846.0 683.0M825.0 694.0L832.0 691.0L840.0 690.0L846.0 689.0M663.0 689.0L665.0 695.0L672.0 698.0M742.0 585.0L746.0 590.0L744.0 586.0M638.0 559.0L642.0 561.0L649.0 560.0M814.0 551.0L818.0 555.0L822.0 552.0M680.0 579.0L684.0 578.0M726.0 545.0L728.0 542.0M782.0 542.0L786.0 544.0M846.0 555.0L854.0 556.0L855.0 563.0L854.0 571.0L857.0 578.0L860.0 576.0L856.0 573.0L853.0 575.0M861.0 562.0L866.0 566.0L876.0 569.0L883.0 568.0L887.0 561.0L892.0 557.0L898.4 552.6L906.0 548.6L914.0 548.0M891.0 559.0L898.0 557.0L902.0 561.0L899.0 565.0L895.0 571.0L896.0 576.0L904.0 580.0L912.0 576.0L906.0 575.0L901.0 578.0M906.0 553.0L910.0 559.0L913.0 567.0L920.0 572.0L925.0 580.0L928.0 587.0L934.0 591.0L940.0 590.0L939.0 575.0L936.0 559.0L937.0 551.0M846.0 583.0L854.0 585.0L860.0 593.0L860.0 603.0L858.0 609.0L850.0 611.0L846.0 610.6M908.0 611.0L904.0 609.4L896.0 612.0L889.0 619.0L881.0 624.0L872.0 629.0L866.0 625.0L861.0 617.0L855.0 615.0L850.0 623.0L852.0 629.0L860.0 630.0L865.0 639.0L872.0 645.0L880.0 653.0L885.0 663.0L886.0 673.0L891.0 679.0L896.0 675.0L898.4 665.0L895.0 657.0L898.4 647.0L904.0 637.0L900.0 631.0L895.0 626.0L894.0 617.0L896.0 612.0M908.0 600.0L914.0 606.0L916.0 615.0L911.0 623.0L916.0 631.0L915.0 641.0L913.0 649.0L921.0 655.0L923.0 667.0L926.0 683.0L927.0 695.0M927.0 601.0L930.0 596.0L937.0 597.0L939.0 602.0L934.0 607.0L929.0 605.0ZM934.0 607.0L929.0 615.0L932.0 621.0L942.0 625.0L948.0 633.0L953.0 638.0L958.0 629.0L959.0 621.0L954.0 613.0L946.0 607.0L940.0 602.0M947.0 553.0L950.0 561.0L958.0 566.0L966.0 571.0L974.0 572.6L986.0 570.6L994.0 571.0L998.0 565.0L1004.0 562.0L1012.0 563.0L1020.0 566.0L1030.0 567.0L1038.0 564.0L1044.0 560.0L1048.0 560.0L1048.0 565.0L1056.0 566.0L1066.0 567.0L1075.6 568.0M979.0 641.0L974.0 639.0L968.0 633.0L969.0 627.0L974.0 629.0L978.0 637.0L982.0 643.0L984.0 637.0L990.0 631.0L996.0 627.4L1004.0 625.0L1012.0 628.0L1018.0 635.0L1024.0 641.0L1030.0 644.0L1038.0 643.0L1046.0 640.0L1043.0 631.0L1040.0 626.0L1046.0 622.0L1054.0 624.0L1060.0 629.0L1066.0 635.0L1072.0 627.0L1075.6 621.0M982.0 643.0L982.0 653.0L990.0 657.0L1000.0 664.0L1010.0 673.0L1020.0 683.0L1030.0 693.0L1038.0 700.0M1000.0 641.0L1006.0 637.0L1012.0 633.0L1018.0 637.0L1022.0 643.0L1025.0 649.0L1028.0 659.0L1024.0 666.0L1018.0 661.0L1020.0 653.0L1024.0 647.0M946.0 657.0L948.0 651.0L952.0 648.0L956.0 652.0L954.0 659.0L951.0 664.0M1031.0 673.0L1038.0 671.0L1044.0 674.0L1045.0 681.0L1040.0 685.0L1033.0 683.0L1029.6 678.0ZM1075.6 649.0L1070.0 657.0L1069.0 665.0L1075.6 671.0M1061.0 700.0L1063.0 687.0L1066.0 680.0L1069.0 687.0L1070.0 700.0M972.0 675.0L973.0 683.0L972.4 690.0M901.0 688.0L908.0 683.0L911.0 675.0L912.0 687.0L910.0 700.0M846.0 655.0L852.0 659.0L855.0 667.0L854.0 679.0L850.0 687.0L846.0 690.0M851.0 575.0L854.0 572.0L857.0 575.0L854.0 578.0ZM666.0 700.0L671.0 706.0L674.0 716.0L680.0 724.0L683.0 732.0L680.0 739.0L674.0 744.0L668.0 743.0L663.0 739.0L658.0 743.0L655.0 750.0L659.0 755.0L656.0 759.6L649.0 758.0L645.0 752.0L640.0 743.0L636.0 732.0L633.0 724.0L630.0 732.0L629.6 748.0L630.4 766.0L634.0 776.0L641.0 782.0L649.0 786.0L656.0 788.0L663.0 794.0L654.0 790.0L647.0 794.0L644.0 802.0L645.0 812.0L649.0 820.0L657.0 822.0L666.0 821.0L670.0 828.0L666.0 835.0L661.0 840.0L658.4 848.0L662.0 855.0L670.0 852.0L676.0 846.0L676.0 840.0L686.0 836.0L694.0 832.0L704.0 830.0L712.0 836.0L718.0 844.0L724.0 854.0L734.0 855.0L742.0 854.0L744.0 844.0L748.0 842.0L755.0 846.0L756.0 854.0L750.0 859.0L738.0 860.0L728.0 859.0L722.0 865.0M675.0 701.0L686.0 704.0L696.0 707.0L702.0 712.0L700.0 722.0L697.0 735.0L704.0 741.0L710.0 746.0L715.0 752.0L721.0 757.0L720.0 768.0L721.0 778.0L725.0 786.0L724.0 795.0L728.0 796.0L730.0 788.0L736.0 784.0L744.0 780.0L749.0 776.0L744.0 768.0L740.0 762.0L742.0 754.0L747.0 746.0L744.0 742.0L734.0 737.0L726.0 733.0L720.0 736.0L715.0 734.0L715.6 727.0L722.0 728.0L728.0 730.0L734.0 721.0L742.0 713.0L746.0 707.0L738.0 708.0L726.0 712.0L716.0 709.0L710.0 704.0L709.0 700.0M751.0 734.0L756.0 729.0L761.0 734.0L756.0 739.0ZM781.0 708.0L786.0 702.0L791.0 707.0L793.0 715.0L800.0 715.6L807.0 719.0L801.0 725.0L796.0 726.0L793.0 719.0L789.0 714.0L783.0 713.0ZM766.0 749.0L776.0 743.0L782.0 749.0L786.0 754.0L782.0 762.0L778.0 770.0L776.0 776.0L780.0 777.0L798.0 777.0L804.0 782.0L810.0 786.4L798.0 785.6L782.0 785.6L770.0 784.0L769.0 781.0L775.0 777.0L772.0 766.0L769.0 756.0ZM792.0 750.0L796.0 741.0L801.0 742.0L806.0 752.0L814.0 758.0L816.0 764.0L810.0 769.0L803.0 766.0L798.0 758.0L793.0 754.0ZM846.0 728.0L838.0 725.0L828.0 730.0L834.0 740.0L835.0 750.0L833.0 760.0L824.0 767.0L816.0 771.0L812.0 777.0L815.0 782.0L824.0 784.0L828.0 779.0L838.0 778.0L842.0 784.0L846.0 788.0M824.0 784.0L818.0 794.0L810.0 804.0L806.0 812.0L808.0 822.0L807.0 832.0L803.0 840.0L806.0 848.0L812.0 852.0L820.0 849.0L814.0 846.0L810.0 838.0L807.0 832.0M770.0 805.0L776.0 800.0L786.0 798.0L791.0 801.0L794.0 806.0L788.0 812.0L787.0 820.0L789.0 828.0L782.0 833.0L776.0 837.0L780.0 828.0L782.0 820.0L776.0 814.0L772.0 809.0ZM806.0 809.0L814.0 806.0L822.0 809.0L825.0 818.0L826.0 828.0L828.0 838.0L836.0 842.0L846.0 840.0M846.0 808.0L838.0 806.0L832.0 809.0L836.0 818.0L844.0 826.0L846.0 830.0M623.0 786.0L630.0 789.0L636.0 796.0L637.0 802.0L632.0 804.0M634.0 855.0L646.0 856.0L658.0 855.0M702.0 808.0L704.0 814.0M806.0 858.0L810.0 860.0M828.0 700.0L834.0 702.0M845.0 708.0L846.0 714.0M724.0 858.0L734.0 856.4L726.0 861.0L734.0 860.0M928.4 700.0L928.0 706.0L926.0 716.0L923.0 726.0L928.0 735.0L934.0 742.0L938.0 749.0L932.0 758.0L928.0 766.0L934.0 771.0L941.6 775.6L940.0 782.0L934.0 790.0L929.0 798.0L934.0 804.0L938.4 809.6L934.0 818.0L932.0 828.0L932.0 836.0L928.0 843.0L921.0 849.0L920.0 854.0L925.0 860.0L930.0 864.0M898.4 726.0L904.0 723.0L910.0 727.0L914.0 734.0L915.0 742.0L911.0 748.0L904.0 749.0L900.0 742.0L899.6 734.0ZM904.0 749.0L898.4 754.0L897.0 762.0L902.0 770.0L908.0 775.0L914.0 770.0L915.0 762.0L911.0 754.0L910.0 749.0M855.0 724.0L862.0 715.0L869.0 709.6L873.0 715.0L872.0 724.0L865.0 726.0L858.0 725.6ZM866.0 757.0L870.0 753.6L877.0 755.0L883.0 760.0L880.0 765.0L872.0 765.0L867.0 761.0ZM846.0 740.0L852.0 752.0L855.0 764.0L853.0 776.0L856.0 786.0L864.0 788.0L872.0 787.0L874.0 794.0L870.0 802.0L866.0 798.0L860.0 795.6L854.0 798.0L853.0 806.0L855.0 814.0L850.0 818.0L846.0 817.0M908.0 849.0L902.0 851.0L894.0 849.0L899.0 846.0L901.0 838.0L904.0 828.0L906.0 818.0L904.0 810.0L898.4 804.0L895.0 798.0L898.4 796.0L904.0 799.6L910.0 801.0L915.0 799.0L912.0 796.4L906.0 794.0L905.0 786.0L900.0 781.0L892.0 779.0L886.0 782.0L888.0 790.0L889.0 804.0L888.0 814.0L883.0 818.0L872.0 816.0L860.0 818.0L854.0 821.0L856.0 828.0L864.0 829.0L872.0 827.0L879.0 832.0L883.0 840.0L889.0 847.0L894.0 849.0M945.0 752.0L948.0 743.0L952.0 741.0L955.0 750.0L954.0 760.0L951.0 763.6L947.0 758.0ZM1003.0 712.0L1006.0 722.0L1010.0 734.0L1016.0 745.0L1024.0 741.0L1026.0 732.0L1020.0 726.0L1012.0 722.0L1006.0 719.0ZM1012.0 758.0L1015.0 764.0L1012.0 770.0L1018.0 776.0L1024.0 784.0L1027.0 777.0L1024.0 771.0L1018.0 770.0M1031.0 700.0L1033.0 710.0L1032.0 720.0L1038.0 726.0L1046.0 733.0L1048.0 740.0L1042.0 749.0L1039.0 758.0L1046.0 762.0L1054.0 767.0L1058.0 760.0L1062.0 748.0L1063.0 736.0L1065.0 722.0L1066.0 714.0L1074.0 716.0M1054.0 767.0L1048.0 776.0L1042.0 784.0L1043.0 792.0L1050.0 795.0L1056.0 792.0L1061.0 784.0L1060.0 776.0ZM1050.0 795.0L1044.0 802.0L1039.0 809.0L1038.0 820.0L1040.0 832.0L1039.0 844.0L1035.0 852.0L1030.0 856.0L1029.0 862.0L1034.0 863.0M1056.0 792.0L1060.0 804.0L1062.0 820.0L1061.0 836.0L1062.0 852.0L1064.0 865.0M1032.0 702.0L1038.0 708.0L1046.0 704.0L1050.0 700.0M1062.0 700.0L1066.0 706.0L1070.0 710.0L1071.0 702.0M1014.0 809.0L1011.0 820.0L1010.0 832.0L1010.0 844.0L1000.0 848.4L1004.0 850.4L1014.0 848.0L1022.0 843.0L1027.0 834.0L1024.0 824.0L1018.0 814.0M939.0 849.0L946.0 844.0L954.0 842.0L961.0 846.0L966.0 853.0L969.0 857.0L962.0 858.0L954.0 857.0L946.0 854.0ZM936.0 862.0L944.0 860.0L954.0 863.0M968.8 838.0L971.6 835.2L974.4 838.0L971.6 840.8ZM918.2 815.0L921.0 812.2L923.8 815.0L921.0 817.8ZM918.0 787.0L923.0 788.0M907.6 702.0L910.4 706.0L913.0 701.6M910.4 706.0L910.4 709.0M846.0 706.0L850.0 703.0L853.0 710.0L850.0 716.0L846.0 715.0M846.0 836.0L852.0 838.0L850.0 844.0L846.0 845.0M890.0 861.0L882.0 860.0L872.0 858.0L877.0 850.0L873.0 845.0L866.0 848.0L856.0 849.0L850.0 852.0L852.0 858.0L858.0 862.0L870.0 863.0M1000.0 862.0L1006.0 861.0L1012.0 864.0" stroke-dasharray="1.35 2.65" stroke-width="1.35"/>
</g>
<g fill="none" stroke="#000" stroke-width="1.5" stroke-linejoin="miter" shape-rendering="crispEdges">
<path d="M641.0 208.0L646.0 210.8L650.2 209.2L653.5 211.7L651.8 213.7L656.0 215.3L663.5 213.7L676.0 211.7L689.3 210.0L697.7 208.7L701.8 207.5L704.3 209.2L706.8 212.5L705.2 213.7L702.7 210.0L699.3 207.0L692.7 208.0L681.0 208.0L672.7 207.0L666.8 207.5L663.5 209.7L656.0 212.5L651.0 211.3L645.2 208.7Z"/>
<path d="M692.7 200.8L702.7 201.7L712.7 202.0L721.0 202.5L726.0 205.8L732.7 209.2L739.3 210.0L747.7 210.8L751.8 211.3L749.3 213.3L750.7 220.0L747.7 221.7L748.5 226.7L744.3 227.5L744.7 233.3L741.8 235.8L738.5 234.2L735.2 230.8L729.3 229.7L732.7 228.3L739.3 227.5L741.8 223.3L739.3 218.3L736.8 213.7L732.7 210.8L727.7 208.0L722.7 204.2L712.7 203.3L702.7 202.5L692.7 201.7Z"/>
<path d="M736.0 213.7L741.0 215.8L737.7 218.3L742.7 220.0L745.2 217.5L747.7 214.2"/>
<path d="M726.0 201.7L730.2 199.7L728.5 203.0"/>
<path d="M711.0 197.5L716.8 197.5"/>
<path d="M734.3 220.0L737.7 221.7L736.0 224.2L740.2 225.0"/>
<path d="M727.7 205.8L731.0 208.0L729.3 210.0"/>
<path d="M739.3 211.7L744.3 213.7L746.8 212.5"/>
<path d="M719.3 220.0L722.7 221.7L721.0 225.0L723.5 227.5" stroke-width="2.2"/>
<path d="M702.7 235.8L704.3 239.2L705.7 242.0" stroke-width="2.2"/>
<path d="M712.7 241.7L714.0 244.7L714.3 247.5" stroke-width="2.2"/>
<path d="M621.8 242.5L625.2 238.3L628.5 237.5L626.0 243.3L623.5 245.0Z" stroke-width="2.0"/>
<path d="M632.7 251.7L635.2 253.3L634.7 255.8" stroke-width="2.2"/>
<path d="M672.7 275.0L677.7 271.7L684.3 268.3L687.7 265.8L686.8 260.8L686.0 257.5L691.0 258.3L696.8 257.5L698.5 261.7L701.8 265.0L704.3 270.0L708.5 271.7L711.8 274.2L711.3 280.0L712.7 285.0L709.3 286.7L703.5 287.5L699.3 289.2L696.0 286.7L692.7 283.3L688.5 280.8L684.3 280.0L677.7 279.2Z"/>
<path d="M698.5 285.0L706.0 283.3L712.7 281.7"/>
<path d="M699.3 287.5L707.7 286.7L714.3 285.0"/>
<path d="M701.8 290.8L712.7 289.2L716.0 286.7"/>
<path d="M704.3 293.3L712.7 292.5"/>
<path d="M702.7 283.3L706.0 285.8L710.2 284.2"/>
<path d="M707.7 296.7L712.7 294.2L716.0 290.0L721.0 289.2L724.3 293.3L725.2 298.3L721.0 303.3L714.3 305.0L711.0 301.7Z"/>
<path d="M664.3 275.0L666.8 275.8L669.3 275.3" stroke-width="2.0"/>
<path d="M719.3 262.5L724.3 260.8L732.7 260.8L736.8 262.0L732.7 264.2L724.3 264.7Z"/>
<path d="M741.8 260.0L747.7 258.3L752.3 257.0" stroke-width="2.0"/>
<path d="M761.0 250.8L766.8 249.2L770.2 245.8L774.3 245.0L775.2 247.5L772.7 249.7L777.7 251.7L786.0 252.5L791.0 254.2L795.2 256.7L799.3 259.2L802.7 260.8L806.0 262.5" stroke-width="1.8"/>
<path d="M799.3 260.8L797.7 265.0L795.2 266.7L792.7 269.2L795.2 270.8L799.3 268.3L800.2 272.5L802.7 276.7L806.0 277.5"/>
<path d="M612.3 337.5L617.7 339.2L622.7 340.0L621.8 343.3L626.0 347.5L636.0 348.3L647.7 348.7L655.2 349.2L657.7 346.7L658.5 349.2L666.0 352.0L676.0 354.2L684.3 357.5L692.7 360.0L699.3 363.3L706.0 365.8L714.3 368.3L722.7 370.0L730.2 371.7" stroke-width="1.6"/>
<path d="M612.3 338.3L616.0 340.0L622.7 340.8" stroke-width="1.8"/>
<path d="M630.2 340.0L636.0 339.7L641.0 340.8L643.5 343.3L649.3 345.8L654.3 346.7" stroke-width="1.8"/>
<path d="M631.0 342.5L635.2 340.8L639.3 343.0L641.8 345.0"/>
<path d="M658.5 342.0L661.0 344.2L669.3 344.7L677.7 345.0L681.8 347.5L687.7 346.7L691.8 348.3L694.3 351.7L701.0 354.2L707.7 356.7L712.7 360.0L719.3 363.3L726.0 367.0L736.0 369.7L744.3 372.5L752.7 376.3L761.0 380.8L767.7 381.3L770.2 382.5L772.7 385.0L779.3 385.0L787.7 385.0L792.7 387.5L799.3 389.7L806.0 391.7" stroke-width="1.6"/>
<path d="M659.3 345.8L672.7 347.5L679.3 350.0L679.3 353.3"/>
<path d="M681.0 348.3L689.3 350.3L692.7 354.2L699.3 355.8L702.7 360.0L709.3 361.7"/>
<path d="M691.0 355.8L697.7 358.3L702.7 363.3"/>
<path d="M706.0 361.7L719.3 365.8L726.0 368.3"/>
<path d="M712.7 365.8L722.7 368.3L731.0 372.5"/>
<path d="M687.7 345.8L691.0 345.0L692.7 348.3"/>
<path d="M612.3 375.0L622.7 375.8L639.3 375.8L647.7 374.7L656.0 373.3L659.3 375.0L663.5 378.3L667.7 384.2L670.2 390.0L671.0 393.3" stroke-width="1.6"/>
<path d="M650.2 376.7L654.3 380.8L656.0 379.2"/>
<path d="M646.8 375.8L651.8 377.0"/>
<path d="M615.2 390.8L618.5 389.7L622.7 390.0L626.0 392.0L622.7 393.7"/>
<path d="M612.3 313.3L613.3 313.3"/>
<path d="M823.0 274.4L826.0 273.6L831.0 274.4L836.0 279.0L839.0 283.0L843.0 288.0L846.0 291.0"/>
<path d="M823.0 275.6L829.0 277.0L834.0 282.0L838.0 286.0"/>
<path d="M796.0 256.0L800.0 260.0L803.0 259.0L806.0 261.0L802.0 265.0L800.0 270.0L802.0 275.0L805.0 277.0"/>
<path d="M796.0 264.0L799.0 266.0L798.0 269.0"/>
<path d="M796.0 300.0L802.0 304.0L808.0 308.0" stroke-width="1.4"/>
<path d="M808.0 309.0L816.0 311.0L822.0 313.0L830.0 314.4L837.0 316.0" stroke-width="2.2"/>
<path d="M811.0 314.0L815.0 312.4"/>
<path d="M844.0 306.0L849.0 308.0L854.0 313.0L858.0 317.0L861.0 319.0L860.0 324.0L866.0 326.0L872.0 329.0L875.0 332.0L873.0 334.0L870.0 331.0L864.0 328.0L858.0 326.0L854.0 323.0L856.0 319.0L852.0 316.0L848.4 312.0L845.0 309.0Z"/>
<path d="M847.6 322.0L850.4 322.4" stroke-width="2"/>
<path d="M868.4 306.4L874.0 305.6L876.4 307.0L873.0 308.4L869.0 308.0Z" stroke-width="1.6"/>
<path d="M887.6 296.0L890.0 293.0L896.0 292.4L896.4 295.0L893.0 298.0L889.0 298.4Z" stroke-width="1.5"/>
<path d="M901.0 333.6L908.0 336.0L916.0 335.6L924.0 337.0L928.0 340.0L928.4 343.6L924.0 347.0L916.0 350.0L910.0 353.0L905.0 356.0L903.0 354.4L908.0 351.0L916.0 347.0L923.0 343.0L924.0 340.0L918.0 338.0L914.0 339.0L911.0 342.0L907.0 344.0L908.0 347.0L904.0 346.0L900.0 344.0L898.0 341.6L902.0 339.0Z"/>
<path d="M887.0 360.4L890.0 360.0L893.0 359.6" stroke-width="2.2"/>
<path d="M966.4 349.0L970.0 347.6L980.0 348.0L988.0 349.0L991.0 350.4L988.0 352.0L980.0 351.6L970.0 351.2Z" stroke-width="1.7"/>
<path d="M944.0 342.0L948.0 342.4" stroke-width="2.2"/>
<path d="M936.0 394.4L939.0 390.0L946.0 387.6L954.0 387.0L962.0 389.0L970.0 385.0L977.0 382.4L976.0 387.0L972.0 390.0L968.0 393.6"/>
<path d="M945.0 393.6L950.0 392.0L956.0 393.0"/>
<path d="M970.0 378.0L973.0 376.0L979.0 376.0L980.4 378.0L976.0 379.6L971.6 379.6Z" stroke-width="1.5"/>
<path d="M1001.6 373.0L1005.0 370.4L1006.0 372.0L1003.0 374.4Z" stroke-width="1.5"/>
<path d="M796.0 389.0L801.0 391.0L804.0 392.0L808.0 389.6L818.0 389.0L826.0 390.0L831.0 392.0L835.0 394.0" stroke-width="1.6"/>
<path d="M1010.0 366.5L1013.5 366.2L1014.5 367.5L1020.0 366.8L1021.0 366.2L1022.5 367.8L1020.5 369.0L1018.0 370.5L1015.5 370.0L1011.5 370.5L1011.0 368.5Z" stroke-width="2.0"/>
<path d="M1025.2 362.8L1034.5 362.5L1034.8 365.0L1037.0 365.5L1037.5 368.0L1038.5 370.0L1035.0 370.5L1034.5 369.0L1028.0 369.2L1026.5 368.0L1026.0 365.0Z" stroke-width="1.8"/>
<path d="M1028.0 364.5L1030.0 364.0L1031.0 366.0L1034.0 366.5"/>
<path d="M1038.5 366.5L1044.0 366.5L1045.0 368.0L1047.5 366.5L1050.0 366.8L1051.5 368.8L1050.0 371.0L1049.5 372.2L1045.0 372.2L1042.5 370.0L1040.0 369.0L1038.5 369.0Z" stroke-width="1.6"/>
<path d="M1052.0 372.0L1054.5 369.0L1062.5 369.5L1062.5 372.5L1061.0 374.0L1061.5 377.0L1060.5 379.0L1061.0 381.0L1057.5 381.5L1055.0 379.5L1056.0 377.0L1059.0 376.5L1057.5 374.5L1055.0 374.5Z" stroke-width="1.8"/>
<path d="M1016.0 377.5L1019.5 377.5" stroke-width="2.0"/>
<path d="M1019.5 381.5L1021.5 382.5" stroke-width="2"/>
<path d="M1045.0 384.5L1047.5 385.0" stroke-width="2"/>
<path d="M1051.5 383.5L1053.5 385.0" stroke-width="2"/>
<path d="M1071.5 385.0L1074.5 383.0L1077.5 383.2" stroke-width="2"/>
<path d="M1086.0 338.8L1086.1 338.9"/>
</g>
<g fill="#000" shape-rendering="crispEdges"><rect x="659.1" y="185.6" width="2.2" height="2.2"/><rect x="660.7" y="185.7" width="2.2" height="2.2"/><rect x="662.4" y="185.9" width="2.2" height="2.2"/><rect x="665.7" y="186.4" width="2.2" height="2.2"/><rect x="674.9" y="188.6" width="2.2" height="2.2"/><rect x="676.6" y="188.9" width="2.2" height="2.2"/><rect x="678.2" y="189.2" width="2.2" height="2.2"/><rect x="681.6" y="190.6" width="2.2" height="2.2"/><rect x="682.4" y="198.1" width="2.2" height="2.2"/><rect x="684.1" y="197.2" width="2.2" height="2.2"/><rect x="685.7" y="196.4" width="2.2" height="2.2"/><rect x="687.4" y="195.2" width="2.2" height="2.2"/><rect x="688.2" y="193.9" width="2.2" height="2.2"/><rect x="700.7" y="194.2" width="2.2" height="2.2"/><rect x="668.2" y="202.2" width="2.2" height="2.2"/><rect x="679.9" y="204.7" width="2.2" height="2.2"/><rect x="632.7" y="264.2" width="3.2" height="3.2"/><rect x="633.7" y="263.7" width="3.2" height="3.2"/><rect x="687.9" y="251.1" width="2.8" height="2.8"/><rect x="688.8" y="250.6" width="2.8" height="2.8"/><rect x="703.9" y="302.0" width="2.6" height="2.6"/><rect x="704.7" y="301.5" width="2.6" height="2.6"/><rect x="687.2" y="278.7" width="2.6" height="2.6"/><rect x="688.9" y="278.2" width="2.6" height="2.6"/><rect x="757.2" y="245.4" width="2.6" height="2.6"/><rect x="758.9" y="244.9" width="2.6" height="2.6"/><rect x="760.5" y="244.5" width="2.6" height="2.6"/><rect x="764.1" y="263.9" width="2.2" height="2.2"/><rect x="762.4" y="265.6" width="2.2" height="2.2"/><rect x="761.6" y="267.2" width="2.2" height="2.2"/><rect x="760.9" y="269.2" width="2.2" height="2.2"/><rect x="760.7" y="271.4" width="2.2" height="2.2"/><rect x="761.6" y="273.6" width="2.2" height="2.2"/><rect x="762.4" y="275.6" width="2.2" height="2.2"/><rect x="763.6" y="277.2" width="2.2" height="2.2"/><rect x="764.9" y="278.9" width="2.2" height="2.2"/><rect x="767.4" y="279.7" width="2.2" height="2.2"/><rect x="773.1" y="283.8" width="2.4" height="2.4"/><rect x="775.6" y="285.5" width="2.4" height="2.4"/><rect x="778.1" y="287.1" width="2.4" height="2.4"/><rect x="780.6" y="288.8" width="2.4" height="2.4"/><rect x="783.1" y="290.5" width="2.4" height="2.4"/><rect x="785.6" y="291.8" width="2.4" height="2.4"/><rect x="788.1" y="293.0" width="2.4" height="2.4"/><rect x="790.6" y="294.6" width="2.4" height="2.4"/><rect x="793.1" y="296.3" width="2.4" height="2.4"/><rect x="795.6" y="298.5" width="2.4" height="2.4"/><rect x="798.1" y="300.5" width="2.4" height="2.4"/><rect x="800.6" y="301.8" width="2.4" height="2.4"/><rect x="803.1" y="303.0" width="2.4" height="2.4"/><rect x="699.8" y="349.6" width="2.4" height="2.4"/><rect x="702.3" y="350.8" width="2.4" height="2.4"/><rect x="704.8" y="352.1" width="2.4" height="2.4"/><rect x="706.8" y="353.5" width="2.4" height="2.4"/><rect x="708.1" y="354.6" width="2.4" height="2.4"/><rect x="717.3" y="350.5" width="2.4" height="2.4"/><rect x="718.1" y="350.8" width="2.4" height="2.4"/><rect x="623.1" y="343.0" width="2.4" height="2.4"/><rect x="624.8" y="343.5" width="2.4" height="2.4"/><rect x="642.2" y="390.7" width="2.6" height="2.6"/><rect x="649.7" y="391.2" width="2.6" height="2.6"/><rect x="655.5" y="390.0" width="2.6" height="2.6"/><rect x="656.7" y="389.5" width="2.6" height="2.6"/><rect x="809.8" y="275.8" width="2.4" height="2.4"/><rect x="811.8" y="276.0" width="2.4" height="2.4"/><rect x="814.8" y="276.8" width="2.4" height="2.4"/><rect x="816.8" y="276.8" width="2.4" height="2.4"/><rect x="827.9" y="323.9" width="2.2" height="2.2"/><rect x="828.9" y="324.3" width="2.2" height="2.2"/><rect x="810.9" y="330.9" width="2.2" height="2.2"/><rect x="812.9" y="330.3" width="2.2" height="2.2"/><rect x="814.9" y="329.9" width="2.2" height="2.2"/><rect x="817.9" y="330.5" width="2.2" height="2.2"/><rect x="811.9" y="334.9" width="2.2" height="2.2"/><rect x="811.9" y="340.9" width="2.2" height="2.2"/><rect x="815.9" y="346.9" width="2.2" height="2.2"/><rect x="817.3" y="348.5" width="2.2" height="2.2"/><rect x="818.9" y="349.9" width="2.2" height="2.2"/><rect x="820.5" y="351.9" width="2.2" height="2.2"/><rect x="821.9" y="353.9" width="2.2" height="2.2"/><rect x="822.9" y="355.5" width="2.2" height="2.2"/><rect x="823.9" y="356.9" width="2.2" height="2.2"/><rect x="822.5" y="359.9" width="2.2" height="2.2"/><rect x="897.7" y="356.3" width="2.6" height="2.6"/><rect x="898.7" y="356.3" width="2.6" height="2.6"/><rect x="851.7" y="358.7" width="2.6" height="2.6"/><rect x="853.1" y="358.7" width="2.6" height="2.6"/><rect x="1039.1" y="387.4" width="2.8" height="2.8"/><rect x="1043.6" y="387.4" width="2.8" height="2.8"/><rect x="1044.6" y="387.9" width="2.8" height="2.8"/><rect x="1048.6" y="388.1" width="2.8" height="2.8"/><rect x="1050.1" y="387.4" width="2.8" height="2.8"/></g>
<circle cx="845.8" cy="178.2" r="5.5" fill="#0000b4" stroke="#000" stroke-width="1"/>
<polyline fill="none" stroke="#000" stroke-width="1" points="845.1,186.4 841.1,182.9 829.3,182.9 812.4,190.9 797.6,207.3 797.6,230.0 828.7,244.0 860.7,245.3 885.3,247.3 882.7,237.3 858.7,231.7 835.6,231.3 823.6,245.3 874.7,259.3 899.3,255.3 883.7,253.3 884.7,260.0 909.7,248.3 896.7,236.3 874.7,231.3 861.3,222.0 837.3,220.0 813.6,221.3 787.3,233.3 794.7,242.4 821.6,254.4 875.3,266.4 865.6,277.3 854.7,291.3 865.6,294.7 871.3,296.0 878.7,286.0 859.3,283.3 854.7,283.3 849.3,275.7 845.3,280.7 848.7,284.7 844.0,284.0 842.7,287.3 845.3,288.0 842.0,292.0 838.7,292.0 843.3,293.3 840.7,290.0 841.3,294.0"/>
<circle cx="845.1" cy="186.4" r="5.5" fill="#0000c0" stroke="#000" stroke-width="1"/>
<circle cx="841.1" cy="182.9" r="5.5" fill="#0000d8" stroke="#000" stroke-width="1"/>
<circle cx="829.3" cy="182.9" r="5.5" fill="#0000e8" stroke="#000" stroke-width="1"/>
<circle cx="812.4" cy="190.9" r="5.5" fill="#0008ff" stroke="#000" stroke-width="1"/>
<circle cx="797.6" cy="207.3" r="5.5" fill="#0020ff" stroke="#000" stroke-width="1"/>
<circle cx="797.6" cy="230.0" r="5.5" fill="#0038ff" stroke="#000" stroke-width="1"/>
<circle cx="828.7" cy="244.0" r="5.5" fill="#0058ff" stroke="#000" stroke-width="1"/>
<circle cx="860.7" cy="245.3" r="5.5" fill="#0068ff" stroke="#000" stroke-width="1"/>
<circle cx="885.3" cy="247.3" r="5.5" fill="#0080ff" stroke="#000" stroke-width="1"/>
<circle cx="882.7" cy="237.3" r="5.5" fill="#0090ff" stroke="#000" stroke-width="1"/>
<circle cx="858.7" cy="231.7" r="5.5" fill="#00a8ff" stroke="#000" stroke-width="1"/>
<circle cx="835.6" cy="231.3" r="5.5" fill="#00c0ff" stroke="#000" stroke-width="1"/>
<circle cx="823.6" cy="245.3" r="5.5" fill="#00d0ff" stroke="#000" stroke-width="1"/>
<circle cx="874.7" cy="259.3" r="5.5" fill="#00e8ff" stroke="#000" stroke-width="1"/>
<circle cx="899.3" cy="255.3" r="5.5" fill="#00ffff" stroke="#000" stroke-width="1"/>
<circle cx="883.7" cy="253.3" r="5.5" fill="#30ffd0" stroke="#000" stroke-width="1"/>
<circle cx="884.7" cy="260.0" r="5.5" fill="#48ffb8" stroke="#000" stroke-width="1"/>
<circle cx="909.7" cy="248.3" r="5.5" fill="#60ffa0" stroke="#000" stroke-width="1"/>
<circle cx="896.7" cy="236.3" r="5.5" fill="#78ff88" stroke="#000" stroke-width="1"/>
<circle cx="874.7" cy="231.3" r="5.5" fill="#88ff78" stroke="#000" stroke-width="1"/>
<circle cx="861.3" cy="222.0" r="5.5" fill="#98ff68" stroke="#000" stroke-width="1"/>
<circle cx="837.3" cy="220.0" r="5.5" fill="#a8ff58" stroke="#000" stroke-width="1"/>
<circle cx="813.6" cy="221.3" r="5.5" fill="#c0ff40" stroke="#000" stroke-width="1"/>
<circle cx="787.3" cy="233.3" r="5.5" fill="#d8f028" stroke="#000" stroke-width="1"/>
<circle cx="794.7" cy="242.4" r="5.5" fill="#f0f010" stroke="#000" stroke-width="1"/>
<circle cx="821.6" cy="254.4" r="5.5" fill="#ffff00" stroke="#000" stroke-width="1"/>
<circle cx="875.3" cy="266.4" r="5.5" fill="#ffe000" stroke="#000" stroke-width="1"/>
<circle cx="865.6" cy="277.3" r="5.5" fill="#ffc800" stroke="#000" stroke-width="1"/>
<circle cx="854.7" cy="291.3" r="5.5" fill="#ffa800" stroke="#000" stroke-width="1"/>
<circle cx="865.6" cy="294.7" r="5.5" fill="#ff8800" stroke="#000" stroke-width="1"/>
<circle cx="871.3" cy="296.0" r="5.5" fill="#ff7800" stroke="#000" stroke-width="1"/>
<circle cx="878.7" cy="286.0" r="5.5" fill="#ff6000" stroke="#000" stroke-width="1"/>
<circle cx="859.3" cy="283.3" r="5.5" fill="#ff4800" stroke="#000" stroke-width="1"/>
<circle cx="854.7" cy="283.3" r="5.5" fill="#ff3000" stroke="#000" stroke-width="1"/>
<circle cx="849.3" cy="275.7" r="5.5" fill="#ff1800" stroke="#000" stroke-width="1"/>
<circle cx="845.3" cy="280.7" r="5.5" fill="#f00000" stroke="#000" stroke-width="1"/>
<circle cx="848.7" cy="284.7" r="5.5" fill="#e00000" stroke="#000" stroke-width="1"/>
<circle cx="844.0" cy="284.0" r="5.5" fill="#d00000" stroke="#000" stroke-width="1"/>
<circle cx="842.7" cy="287.3" r="5.5" fill="#c40000" stroke="#000" stroke-width="1"/>
<circle cx="845.3" cy="288.0" r="5.5" fill="#b80000" stroke="#000" stroke-width="1"/>
<circle cx="842.0" cy="292.0" r="5.5" fill="#ac0000" stroke="#000" stroke-width="1"/>
<circle cx="838.7" cy="292.0" r="5.5" fill="#a00000" stroke="#000" stroke-width="1"/>
<circle cx="843.3" cy="293.3" r="5.5" fill="#980000" stroke="#000" stroke-width="1"/>
<circle cx="840.7" cy="290.0" r="5.5" fill="#900000" stroke="#000" stroke-width="1"/>
<circle cx="841.3" cy="294.0" r="5.5" fill="#880000" stroke="#000" stroke-width="1"/>
<path d="M839.30 178.80L852.30 178.80M841.20 174.20L850.40 183.40M845.80 172.30L845.80 185.30M850.40 174.20L841.20 183.40" stroke="#fff" stroke-width="1.1" fill="none"/>
<g transform="translate(47.5,231.0) rotate(-90)"><text x="0" y="0" font-size="22.9" text-anchor="middle"><tspan class="th" font-size="23.5">θ</tspan> <tspan font-size="17" dy="-10">o</tspan><tspan dy="10">C</tspan></text></g>
<g transform="translate(47.5,703.5) rotate(-90)"><text x="0" y="0" font-size="22.9" text-anchor="middle"><tspan class="th" font-size="23.5">θ</tspan> <tspan font-size="17" dy="-10">o</tspan><tspan dy="10">C</tspan></text></g>
<g transform="translate(563.5,700.5) rotate(-90)"><text x="0" y="0" font-size="22.9" text-anchor="middle"><tspan class="th" font-size="23.5">θ</tspan> <tspan font-size="17" dy="-10">o</tspan><tspan dy="10">C</tspan></text></g>
</svg>
</body></html>
